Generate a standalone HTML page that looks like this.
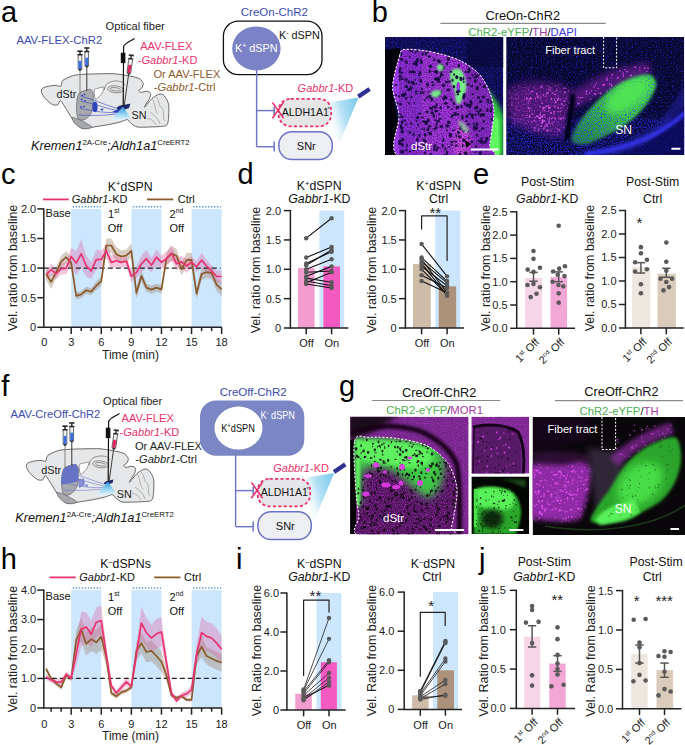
<!DOCTYPE html>
<html><head><meta charset="utf-8"><style>
html,body{margin:0;padding:0;background:#fff;width:685px;height:745px;overflow:hidden}
svg{display:block}
text{font-family:"Liberation Sans", sans-serif}
</style></head><body>
<svg width="685" height="745" viewBox="0 0 685 745" font-family='"Liberation Sans", sans-serif'>
<defs><linearGradient id="coneA" x1="0" y1="0" x2="0" y2="1"><stop offset="0" stop-color="#2f8fe0"/><stop offset="0.5" stop-color="#8ccff2"/><stop offset="1" stop-color="#eef8fd"/></linearGradient><linearGradient id="coneB" x1="1" y1="0" x2="0" y2="0.6"><stop offset="0" stop-color="#74c8ec"/><stop offset="0.55" stop-color="#b4e1f5"/><stop offset="1" stop-color="#ffffff" stop-opacity="0.3"/></linearGradient><filter id="bl1" x="-50%" y="-50%" width="200%" height="200%"><feGaussianBlur stdDeviation="0.5"/></filter><filter id="bl2" x="-50%" y="-50%" width="200%" height="200%"><feGaussianBlur stdDeviation="1.0"/></filter><filter id="bl3" x="-50%" y="-50%" width="200%" height="200%"><feGaussianBlur stdDeviation="1.5"/></filter><filter id="bl4" x="-50%" y="-50%" width="200%" height="200%"><feGaussianBlur stdDeviation="2.0"/></filter><filter id="bl5" x="-50%" y="-50%" width="200%" height="200%"><feGaussianBlur stdDeviation="2.5"/></filter><filter id="bl6" x="-50%" y="-50%" width="200%" height="200%"><feGaussianBlur stdDeviation="3.0"/></filter><filter id="bl8" x="-50%" y="-50%" width="200%" height="200%"><feGaussianBlur stdDeviation="4.0"/></filter><filter id="spBlue" x="0" y="0" width="100%" height="100%" color-interpolation-filters="sRGB"><feTurbulence type="fractalNoise" baseFrequency="0.8" numOctaves="1" seed="3"/><feColorMatrix type="matrix" values="0 0 0 0 0.15  0 0 0 0 0.15  0 0 0 0 0.9  3.0 0 0 0 -1.55"/></filter><filter id="spBlue2" x="0" y="0" width="100%" height="100%" color-interpolation-filters="sRGB"><feTurbulence type="fractalNoise" baseFrequency="0.7" numOctaves="1" seed="7"/><feColorMatrix type="matrix" values="0 0 0 0 0.2  0 0 0 0 0.2  0 0 0 0 1.0  3.0 0 0 0 -1.4"/></filter><filter id="spMag" x="0" y="0" width="100%" height="100%" color-interpolation-filters="sRGB"><feTurbulence type="fractalNoise" baseFrequency="0.7" numOctaves="1" seed="5"/><feColorMatrix type="matrix" values="0 0 0 0 0.8  0 0 0 0 0.2  0 0 0 0 0.85  3.0 0 0 0 -1.6"/></filter><filter id="spMagF" x="0" y="0" width="100%" height="100%" color-interpolation-filters="sRGB"><feTurbulence type="fractalNoise" baseFrequency="0.9" numOctaves="1" seed="21"/><feColorMatrix type="matrix" values="0 0 0 0 0.7  0 0 0 0 0.2  0 0 0 0 0.8  2.5 0 0 0 -1.1"/></filter><filter id="spMagD" x="0" y="0" width="100%" height="100%" color-interpolation-filters="sRGB"><feTurbulence type="fractalNoise" baseFrequency="0.8" numOctaves="1" seed="11"/><feColorMatrix type="matrix" values="0 0 0 0 0.35  0 0 0 0 0.05  0 0 0 0 0.45  2.2 0 0 0 -0.8"/></filter><filter id="spGreen" x="0" y="0" width="100%" height="100%" color-interpolation-filters="sRGB"><feTurbulence type="fractalNoise" baseFrequency="0.7" numOctaves="1" seed="9"/><feColorMatrix type="matrix" values="0 0 0 0 0.3  0 0 0 0 0.95  0 0 0 0 0.3  3.0 0 0 0 -1.5"/></filter><clipPath id="cb1"><rect x="385" y="37" width="118.30000000000001" height="118"/></clipPath><clipPath id="cb1s"><path d="M399.50,56.00 C401.21,50.39 400.37,50.31 404.00,49.50 C407.63,48.69 417.91,49.85 423.70,50.60 C429.49,51.35 436.92,52.90 442.60,54.50 C448.29,56.10 456.19,58.43 461.60,61.30 C467.02,64.16 474.57,69.19 478.70,73.60 C482.82,78.01 486.82,85.28 489.10,90.70 C491.38,96.12 493.46,104.00 493.90,109.70 C494.33,115.40 492.64,123.28 492.00,128.70 C491.36,134.11 490.05,141.56 489.60,145.80 C489.15,150.05 502.51,155.32 489.00,157.00 C475.49,158.68 413.00,163.24 399.50,157.00 C386.00,150.76 400.03,125.92 399.00,115.40 C397.97,104.89 392.53,95.81 392.60,86.90 C392.68,77.99 397.79,61.61 399.50,56.00 Z"/></clipPath><clipPath id="cb2"><rect x="506.2" y="37" width="178.00000000000006" height="118"/></clipPath><mask id="cb2m" maskUnits="userSpaceOnUse" x="0" y="0" width="685" height="745"><path d="M508,90 C520,82 540,80 560,86 L573,91 C571,105 567,122 561,137 C545,135 528,129 512,123 C507,112 506,100 508,90 Z" fill="#fff" filter="url(#bl8)"/></mask><linearGradient id="snb2" x1="1" y1="0" x2="0" y2="1"><stop offset="0" stop-color="#46e046"/><stop offset="0.45" stop-color="#3ccc3c"/><stop offset="1" stop-color="#1f7a44"/></linearGradient><mask id="cb2g" maskUnits="userSpaceOnUse" x="0" y="0" width="685" height="745"><path d="M572.00,141.00 C570.50,138.00 574.33,131.00 577.00,126.00 C579.67,121.00 583.83,115.83 588.00,111.00 C592.17,106.17 597.00,101.33 602.00,97.00 C607.00,92.67 612.33,88.33 618.00,85.00 C623.67,81.67 630.67,78.67 636.00,77.00 C641.33,75.33 646.67,73.83 650.00,75.00 C653.33,76.17 656.00,80.00 656.00,84.00 C656.00,88.00 653.00,94.00 650.00,99.00 C647.00,104.00 642.67,109.33 638.00,114.00 C633.33,118.67 627.83,123.17 622.00,127.00 C616.17,130.83 609.00,134.17 603.00,137.00 C597.00,139.83 591.17,143.33 586.00,144.00 C580.83,144.67 573.50,144.00 572.00,141.00 Z" fill="#fff" filter="url(#bl4)"/></mask><clipPath id="cg1"><rect x="350.2" y="416.7" width="118.40000000000003" height="117.50000000000006"/></clipPath><clipPath id="cg1s"><path d="M354.60,441.00 C356.58,432.70 362.63,437.66 369.20,437.30 C375.77,436.94 389.64,437.31 398.40,438.60 C407.16,439.89 420.16,442.18 427.60,445.90 C435.04,449.62 443.62,457.26 448.00,463.40 C452.38,469.53 455.70,480.23 456.80,486.80 C457.90,493.37 456.11,501.08 455.30,507.20 C454.49,513.32 452.12,523.28 451.40,527.60 C450.68,531.92 464.12,534.74 450.50,536.00 C436.88,537.26 374.33,539.00 360.60,536.00 C346.88,533.00 359.69,522.51 359.00,516.00 C358.31,509.49 356.66,503.85 356.00,492.60 C355.34,481.35 352.62,449.30 354.60,441.00 Z"/></clipPath><clipPath id="cg2"><rect x="471.4" y="416.7" width="57.8" height="56.9"/></clipPath><clipPath id="cg3"><rect x="471.4" y="476.5" width="57.8" height="57.6"/></clipPath><clipPath id="cg4"><rect x="532.6" y="417" width="152.4" height="118"/></clipPath><mask id="cg4t" maskUnits="userSpaceOnUse" x="0" y="0" width="685" height="745"><path d="M526,466 C545,462 560,468 575,463 C583,461 589,465 592,470 C590,488 586,503 580,519 C562,524 545,520 526,518 Z" fill="#fff" filter="url(#bl6)"/></mask></defs>
<rect width="685" height="745" fill="#fff"/>
<text x="0.90" y="22.00" font-size="29" fill="#000" text-anchor="start" >a</text>
<text x="371.70" y="21.80" font-size="29" fill="#000" text-anchor="start" >b</text>
<text x="0.90" y="184.00" font-size="29" fill="#000" text-anchor="start" >c</text>
<text x="237.40" y="184.20" font-size="29" fill="#000" text-anchor="start" >d</text>
<text x="473.00" y="184.00" font-size="29" fill="#000" text-anchor="start" >e</text>
<text x="1.20" y="395.70" font-size="29" fill="#000" text-anchor="start" >f</text>
<text x="339.00" y="396.30" font-size="29" fill="#000" text-anchor="start" >g</text>
<text x="0.70" y="568.90" font-size="29" fill="#000" text-anchor="start" >h</text>
<text x="236.00" y="568.70" font-size="29" fill="#000" text-anchor="start" >i</text>
<text x="479.00" y="569.00" font-size="29" fill="#000" text-anchor="start" >j</text>
<g transform="translate(0,0)">
<path d="M61.00,86.00 C61.41,85.30 61.54,81.42 63.00,80.20 C64.46,78.98 71.05,76.19 73.50,75.50 C75.95,74.81 80.91,74.50 84.00,74.30 C87.09,74.10 96.38,73.86 100.00,73.80 C103.62,73.74 111.38,73.52 115.00,73.80 C118.62,74.08 128.13,75.62 131.00,76.20 C133.87,76.78 138.16,77.94 139.60,78.80 C141.03,79.66 143.04,82.53 143.30,83.60 C143.56,84.67 142.35,87.21 141.80,88.00 C141.25,88.79 138.69,89.89 138.60,90.40 C138.51,90.91 140.01,92.31 141.00,92.40 C141.99,92.49 145.98,91.08 147.10,91.20 C148.22,91.32 150.32,92.55 150.60,93.40 C150.88,94.25 150.04,97.26 149.50,98.50 C148.96,99.74 146.57,102.98 146.00,104.00 C145.43,105.02 143.90,107.84 144.60,107.20 C145.30,106.56 150.33,100.02 152.00,98.50 C153.67,96.98 157.59,94.63 158.90,94.20 C160.21,93.77 162.27,94.16 163.20,94.80 C164.13,95.44 166.25,98.41 166.90,99.70 C167.55,101.00 168.62,103.58 168.80,105.90 C168.98,108.22 168.76,117.28 168.40,119.60 C168.04,121.92 167.89,124.94 165.70,125.80 C163.51,126.66 152.94,126.86 149.60,127.00 C146.26,127.14 139.27,127.43 137.10,127.00 C134.93,126.57 132.16,124.16 131.00,123.30 C129.84,122.44 128.51,119.74 127.20,119.60 C125.89,119.46 121.97,121.52 119.80,122.10 C117.63,122.68 111.21,124.10 108.60,124.60 C105.99,125.10 99.57,126.04 97.40,126.40 C95.23,126.76 91.83,127.48 90.00,127.70 C88.17,127.92 83.62,129.14 81.70,128.30 C79.78,127.46 75.27,122.70 73.50,120.50 C71.73,118.30 68.03,111.73 66.50,109.40 C64.97,107.07 61.41,101.04 60.40,100.50 C59.38,99.96 58.72,104.32 57.80,104.80 C56.88,105.28 53.94,105.30 52.50,104.60 C51.06,103.90 46.80,100.23 45.50,98.80 C44.20,97.36 41.74,93.54 41.40,92.30 C41.06,91.06 41.77,88.91 42.60,88.20 C43.43,87.49 47.05,86.53 48.50,86.20 C49.95,85.87 53.72,85.40 55.00,85.40 C56.28,85.40 58.80,86.13 59.50,86.20 C60.20,86.27 60.59,86.70 61.00,86.00 Z" fill="#e6e7e8" stroke="#3a3a3a" stroke-width="0.75" />
<ellipse cx="115.5" cy="89.3" rx="7.8" ry="3.4" fill="none" stroke="#555" stroke-width="0.6" transform="rotate(6 115.5 89.3)"/>
<ellipse cx="115.5" cy="89.3" rx="5.2" ry="1.6" fill="none" stroke="#555" stroke-width="0.6" transform="rotate(6 115.5 89.3)"/>
<path d="M104.5,90 C104,84 110,80.5 118,81 C122,81.5 124,83 124.5,85" fill="none" stroke="#555" stroke-width="0.6" />
<path d="M94.60,89.50 C95.21,88.57 97.76,88.31 99.00,88.00 C100.24,87.69 103.37,86.80 103.90,87.20 C104.43,87.60 103.33,90.04 103.00,91.00 C102.67,91.96 102.07,93.53 101.40,94.40 C100.73,95.27 98.76,96.82 98.00,97.50 C97.24,98.18 96.18,99.83 95.70,99.50 C95.22,99.17 94.55,96.33 94.40,95.00 C94.25,93.67 93.99,90.43 94.60,89.50 Z" fill="#ffffff" stroke="#555" stroke-width="0.6" />
<path d="M152,99 C156,104 154,110 158,114 M156,97 C160,100 158,106 162,108 C165,112 162,118 165,121 M150,112 C154,115 158,118 160,124 M147,118 C151,119 154,121 156,125" fill="none" stroke="#777" stroke-width="0.5" />
<path d="M72.20,117.50 C72.83,116.99 77.48,118.81 79.40,119.60 C81.32,120.39 84.97,122.47 86.60,123.40 C88.23,124.33 91.32,125.91 91.60,126.60 C91.88,127.29 90.02,128.37 88.70,128.60 C87.38,128.83 83.57,128.99 81.70,128.30 C79.83,127.61 75.97,124.84 74.70,123.40 C73.43,121.96 71.57,118.01 72.20,117.50 Z" fill="#a7a9ac" stroke="#555" stroke-width="0.6" />
<path d="M79.40,93.00 C80.65,91.68 84.85,90.57 86.40,90.10 C87.95,89.63 90.07,88.95 91.00,89.50 C91.93,90.05 93.11,92.67 93.40,94.20 C93.69,95.73 93.28,99.13 93.20,101.00 C93.12,102.87 93.24,106.31 92.80,108.20 C92.36,110.09 91.07,113.64 89.90,115.20 C88.73,116.76 85.56,119.43 84.00,119.90 C82.44,120.37 79.20,120.10 78.20,118.70 C77.20,117.30 76.66,111.89 76.50,109.40 C76.34,106.91 76.61,102.19 77.00,100.00 C77.39,97.81 78.15,94.32 79.40,93.00 Z" fill="#a7a9ac" stroke="#555" stroke-width="0.6" />
<path d="M80.5,96 C95,100 108,106 119,109 M81,101 C95,104 108,109 119,111 M80,108 C95,112 108,113 118,112.5 M79,115 C95,116 108,115 116,114" fill="none" stroke="#2f43c0" stroke-width="0.6" />
<ellipse cx="82" cy="95.5" rx="1.1" ry="0.8" fill="#2f43c0"/>
<ellipse cx="84.5" cy="94.5" rx="1.1" ry="0.8" fill="#2f43c0"/>
<ellipse cx="81.6" cy="99.5" rx="1.1" ry="0.8" fill="#2f43c0"/>
<ellipse cx="85" cy="101" rx="1.1" ry="0.8" fill="#2f43c0"/>
<ellipse cx="81" cy="107" rx="1.1" ry="0.8" fill="#2f43c0"/>
<ellipse cx="84" cy="106.5" rx="1.1" ry="0.8" fill="#2f43c0"/>
<ellipse cx="95" cy="107" rx="2.6" ry="5.2" fill="#2f43c0"/>
<ellipse cx="102" cy="109.5" rx="1.5" ry="1.0" fill="#2f43c0"/>
<path d="M112,112 L120,108 L126,110 L120,113 Z" fill="#2f43c0"/>
<path d="M117,107.5 C120,104.5 126,105 130.5,103.5 L129,108 C125,110 120,110 117,109 Z" fill="#1f2a6e"/>
<path d="M122.9,106.5 L111.5,120 C116,121 125,120.5 130.5,117.5 Z" fill="url(#coneA)"/>
</g>
<g transform="translate(0,0)">
<g transform="rotate(0,80.0,60.4)">
<rect x="77.40" y="50.40" width="5.20" height="1.60" fill="#222" />
<line x1="80.00" y1="52.00" x2="80.00" y2="54.60" stroke="#222" stroke-width="1.4" />
<rect x="77.40" y="54.00" width="5.20" height="1.20" fill="#222" />
<rect x="78.10" y="55.20" width="3.80" height="13.80" fill="#f0f0f0" stroke="#333" stroke-width="0.7"/>
<rect x="78.50" y="60.90" width="3.00" height="8.00" fill="#3a6fe0" />
<path d="M78.1,69.0 L81.9,69.0 L80.6,71.0 L79.4,71.0 Z" fill="#333"/>
<line x1="80.00" y1="71.00" x2="80.00" y2="93.50" stroke="#777" stroke-width="0.9" />
</g>
<g transform="rotate(0,86.8,57.2)">
<rect x="84.20" y="47.20" width="5.20" height="1.60" fill="#222" />
<line x1="86.80" y1="48.80" x2="86.80" y2="51.40" stroke="#222" stroke-width="1.4" />
<rect x="84.20" y="50.80" width="5.20" height="1.20" fill="#222" />
<rect x="84.90" y="52.00" width="3.80" height="13.80" fill="#f0f0f0" stroke="#333" stroke-width="0.7"/>
<rect x="85.30" y="57.70" width="3.00" height="8.00" fill="#3a6fe0" />
<path d="M84.89999999999999,65.80000000000001 L88.7,65.80000000000001 L87.39999999999999,67.80000000000001 L86.2,67.80000000000001 Z" fill="#333"/>
<line x1="86.80" y1="67.80" x2="86.80" y2="90.50" stroke="#222" stroke-width="0.9" />
</g>
<path d="M134.5,38.5 C131,41 125,42.5 123.6,46.5 L123.2,107" fill="none" stroke="#111" stroke-width="1.2" />
<rect x="120.80" y="52.70" width="4.60" height="10.40" fill="#111" />
<g transform="rotate(8,130.0,64.4)">
<rect x="127.40" y="54.40" width="5.20" height="1.60" fill="#222" />
<line x1="130.00" y1="56.00" x2="130.00" y2="58.60" stroke="#222" stroke-width="1.4" />
<rect x="127.40" y="58.00" width="5.20" height="1.20" fill="#222" />
<rect x="128.10" y="59.20" width="3.80" height="13.80" fill="#f0f0f0" stroke="#333" stroke-width="0.7"/>
<rect x="128.50" y="64.90" width="3.00" height="8.00" fill="#e0245e" />
<path d="M128.1,73.0 L131.9,73.0 L130.6,75.0 L129.4,75.0 Z" fill="#333"/>
<line x1="130.00" y1="75.00" x2="130.00" y2="106.00" stroke="#333" stroke-width="0.9" />
</g>
</g>
<g transform="translate(-15,375)">
<path d="M61.00,86.00 C61.41,85.30 61.54,81.42 63.00,80.20 C64.46,78.98 71.05,76.19 73.50,75.50 C75.95,74.81 80.91,74.50 84.00,74.30 C87.09,74.10 96.38,73.86 100.00,73.80 C103.62,73.74 111.38,73.52 115.00,73.80 C118.62,74.08 128.13,75.62 131.00,76.20 C133.87,76.78 138.16,77.94 139.60,78.80 C141.03,79.66 143.04,82.53 143.30,83.60 C143.56,84.67 142.35,87.21 141.80,88.00 C141.25,88.79 138.69,89.89 138.60,90.40 C138.51,90.91 140.01,92.31 141.00,92.40 C141.99,92.49 145.98,91.08 147.10,91.20 C148.22,91.32 150.32,92.55 150.60,93.40 C150.88,94.25 150.04,97.26 149.50,98.50 C148.96,99.74 146.57,102.98 146.00,104.00 C145.43,105.02 143.90,107.84 144.60,107.20 C145.30,106.56 150.33,100.02 152.00,98.50 C153.67,96.98 157.59,94.63 158.90,94.20 C160.21,93.77 162.27,94.16 163.20,94.80 C164.13,95.44 166.25,98.41 166.90,99.70 C167.55,101.00 168.62,103.58 168.80,105.90 C168.98,108.22 168.76,117.28 168.40,119.60 C168.04,121.92 167.89,124.94 165.70,125.80 C163.51,126.66 152.94,126.86 149.60,127.00 C146.26,127.14 139.27,127.43 137.10,127.00 C134.93,126.57 132.16,124.16 131.00,123.30 C129.84,122.44 128.51,119.74 127.20,119.60 C125.89,119.46 121.97,121.52 119.80,122.10 C117.63,122.68 111.21,124.10 108.60,124.60 C105.99,125.10 99.57,126.04 97.40,126.40 C95.23,126.76 91.83,127.48 90.00,127.70 C88.17,127.92 83.62,129.14 81.70,128.30 C79.78,127.46 75.27,122.70 73.50,120.50 C71.73,118.30 68.03,111.73 66.50,109.40 C64.97,107.07 61.41,101.04 60.40,100.50 C59.38,99.96 58.72,104.32 57.80,104.80 C56.88,105.28 53.94,105.30 52.50,104.60 C51.06,103.90 46.80,100.23 45.50,98.80 C44.20,97.36 41.74,93.54 41.40,92.30 C41.06,91.06 41.77,88.91 42.60,88.20 C43.43,87.49 47.05,86.53 48.50,86.20 C49.95,85.87 53.72,85.40 55.00,85.40 C56.28,85.40 58.80,86.13 59.50,86.20 C60.20,86.27 60.59,86.70 61.00,86.00 Z" fill="#e6e7e8" stroke="#3a3a3a" stroke-width="0.75" />
<ellipse cx="115.5" cy="89.3" rx="7.8" ry="3.4" fill="none" stroke="#555" stroke-width="0.6" transform="rotate(6 115.5 89.3)"/>
<ellipse cx="115.5" cy="89.3" rx="5.2" ry="1.6" fill="none" stroke="#555" stroke-width="0.6" transform="rotate(6 115.5 89.3)"/>
<path d="M104.5,90 C104,84 110,80.5 118,81 C122,81.5 124,83 124.5,85" fill="none" stroke="#555" stroke-width="0.6" />
<path d="M94.60,89.50 C95.21,88.57 97.76,88.31 99.00,88.00 C100.24,87.69 103.37,86.80 103.90,87.20 C104.43,87.60 103.33,90.04 103.00,91.00 C102.67,91.96 102.07,93.53 101.40,94.40 C100.73,95.27 98.76,96.82 98.00,97.50 C97.24,98.18 96.18,99.83 95.70,99.50 C95.22,99.17 94.55,96.33 94.40,95.00 C94.25,93.67 93.99,90.43 94.60,89.50 Z" fill="#ffffff" stroke="#555" stroke-width="0.6" />
<path d="M152,99 C156,104 154,110 158,114 M156,97 C160,100 158,106 162,108 C165,112 162,118 165,121 M150,112 C154,115 158,118 160,124 M147,118 C151,119 154,121 156,125" fill="none" stroke="#777" stroke-width="0.5" />
<path d="M72.20,117.50 C72.83,116.99 77.48,118.81 79.40,119.60 C81.32,120.39 84.97,122.47 86.60,123.40 C88.23,124.33 91.32,125.91 91.60,126.60 C91.88,127.29 90.02,128.37 88.70,128.60 C87.38,128.83 83.57,128.99 81.70,128.30 C79.83,127.61 75.97,124.84 74.70,123.40 C73.43,121.96 71.57,118.01 72.20,117.50 Z" fill="#a7a9ac" stroke="#555" stroke-width="0.6" />
<path d="M79.40,93.00 C80.65,91.68 84.85,90.57 86.40,90.10 C87.95,89.63 90.07,88.95 91.00,89.50 C91.93,90.05 93.11,92.67 93.40,94.20 C93.69,95.73 93.28,99.13 93.20,101.00 C93.12,102.87 93.24,106.31 92.80,108.20 C92.36,110.09 91.07,113.64 89.90,115.20 C88.73,116.76 85.56,119.43 84.00,119.90 C82.44,120.37 79.20,120.10 78.20,118.70 C77.20,117.30 76.66,111.89 76.50,109.40 C76.34,106.91 76.61,102.19 77.00,100.00 C77.39,97.81 78.15,94.32 79.40,93.00 Z" fill="#a7a9ac" stroke="#555" stroke-width="0.6" />
<path d="M79.40,93.00 C80.65,91.68 84.85,90.57 86.40,90.10 C87.95,89.63 90.07,88.95 91.00,89.50 C91.93,90.05 93.11,92.67 93.40,94.20 C93.69,95.73 93.31,99.43 93.20,101.00 C93.09,102.57 93.83,105.00 92.60,106.00 C91.37,107.00 86.13,108.10 84.00,108.50 C81.87,108.90 77.53,110.13 76.60,109.00 C75.67,107.87 76.63,102.13 77.00,100.00 C77.37,97.87 78.15,94.32 79.40,93.00 Z" fill="#5a68c8" stroke="none" stroke-width="0" fill-opacity="0.85"/>
<path d="M93,104 L99,103.5 L100,110 L94,113 Z" fill="#5a68c8" stroke="none" stroke-width="0" fill-opacity="0.7"/>
<path d="M80.5,96 C95,100 108,106 119,109 M81,101 C95,104 108,109 119,111 M80,108 C95,112 108,113 118,112.5 M79,115 C95,116 108,115 116,114" fill="none" stroke="#6b78d0" stroke-width="0.6" />
<ellipse cx="101.6" cy="110.6" rx="1.4" ry="1.0" fill="#6b78d0"/>
<path d="M119,108 C121,105.5 125,105.5 128.5,104.5 L127.5,108 C124,109.5 121,109.5 119,109 Z" fill="#1f2a6e"/>
<path d="M122.9,106.5 L111.5,120 C116,121 125,120.5 130.5,117.5 Z" fill="url(#coneA)"/>
</g>
<g transform="translate(-15,375)">
<g transform="rotate(0,80.0,60.4)">
<rect x="77.40" y="50.40" width="5.20" height="1.60" fill="#222" />
<line x1="80.00" y1="52.00" x2="80.00" y2="54.60" stroke="#222" stroke-width="1.4" />
<rect x="77.40" y="54.00" width="5.20" height="1.20" fill="#222" />
<rect x="78.10" y="55.20" width="3.80" height="13.80" fill="#f0f0f0" stroke="#333" stroke-width="0.7"/>
<rect x="78.50" y="60.90" width="3.00" height="8.00" fill="#3a6fe0" />
<path d="M78.1,69.0 L81.9,69.0 L80.6,71.0 L79.4,71.0 Z" fill="#333"/>
<line x1="80.00" y1="71.00" x2="80.00" y2="93.50" stroke="#777" stroke-width="0.9" />
</g>
<g transform="rotate(0,86.8,57.2)">
<rect x="84.20" y="47.20" width="5.20" height="1.60" fill="#222" />
<line x1="86.80" y1="48.80" x2="86.80" y2="51.40" stroke="#222" stroke-width="1.4" />
<rect x="84.20" y="50.80" width="5.20" height="1.20" fill="#222" />
<rect x="84.90" y="52.00" width="3.80" height="13.80" fill="#f0f0f0" stroke="#333" stroke-width="0.7"/>
<rect x="85.30" y="57.70" width="3.00" height="8.00" fill="#3a6fe0" />
<path d="M84.89999999999999,65.80000000000001 L88.7,65.80000000000001 L87.39999999999999,67.80000000000001 L86.2,67.80000000000001 Z" fill="#333"/>
<line x1="86.80" y1="67.80" x2="86.80" y2="90.50" stroke="#222" stroke-width="0.9" />
</g>
<path d="M134.5,38.5 C131,41 125,42.5 123.6,46.5 L123.2,107" fill="none" stroke="#111" stroke-width="1.2" />
<rect x="120.80" y="52.70" width="4.60" height="10.40" fill="#111" />
<g transform="rotate(8,130.0,64.4)">
<rect x="127.40" y="54.40" width="5.20" height="1.60" fill="#222" />
<line x1="130.00" y1="56.00" x2="130.00" y2="58.60" stroke="#222" stroke-width="1.4" />
<rect x="127.40" y="58.00" width="5.20" height="1.20" fill="#222" />
<rect x="128.10" y="59.20" width="3.80" height="13.80" fill="#f0f0f0" stroke="#333" stroke-width="0.7"/>
<rect x="128.50" y="64.90" width="3.00" height="8.00" fill="#e0245e" />
<path d="M128.1,73.0 L131.9,73.0 L130.6,75.0 L129.4,75.0 Z" fill="#333"/>
<line x1="130.00" y1="75.00" x2="130.00" y2="106.00" stroke="#333" stroke-width="0.9" />
</g>
</g>
<text x="16.40" y="43.80" font-size="11.3" fill="#3b4cb0" text-anchor="start" >AAV-FLEX-ChR2</text>
<text x="105.60" y="29.90" font-size="11.1" fill="#222" text-anchor="start" >Optical fiber</text>
<text x="140.20" y="50.20" font-size="11.1" fill="#e8336e" text-anchor="start" >AAV-FLEX</text>
<text x="137.70" y="64.10" font-size="11.1" fill="#e8336e" text-anchor="start" >-<tspan font-style="italic">Gabbr1</tspan>-KD</text>
<text x="153.40" y="77.90" font-size="11.1" fill="#8b5a2b" text-anchor="start" >Or AAV-FLEX</text>
<text x="153.80" y="91.20" font-size="11.1" fill="#8b5a2b" text-anchor="start" >-<tspan font-style="italic">Gabbr1</tspan>-Ctrl</text>
<text x="56.50" y="97.70" font-size="10.8" fill="#222" text-anchor="start" >dStr</text>
<text x="131.60" y="119.10" font-size="10.8" fill="#222" text-anchor="start" >SN</text>
<text x="31.00" y="150.30" font-size="12.7" fill="#111" text-anchor="start" font-style="italic" >Kremen1<tspan font-size="7.8" font-style="normal" dy="-5">2A-Cre</tspan><tspan dy="5">;Aldh1a1</tspan><tspan font-size="7.8" font-style="normal" dy="-5">CreERT2</tspan></text>
<text x="10.50" y="418.40" font-size="11.2" fill="#3b4cb0" text-anchor="start" >AAV-CreOff-ChR2</text>
<text x="103.00" y="404.90" font-size="11.1" fill="#222" text-anchor="start" >Optical fiber</text>
<text x="121.60" y="421.90" font-size="11.1" fill="#e8336e" text-anchor="start" >AAV-FLEX</text>
<text x="119.50" y="435.90" font-size="11.1" fill="#e8336e" text-anchor="start" >-<tspan font-style="italic">Gabbr1</tspan>-KD</text>
<text x="134.90" y="449.60" font-size="11.1" fill="#222" text-anchor="start" >Or AAV-FLEX</text>
<text x="135.30" y="462.70" font-size="11.1" fill="#222" text-anchor="start" >-<tspan font-style="italic">Gabbr1</tspan>-Ctrl</text>
<text x="41.30" y="473.90" font-size="10.8" fill="#222" text-anchor="start" >dStr</text>
<text x="116.80" y="498.20" font-size="10.8" fill="#222" text-anchor="start" >SN</text>
<text x="15.20" y="522.00" font-size="12.7" fill="#111" text-anchor="start" font-style="italic" >Kremen1<tspan font-size="7.8" font-style="normal" dy="-5">2A-Cre</tspan><tspan dy="5">;Aldh1a1</tspan><tspan font-size="7.8" font-style="normal" dy="-5">CreERT2</tspan></text>
<text x="240.80" y="16.10" font-size="11.5" fill="#3b4cb0" text-anchor="start" >CreOn-ChR2</text>
<rect x="223.4" y="21.1" width="98.6" height="53.6" rx="15" fill="#fff" stroke="#111" stroke-width="1.3"/>
<line x1="256.60" y1="68.00" x2="256.60" y2="146.70" stroke="#6b74c4" stroke-width="1.4" />
<ellipse cx="256.4" cy="48.4" rx="24.2" ry="22" fill="#7b82c6"/>
<text x="235.00" y="52.20" font-size="10.8" fill="#fff" text-anchor="start" >K<tspan font-size="7" dy="-4">+</tspan><tspan dy="4"> dSPN</tspan></text>
<text x="279.00" y="38.90" font-size="10.8" fill="#111" text-anchor="start" >K<tspan font-size="7" dy="-4">-</tspan><tspan dy="4"> dSPN</tspan></text>
<g transform="translate(0,0)">
<path d="M358.5,97.5 L330.6,102.3 L335.5,152.5 Z" fill="url(#coneB)"/>
<line x1="358.30" y1="96.60" x2="369.60" y2="89.00" stroke="#2e3192" stroke-width="4.3" />
</g>
<g transform="translate(0,0)">
<text x="297.60" y="92.40" font-size="11" fill="#e8336e" text-anchor="start" ><tspan font-style="italic">Gabbr1</tspan>-KD</text>
</g>
<g transform="translate(0,0)">
<line x1="256.60" y1="110.60" x2="274.20" y2="110.60" stroke="#6b74c4" stroke-width="1.4" />
<line x1="274.20" y1="106.60" x2="274.20" y2="115.20" stroke="#6b74c4" stroke-width="1.5" />
<line x1="256.60" y1="146.70" x2="274.20" y2="146.70" stroke="#6b74c4" stroke-width="1.4" />
<line x1="274.20" y1="141.50" x2="274.20" y2="151.50" stroke="#6b74c4" stroke-width="1.5" />
<rect x="278.6" y="98.8" width="52.6" height="27.6" rx="12" fill="#e6e6e8" stroke="#e8336e" stroke-width="1.8" stroke-dasharray="3.2 2.2"/>
<text x="281.80" y="116.30" font-size="10.6" fill="#111" text-anchor="start" >ALDH1A1</text>
<text x="327.60" y="110.50" font-size="6" fill="#333" text-anchor="start" >*</text>
<line x1="272.40" y1="102.40" x2="283.60" y2="118.20" stroke="#e8336e" stroke-width="1.6" />
<line x1="283.60" y1="102.40" x2="272.40" y2="118.20" stroke="#e8336e" stroke-width="1.6" />
<rect x="278.9" y="131.7" width="53.4" height="27.8" rx="13" fill="#eeeff2" stroke="#6b74c4" stroke-width="1.5"/>
<text x="296.80" y="149.70" font-size="11" fill="#111" text-anchor="start" >SNr</text>
</g>
<text x="219.80" y="395.90" font-size="11.5" fill="#3b4cb0" text-anchor="start" >CreOff-ChR2</text>
<rect x="200" y="400.6" width="104.3" height="55.1" rx="16" fill="#7b86c4"/>
<line x1="235.60" y1="455.00" x2="235.60" y2="526.60" stroke="#6b74c4" stroke-width="1.4" />
<ellipse cx="238.5" cy="428.1" rx="24" ry="21.5" fill="#fff"/>
<text x="221.20" y="431.90" font-size="10.8" fill="#111" text-anchor="start" textLength="33.6" lengthAdjust="spacingAndGlyphs">K<tspan font-size="7" dy="-4">+</tspan><tspan dy="4">dSPN</tspan></text>
<text x="260.40" y="419.00" font-size="10.8" fill="#fff" text-anchor="start" textLength="34.6" lengthAdjust="spacingAndGlyphs">K<tspan font-size="7" dy="-4">-</tspan><tspan dy="4"> dSPN</tspan></text>
<g transform="translate(-24.3,375.4)">
<path d="M358.5,97.5 L330.6,102.3 L335.5,152.5 Z" fill="url(#coneB)"/>
<line x1="358.30" y1="96.60" x2="369.60" y2="89.00" stroke="#2e3192" stroke-width="4.3" />
</g>
<g transform="translate(-24.3,379.6)">
<text x="297.60" y="92.40" font-size="11" fill="#e8336e" text-anchor="start" ><tspan font-style="italic">Gabbr1</tspan>-KD</text>
</g>
<g transform="translate(-21,380)">
<line x1="256.60" y1="110.60" x2="274.20" y2="110.60" stroke="#6b74c4" stroke-width="1.4" />
<line x1="274.20" y1="106.60" x2="274.20" y2="115.20" stroke="#6b74c4" stroke-width="1.5" />
<line x1="256.60" y1="146.70" x2="274.20" y2="146.70" stroke="#6b74c4" stroke-width="1.4" />
<line x1="274.20" y1="141.50" x2="274.20" y2="151.50" stroke="#6b74c4" stroke-width="1.5" />
<rect x="278.6" y="98.8" width="52.6" height="27.6" rx="12" fill="#e6e6e8" stroke="#e8336e" stroke-width="1.8" stroke-dasharray="3.2 2.2"/>
<text x="281.80" y="116.30" font-size="10.6" fill="#111" text-anchor="start" >ALDH1A1</text>
<text x="327.60" y="110.50" font-size="6" fill="#333" text-anchor="start" >*</text>
<line x1="272.40" y1="102.40" x2="283.60" y2="118.20" stroke="#e8336e" stroke-width="1.6" />
<line x1="283.60" y1="102.40" x2="272.40" y2="118.20" stroke="#e8336e" stroke-width="1.6" />
<rect x="278.9" y="131.7" width="53.4" height="27.8" rx="13" fill="#eeeff2" stroke="#6b74c4" stroke-width="1.5"/>
<text x="296.80" y="149.70" font-size="11" fill="#111" text-anchor="start" >SNr</text>
</g>
<rect x="71.19" y="208.90" width="30.09" height="118.40" fill="#cce7fd" />
<line x1="72.69" y1="206.70" x2="100.78" y2="206.70" stroke="#5b9bd5" stroke-width="1.5" stroke-dasharray="1.4 1.6"/>
<rect x="131.37" y="208.90" width="30.09" height="118.40" fill="#cce7fd" />
<line x1="132.87" y1="206.70" x2="160.96" y2="206.70" stroke="#5b9bd5" stroke-width="1.5" stroke-dasharray="1.4 1.6"/>
<rect x="191.55" y="208.90" width="30.09" height="118.40" fill="#cce7fd" />
<line x1="193.05" y1="206.70" x2="221.14" y2="206.70" stroke="#5b9bd5" stroke-width="1.5" stroke-dasharray="1.4 1.6"/>
<polygon points="46.12,268.10 51.13,274.85 56.14,266.62 61.16,255.79 66.17,251.29 71.19,256.91 76.20,292.31 81.22,290.89 86.23,286.69 91.25,288.11 96.27,281.60 101.28,276.39 106.29,238.38 111.31,238.38 116.32,247.08 121.34,250.58 126.35,249.57 131.37,243.77 136.38,287.10 141.40,269.99 146.41,283.49 151.43,285.50 156.44,283.49 161.46,285.27 166.47,252.77 171.49,246.49 176.50,248.68 181.52,263.30 186.53,253.06 191.55,252.77 196.56,287.81 201.58,268.10 206.59,266.21 211.61,267.09 216.62,278.82 221.64,282.31 221.64,296.52 216.62,290.66 211.61,278.93 206.59,278.05 201.58,279.94 196.56,299.65 191.55,266.98 186.53,267.27 181.52,275.14 176.50,262.89 171.49,260.70 166.47,264.61 161.46,293.56 156.44,291.78 151.43,293.79 146.41,291.78 141.40,281.83 136.38,298.94 131.37,257.98 126.35,261.41 121.34,262.42 116.32,261.29 111.31,252.59 106.29,252.59 101.28,285.86 96.27,289.89 91.25,295.21 86.23,293.79 81.22,298.00 76.20,299.42 71.19,268.75 66.17,263.13 61.16,267.63 56.14,278.46 51.13,289.06 46.12,279.94" fill="#9a7d62" fill-opacity="0.38"/>
<polygon points="46.12,270.47 51.13,263.78 56.14,268.28 61.16,262.89 66.17,262.36 71.19,247.62 76.20,251.23 81.22,239.57 86.23,255.14 91.25,262.54 96.27,249.63 101.28,250.40 106.29,243.89 111.31,255.31 116.32,254.78 121.34,257.09 126.35,255.79 131.37,270.35 136.38,266.68 141.40,255.49 146.41,249.81 151.43,258.21 156.44,248.92 161.46,255.79 166.47,251.58 171.49,244.78 176.50,257.86 181.52,255.96 186.53,258.86 191.55,256.38 196.56,261.35 201.58,252.47 206.59,260.05 211.61,265.20 216.62,270.59 221.64,270.59 221.64,282.43 216.62,282.43 211.61,277.04 206.59,271.89 201.58,267.86 196.56,272.01 191.55,268.22 186.53,273.07 181.52,267.80 176.50,269.70 171.49,261.35 166.47,265.79 161.46,268.81 156.44,265.50 151.43,272.42 146.41,267.57 141.40,272.07 136.38,278.52 131.37,282.19 126.35,266.44 121.34,267.74 116.32,266.62 111.31,269.52 106.29,258.10 101.28,268.16 96.27,269.76 91.25,279.11 86.23,276.45 81.22,267.98 76.20,274.91 71.19,265.38 66.17,274.20 61.16,274.73 56.14,278.93 51.13,275.62 46.12,278.76" fill="#e06aa8" fill-opacity="0.38"/>
<line x1="43.80" y1="268.10" x2="220.50" y2="268.10" stroke="#222" stroke-width="1.3" stroke-dasharray="5 3"/>
<polyline points="46.12,274.02 51.13,281.95 56.14,272.54 61.16,261.71 66.17,257.21 71.19,262.83 76.20,295.86 81.22,294.44 86.23,290.24 91.25,291.66 96.27,285.74 101.28,281.12 106.29,245.49 111.31,245.49 116.32,254.19 121.34,256.50 126.35,255.49 131.37,250.87 136.38,293.02 141.40,275.91 146.41,287.64 151.43,289.65 156.44,287.64 161.46,289.41 166.47,258.69 171.49,253.60 176.50,255.79 181.52,269.22 186.53,260.17 191.55,259.87 196.56,293.73 201.58,274.02 206.59,272.13 211.61,273.01 216.62,284.74 221.64,289.41" stroke="#8b5a2b" fill="none" stroke-width="1.7" stroke-linejoin="round" />
<polyline points="46.12,274.61 51.13,269.70 56.14,273.61 61.16,268.81 66.17,268.28 71.19,256.50 76.20,263.07 81.22,253.77 86.23,265.79 91.25,270.82 96.27,259.69 101.28,259.28 106.29,250.99 111.31,262.42 116.32,260.70 121.34,262.42 126.35,261.11 131.37,276.27 136.38,272.60 141.40,263.78 146.41,258.69 151.43,265.32 156.44,257.21 161.46,262.30 166.47,258.69 171.49,253.06 176.50,263.78 181.52,261.88 186.53,265.97 191.55,262.30 196.56,266.68 201.58,260.17 206.59,265.97 211.61,271.12 216.62,276.51 221.64,276.51" stroke="#e8336e" fill="none" stroke-width="1.7" stroke-linejoin="round" />
<line x1="43.80" y1="208.30" x2="43.80" y2="327.90" stroke="#222" stroke-width="1.5" />
<line x1="43.10" y1="327.30" x2="221.90" y2="327.30" stroke="#222" stroke-width="1.5" />
<line x1="37.30" y1="327.30" x2="43.80" y2="327.30" stroke="#222" stroke-width="1.5" />
<text x="36.20" y="331.20" font-size="11" fill="#222" text-anchor="end" >0</text>
<line x1="37.30" y1="297.70" x2="43.80" y2="297.70" stroke="#222" stroke-width="1.5" />
<text x="36.20" y="301.60" font-size="11" fill="#222" text-anchor="end" >0.5</text>
<line x1="37.30" y1="268.10" x2="43.80" y2="268.10" stroke="#222" stroke-width="1.5" />
<text x="36.20" y="272.00" font-size="11" fill="#222" text-anchor="end" >1.0</text>
<line x1="37.30" y1="238.50" x2="43.80" y2="238.50" stroke="#222" stroke-width="1.5" />
<text x="36.20" y="242.40" font-size="11" fill="#222" text-anchor="end" >1.5</text>
<line x1="37.30" y1="208.90" x2="43.80" y2="208.90" stroke="#222" stroke-width="1.5" />
<text x="36.20" y="212.80" font-size="11" fill="#222" text-anchor="end" >2.0</text>
<line x1="51.13" y1="327.30" x2="51.13" y2="331.10" stroke="#222" stroke-width="1.5" />
<line x1="61.16" y1="327.30" x2="61.16" y2="331.10" stroke="#222" stroke-width="1.5" />
<line x1="71.19" y1="327.30" x2="71.19" y2="334.10" stroke="#222" stroke-width="1.5" />
<line x1="81.22" y1="327.30" x2="81.22" y2="331.10" stroke="#222" stroke-width="1.5" />
<line x1="91.25" y1="327.30" x2="91.25" y2="331.10" stroke="#222" stroke-width="1.5" />
<line x1="101.28" y1="327.30" x2="101.28" y2="334.10" stroke="#222" stroke-width="1.5" />
<line x1="111.31" y1="327.30" x2="111.31" y2="331.10" stroke="#222" stroke-width="1.5" />
<line x1="121.34" y1="327.30" x2="121.34" y2="331.10" stroke="#222" stroke-width="1.5" />
<line x1="131.37" y1="327.30" x2="131.37" y2="334.10" stroke="#222" stroke-width="1.5" />
<line x1="141.40" y1="327.30" x2="141.40" y2="331.10" stroke="#222" stroke-width="1.5" />
<line x1="151.43" y1="327.30" x2="151.43" y2="331.10" stroke="#222" stroke-width="1.5" />
<line x1="161.46" y1="327.30" x2="161.46" y2="334.10" stroke="#222" stroke-width="1.5" />
<line x1="171.49" y1="327.30" x2="171.49" y2="331.10" stroke="#222" stroke-width="1.5" />
<line x1="181.52" y1="327.30" x2="181.52" y2="331.10" stroke="#222" stroke-width="1.5" />
<line x1="191.55" y1="327.30" x2="191.55" y2="334.10" stroke="#222" stroke-width="1.5" />
<line x1="201.58" y1="327.30" x2="201.58" y2="331.10" stroke="#222" stroke-width="1.5" />
<line x1="211.61" y1="327.30" x2="211.61" y2="331.10" stroke="#222" stroke-width="1.5" />
<line x1="221.64" y1="327.30" x2="221.64" y2="334.10" stroke="#222" stroke-width="1.5" />
<text x="44.20" y="345.80" font-size="11" fill="#222" text-anchor="middle" >0</text>
<text x="71.19" y="345.80" font-size="11" fill="#222" text-anchor="middle" >3</text>
<text x="101.28" y="345.80" font-size="11" fill="#222" text-anchor="middle" >6</text>
<text x="131.37" y="345.80" font-size="11" fill="#222" text-anchor="middle" >9</text>
<text x="161.46" y="345.80" font-size="11" fill="#222" text-anchor="middle" >12</text>
<text x="191.55" y="345.80" font-size="11" fill="#222" text-anchor="middle" >15</text>
<text x="221.64" y="345.80" font-size="11" fill="#222" text-anchor="middle" >18</text>
<text x="130.50" y="358.60" font-size="12" fill="#222" text-anchor="middle" >Time (min)</text>
<text transform="translate(16.6,268.0) rotate(-90)" font-size="12.45" fill="#222" text-anchor="middle">Vel. ratio from baseline</text>
<text x="107.80" y="190.70" font-size="12.3" fill="#111" text-anchor="start" >K<tspan font-size="7.5" dy="-4.5">+</tspan><tspan dy="4.5">dSPN</tspan></text>
<line x1="42.90" y1="199.40" x2="68.70" y2="199.40" stroke="#e8336e" stroke-width="1.8" />
<text x="71.80" y="202.90" font-size="11" fill="#111" text-anchor="start" ><tspan font-style="italic">Gabbr1</tspan>-KD</text>
<line x1="147.00" y1="199.40" x2="173.20" y2="199.40" stroke="#8b5a2b" stroke-width="1.8" />
<text x="177.70" y="202.90" font-size="11" fill="#111" text-anchor="start" >Ctrl</text>
<text x="45.60" y="216.80" font-size="11" fill="#111" text-anchor="start" >Base</text>
<text x="108.00" y="217.60" font-size="11" fill="#111" text-anchor="start" >1<tspan font-size="6.8" dy="-4.6">st</tspan></text>
<text x="107.80" y="231.50" font-size="11" fill="#111" text-anchor="start" >Off</text>
<text x="169.50" y="217.60" font-size="11" fill="#111" text-anchor="start" >2<tspan font-size="6.8" dy="-4.6">nd</tspan></text>
<text x="169.50" y="231.50" font-size="11" fill="#111" text-anchor="start" >Off</text>
<rect x="71.19" y="590.10" width="30.09" height="117.80" fill="#cce7fd" />
<line x1="72.69" y1="587.90" x2="100.78" y2="587.90" stroke="#5b9bd5" stroke-width="1.5" stroke-dasharray="1.4 1.6"/>
<rect x="131.37" y="590.10" width="30.09" height="117.80" fill="#cce7fd" />
<line x1="132.87" y1="587.90" x2="160.96" y2="587.90" stroke="#5b9bd5" stroke-width="1.5" stroke-dasharray="1.4 1.6"/>
<rect x="191.55" y="590.10" width="30.09" height="117.80" fill="#cce7fd" />
<line x1="193.05" y1="587.90" x2="221.14" y2="587.90" stroke="#5b9bd5" stroke-width="1.5" stroke-dasharray="1.4 1.6"/>
<polygon points="46.12,665.96 51.13,676.24 56.14,681.04 61.16,685.05 66.17,672.35 71.19,676.24 76.20,631.04 81.22,617.67 86.23,632.13 91.25,627.32 96.27,630.53 101.28,623.44 106.29,650.24 111.31,690.73 116.32,693.94 121.34,689.94 126.35,688.26 131.37,685.05 136.38,642.37 141.40,632.80 146.41,641.70 151.43,640.61 156.44,645.70 161.46,651.39 166.47,669.41 171.49,693.15 176.50,695.83 181.52,694.53 186.53,698.03 191.55,698.03 196.56,647.17 201.58,636.40 206.59,647.17 211.61,649.59 216.62,652.06 221.64,653.98 221.64,671.65 216.62,669.73 211.61,667.26 206.59,664.84 201.58,657.01 196.56,664.84 191.55,701.57 186.53,701.57 181.52,698.06 176.50,699.36 171.49,697.86 166.47,681.19 161.46,672.00 156.44,666.32 151.43,661.22 146.41,662.31 141.40,653.42 136.38,660.04 131.37,689.76 126.35,692.97 121.34,694.65 116.32,698.65 111.31,695.44 106.29,664.96 101.28,649.94 96.27,654.09 91.25,650.88 86.23,655.69 81.22,641.23 76.20,648.71 71.19,680.95 66.17,678.24 61.16,689.76 56.14,685.75 51.13,680.95 46.12,671.85" fill="#9a7d62" fill-opacity="0.38"/>
<polygon points="46.12,674.03 51.13,676.98 56.14,678.86 61.16,679.16 66.17,671.56 71.19,675.21 76.20,641.93 81.22,611.45 86.23,612.28 91.25,621.02 96.27,607.48 101.28,605.86 106.29,645.55 111.31,682.87 116.32,690.14 121.34,683.87 126.35,677.39 131.37,682.78 136.38,645.55 141.40,606.80 146.41,617.99 151.43,624.76 156.44,619.08 161.46,617.16 166.47,653.65 171.49,690.14 176.50,698.45 181.52,692.56 186.53,690.38 191.55,685.37 196.56,644.08 201.58,616.52 206.59,621.67 211.61,623.29 216.62,628.38 221.64,636.04 221.64,662.55 216.62,657.83 211.61,652.74 206.59,651.12 201.58,648.91 196.56,664.70 191.55,694.21 186.53,697.45 181.52,698.45 176.50,703.16 171.49,696.03 166.47,671.32 161.46,646.61 156.44,648.53 151.43,651.27 146.41,647.44 141.40,639.19 136.38,663.22 131.37,689.85 126.35,686.22 121.34,690.94 116.32,696.03 111.31,688.76 106.29,663.22 101.28,635.31 96.27,636.93 91.25,647.53 86.23,641.73 81.22,646.79 76.20,665.49 71.19,681.10 66.17,677.45 61.16,685.05 56.14,684.75 51.13,682.87 46.12,679.92" fill="#e06aa8" fill-opacity="0.38"/>
<line x1="43.80" y1="678.45" x2="220.50" y2="678.45" stroke="#222" stroke-width="1.3" stroke-dasharray="5 3"/>
<polyline points="46.12,668.91 51.13,678.60 56.14,683.40 61.16,687.40 66.17,675.30 71.19,678.60 76.20,639.87 81.22,629.45 86.23,643.91 91.25,639.10 96.27,642.31 101.28,636.69 106.29,657.60 111.31,693.09 116.32,696.30 121.34,692.29 126.35,690.61 131.37,687.40 136.38,651.21 141.40,643.11 146.41,652.00 151.43,650.91 156.44,656.01 161.46,661.69 166.47,675.30 171.49,695.50 176.50,697.59 181.52,696.30 186.53,699.80 191.55,699.80 196.56,656.01 201.58,646.70 206.59,656.01 211.61,658.42 216.62,660.90 221.64,662.81" stroke="#8b5a2b" fill="none" stroke-width="1.7" stroke-linejoin="round" />
<polyline points="46.12,676.98 51.13,679.92 56.14,681.81 61.16,682.10 66.17,674.50 71.19,678.16 76.20,653.71 81.22,629.12 86.23,627.00 91.25,634.27 96.27,622.20 101.28,620.58 106.29,654.39 111.31,685.81 116.32,693.09 121.34,687.40 126.35,681.81 131.37,686.31 136.38,654.39 141.40,623.00 146.41,632.71 151.43,638.02 156.44,633.80 161.46,631.89 166.47,662.49 171.49,693.09 176.50,700.80 181.52,695.50 186.53,693.91 191.55,689.79 196.56,654.39 201.58,632.71 206.59,636.40 211.61,638.02 216.62,643.11 221.64,649.29" stroke="#e8336e" fill="none" stroke-width="1.7" stroke-linejoin="round" />
<line x1="43.80" y1="589.50" x2="43.80" y2="708.50" stroke="#222" stroke-width="1.5" />
<line x1="43.10" y1="707.90" x2="221.90" y2="707.90" stroke="#222" stroke-width="1.5" />
<line x1="37.30" y1="707.90" x2="43.80" y2="707.90" stroke="#222" stroke-width="1.5" />
<text x="36.20" y="711.80" font-size="11" fill="#222" text-anchor="end" >0</text>
<line x1="37.30" y1="678.45" x2="43.80" y2="678.45" stroke="#222" stroke-width="1.5" />
<text x="36.20" y="682.35" font-size="11" fill="#222" text-anchor="end" >1.0</text>
<line x1="37.30" y1="649.00" x2="43.80" y2="649.00" stroke="#222" stroke-width="1.5" />
<text x="36.20" y="652.90" font-size="11" fill="#222" text-anchor="end" >2.0</text>
<line x1="37.30" y1="619.55" x2="43.80" y2="619.55" stroke="#222" stroke-width="1.5" />
<text x="36.20" y="623.45" font-size="11" fill="#222" text-anchor="end" >3.0</text>
<line x1="37.30" y1="590.10" x2="43.80" y2="590.10" stroke="#222" stroke-width="1.5" />
<text x="36.20" y="594.00" font-size="11" fill="#222" text-anchor="end" >4.0</text>
<line x1="51.13" y1="707.90" x2="51.13" y2="711.70" stroke="#222" stroke-width="1.5" />
<line x1="61.16" y1="707.90" x2="61.16" y2="711.70" stroke="#222" stroke-width="1.5" />
<line x1="71.19" y1="707.90" x2="71.19" y2="714.70" stroke="#222" stroke-width="1.5" />
<line x1="81.22" y1="707.90" x2="81.22" y2="711.70" stroke="#222" stroke-width="1.5" />
<line x1="91.25" y1="707.90" x2="91.25" y2="711.70" stroke="#222" stroke-width="1.5" />
<line x1="101.28" y1="707.90" x2="101.28" y2="714.70" stroke="#222" stroke-width="1.5" />
<line x1="111.31" y1="707.90" x2="111.31" y2="711.70" stroke="#222" stroke-width="1.5" />
<line x1="121.34" y1="707.90" x2="121.34" y2="711.70" stroke="#222" stroke-width="1.5" />
<line x1="131.37" y1="707.90" x2="131.37" y2="714.70" stroke="#222" stroke-width="1.5" />
<line x1="141.40" y1="707.90" x2="141.40" y2="711.70" stroke="#222" stroke-width="1.5" />
<line x1="151.43" y1="707.90" x2="151.43" y2="711.70" stroke="#222" stroke-width="1.5" />
<line x1="161.46" y1="707.90" x2="161.46" y2="714.70" stroke="#222" stroke-width="1.5" />
<line x1="171.49" y1="707.90" x2="171.49" y2="711.70" stroke="#222" stroke-width="1.5" />
<line x1="181.52" y1="707.90" x2="181.52" y2="711.70" stroke="#222" stroke-width="1.5" />
<line x1="191.55" y1="707.90" x2="191.55" y2="714.70" stroke="#222" stroke-width="1.5" />
<line x1="201.58" y1="707.90" x2="201.58" y2="711.70" stroke="#222" stroke-width="1.5" />
<line x1="211.61" y1="707.90" x2="211.61" y2="711.70" stroke="#222" stroke-width="1.5" />
<line x1="221.64" y1="707.90" x2="221.64" y2="714.70" stroke="#222" stroke-width="1.5" />
<text x="44.20" y="727.50" font-size="11" fill="#222" text-anchor="middle" >0</text>
<text x="71.19" y="727.50" font-size="11" fill="#222" text-anchor="middle" >3</text>
<text x="101.28" y="727.50" font-size="11" fill="#222" text-anchor="middle" >6</text>
<text x="131.37" y="727.50" font-size="11" fill="#222" text-anchor="middle" >9</text>
<text x="161.46" y="727.50" font-size="11" fill="#222" text-anchor="middle" >12</text>
<text x="191.55" y="727.50" font-size="11" fill="#222" text-anchor="middle" >15</text>
<text x="221.64" y="727.50" font-size="11" fill="#222" text-anchor="middle" >18</text>
<text x="130.50" y="739.60" font-size="12" fill="#222" text-anchor="middle" >Time (min)</text>
<text transform="translate(16.6,649.1) rotate(-90)" font-size="12.45" fill="#222" text-anchor="middle">Vel. ratio from baseline</text>
<text x="100.20" y="568.00" font-size="12.3" fill="#111" text-anchor="start" >K<tspan font-size="7.5" dy="-4.5">–</tspan><tspan dy="4.5">dSPNs</tspan></text>
<line x1="49.60" y1="577.40" x2="75.70" y2="577.40" stroke="#e8336e" stroke-width="1.8" />
<text x="79.30" y="581.20" font-size="11" fill="#111" text-anchor="start" ><tspan font-style="italic">Gabbr1</tspan>-KD</text>
<line x1="154.20" y1="577.40" x2="180.40" y2="577.40" stroke="#8b5a2b" stroke-width="1.8" />
<text x="184.00" y="581.20" font-size="11" fill="#111" text-anchor="start" >Ctrl</text>
<text x="45.60" y="599.60" font-size="11" fill="#111" text-anchor="start" >Base</text>
<text x="108.00" y="601.00" font-size="11" fill="#111" text-anchor="start" >1<tspan font-size="6.8" dy="-4.6">st</tspan></text>
<text x="107.80" y="614.50" font-size="11" fill="#111" text-anchor="start" >Off</text>
<text x="169.50" y="601.00" font-size="11" fill="#111" text-anchor="start" >2<tspan font-size="6.8" dy="-4.6">nd</tspan></text>
<text x="169.50" y="614.50" font-size="11" fill="#111" text-anchor="start" >Off</text>
<rect x="319.40" y="210.60" width="24.80" height="117.40" fill="#cce7fd" />
<rect x="298.00" y="268.13" width="16.60" height="59.87" fill="#f29ccf" />
<rect x="323.40" y="266.37" width="16.60" height="61.63" fill="#f45ac1" />
<line x1="306.20" y1="238.19" x2="331.60" y2="218.23" stroke="#111" stroke-width="1.1" />
<line x1="306.20" y1="257.56" x2="331.60" y2="246.99" stroke="#111" stroke-width="1.1" />
<line x1="306.20" y1="263.43" x2="331.60" y2="251.69" stroke="#111" stroke-width="1.1" />
<line x1="306.20" y1="265.19" x2="331.60" y2="249.93" stroke="#111" stroke-width="1.1" />
<line x1="306.20" y1="269.30" x2="331.60" y2="259.32" stroke="#111" stroke-width="1.1" />
<line x1="306.20" y1="272.24" x2="331.60" y2="271.06" stroke="#111" stroke-width="1.1" />
<line x1="306.20" y1="276.34" x2="331.60" y2="266.37" stroke="#111" stroke-width="1.1" />
<line x1="306.20" y1="278.11" x2="331.60" y2="282.21" stroke="#111" stroke-width="1.1" />
<line x1="306.20" y1="281.04" x2="331.60" y2="285.74" stroke="#111" stroke-width="1.1" />
<line x1="306.20" y1="282.80" x2="331.60" y2="272.24" stroke="#111" stroke-width="1.1" />
<line x1="306.20" y1="283.98" x2="331.60" y2="288.08" stroke="#111" stroke-width="1.1" />
<circle cx="306.20" cy="238.19" r="2.2" fill="#5a5a5a"/>
<circle cx="331.60" cy="218.23" r="2.2" fill="#5a5a5a"/>
<circle cx="306.20" cy="257.56" r="2.2" fill="#5a5a5a"/>
<circle cx="331.60" cy="246.99" r="2.2" fill="#5a5a5a"/>
<circle cx="306.20" cy="263.43" r="2.2" fill="#5a5a5a"/>
<circle cx="331.60" cy="251.69" r="2.2" fill="#5a5a5a"/>
<circle cx="306.20" cy="265.19" r="2.2" fill="#5a5a5a"/>
<circle cx="331.60" cy="249.93" r="2.2" fill="#5a5a5a"/>
<circle cx="306.20" cy="269.30" r="2.2" fill="#5a5a5a"/>
<circle cx="331.60" cy="259.32" r="2.2" fill="#5a5a5a"/>
<circle cx="306.20" cy="272.24" r="2.2" fill="#5a5a5a"/>
<circle cx="331.60" cy="271.06" r="2.2" fill="#5a5a5a"/>
<circle cx="306.20" cy="276.34" r="2.2" fill="#5a5a5a"/>
<circle cx="331.60" cy="266.37" r="2.2" fill="#5a5a5a"/>
<circle cx="306.20" cy="278.11" r="2.2" fill="#5a5a5a"/>
<circle cx="331.60" cy="282.21" r="2.2" fill="#5a5a5a"/>
<circle cx="306.20" cy="281.04" r="2.2" fill="#5a5a5a"/>
<circle cx="331.60" cy="285.74" r="2.2" fill="#5a5a5a"/>
<circle cx="306.20" cy="282.80" r="2.2" fill="#5a5a5a"/>
<circle cx="331.60" cy="272.24" r="2.2" fill="#5a5a5a"/>
<circle cx="306.20" cy="283.98" r="2.2" fill="#5a5a5a"/>
<circle cx="331.60" cy="288.08" r="2.2" fill="#5a5a5a"/>
<line x1="290.40" y1="210.00" x2="290.40" y2="328.60" stroke="#222" stroke-width="1.5" />
<line x1="289.70" y1="328.00" x2="348.30" y2="328.00" stroke="#222" stroke-width="1.5" />
<line x1="283.90" y1="328.00" x2="290.40" y2="328.00" stroke="#222" stroke-width="1.5" />
<text x="281.00" y="331.90" font-size="11" fill="#222" text-anchor="end" >0</text>
<line x1="283.90" y1="298.65" x2="290.40" y2="298.65" stroke="#222" stroke-width="1.5" />
<text x="281.00" y="302.55" font-size="11" fill="#222" text-anchor="end" >0.5</text>
<line x1="283.90" y1="269.30" x2="290.40" y2="269.30" stroke="#222" stroke-width="1.5" />
<text x="281.00" y="273.20" font-size="11" fill="#222" text-anchor="end" >1.0</text>
<line x1="283.90" y1="239.95" x2="290.40" y2="239.95" stroke="#222" stroke-width="1.5" />
<text x="281.00" y="243.85" font-size="11" fill="#222" text-anchor="end" >1.5</text>
<line x1="283.90" y1="210.60" x2="290.40" y2="210.60" stroke="#222" stroke-width="1.5" />
<text x="281.00" y="214.50" font-size="11" fill="#222" text-anchor="end" >2.0</text>
<line x1="306.20" y1="328.00" x2="306.20" y2="334.30" stroke="#222" stroke-width="1.5" />
<line x1="331.60" y1="328.00" x2="331.60" y2="334.30" stroke="#222" stroke-width="1.5" />
<text x="306.50" y="347.20" font-size="11" fill="#222" text-anchor="middle" >Off</text>
<text x="331.90" y="347.20" font-size="11" fill="#222" text-anchor="middle" >On</text>
<text x="319.20" y="190.10" font-size="12.3" fill="#111" text-anchor="middle" >K<tspan font-size="7.5" dy="-4.5">+</tspan><tspan dy="4.5">dSPN</tspan></text>
<text x="319.40" y="202.90" font-size="12.3" fill="#111" text-anchor="middle" ><tspan font-style="italic">Gabbr1</tspan>-KD</text>
<text transform="translate(260.0,270.0) rotate(-90)" font-size="12.45" fill="#222" text-anchor="middle">Vel. ratio from baseline</text>
<rect x="435.20" y="210.60" width="25.10" height="117.40" fill="#cce7fd" />
<rect x="413.00" y="264.02" width="17.80" height="63.98" fill="#cfbca8" />
<rect x="438.70" y="286.32" width="17.50" height="41.68" fill="#ac927b" />
<line x1="421.60" y1="244.06" x2="447.10" y2="276.34" stroke="#111" stroke-width="1.1" />
<line x1="421.60" y1="257.56" x2="447.10" y2="281.04" stroke="#111" stroke-width="1.1" />
<line x1="421.60" y1="259.32" x2="447.10" y2="292.78" stroke="#111" stroke-width="1.1" />
<line x1="421.60" y1="261.67" x2="447.10" y2="282.80" stroke="#111" stroke-width="1.1" />
<line x1="421.60" y1="263.43" x2="447.10" y2="295.71" stroke="#111" stroke-width="1.1" />
<line x1="421.60" y1="266.37" x2="447.10" y2="285.74" stroke="#111" stroke-width="1.1" />
<line x1="421.60" y1="269.30" x2="447.10" y2="294.54" stroke="#111" stroke-width="1.1" />
<line x1="421.60" y1="275.17" x2="447.10" y2="288.08" stroke="#111" stroke-width="1.1" />
<line x1="421.60" y1="281.04" x2="447.10" y2="292.78" stroke="#111" stroke-width="1.1" />
<circle cx="421.60" cy="244.06" r="2.2" fill="#5a5a5a"/>
<circle cx="447.10" cy="276.34" r="2.2" fill="#5a5a5a"/>
<circle cx="421.60" cy="257.56" r="2.2" fill="#5a5a5a"/>
<circle cx="447.10" cy="281.04" r="2.2" fill="#5a5a5a"/>
<circle cx="421.60" cy="259.32" r="2.2" fill="#5a5a5a"/>
<circle cx="447.10" cy="292.78" r="2.2" fill="#5a5a5a"/>
<circle cx="421.60" cy="261.67" r="2.2" fill="#5a5a5a"/>
<circle cx="447.10" cy="282.80" r="2.2" fill="#5a5a5a"/>
<circle cx="421.60" cy="263.43" r="2.2" fill="#5a5a5a"/>
<circle cx="447.10" cy="295.71" r="2.2" fill="#5a5a5a"/>
<circle cx="421.60" cy="266.37" r="2.2" fill="#5a5a5a"/>
<circle cx="447.10" cy="285.74" r="2.2" fill="#5a5a5a"/>
<circle cx="421.60" cy="269.30" r="2.2" fill="#5a5a5a"/>
<circle cx="447.10" cy="294.54" r="2.2" fill="#5a5a5a"/>
<circle cx="421.60" cy="275.17" r="2.2" fill="#5a5a5a"/>
<circle cx="447.10" cy="288.08" r="2.2" fill="#5a5a5a"/>
<circle cx="421.60" cy="281.04" r="2.2" fill="#5a5a5a"/>
<circle cx="447.10" cy="292.78" r="2.2" fill="#5a5a5a"/>
<line x1="405.40" y1="210.00" x2="405.40" y2="328.60" stroke="#222" stroke-width="1.5" />
<line x1="404.70" y1="328.00" x2="464.10" y2="328.00" stroke="#222" stroke-width="1.5" />
<line x1="398.90" y1="328.00" x2="405.40" y2="328.00" stroke="#222" stroke-width="1.5" />
<text x="396.70" y="331.90" font-size="11" fill="#222" text-anchor="end" >0</text>
<line x1="398.90" y1="298.65" x2="405.40" y2="298.65" stroke="#222" stroke-width="1.5" />
<text x="396.70" y="302.55" font-size="11" fill="#222" text-anchor="end" >0.5</text>
<line x1="398.90" y1="269.30" x2="405.40" y2="269.30" stroke="#222" stroke-width="1.5" />
<text x="396.70" y="273.20" font-size="11" fill="#222" text-anchor="end" >1.0</text>
<line x1="398.90" y1="239.95" x2="405.40" y2="239.95" stroke="#222" stroke-width="1.5" />
<text x="396.70" y="243.85" font-size="11" fill="#222" text-anchor="end" >1.5</text>
<line x1="398.90" y1="210.60" x2="405.40" y2="210.60" stroke="#222" stroke-width="1.5" />
<text x="396.70" y="214.50" font-size="11" fill="#222" text-anchor="end" >2.0</text>
<line x1="421.60" y1="328.00" x2="421.60" y2="334.30" stroke="#222" stroke-width="1.5" />
<line x1="447.10" y1="328.00" x2="447.10" y2="334.30" stroke="#222" stroke-width="1.5" />
<text x="421.90" y="347.20" font-size="11" fill="#222" text-anchor="middle" >Off</text>
<text x="447.40" y="347.20" font-size="11" fill="#222" text-anchor="middle" >On</text>
<polyline points="421.60,229.60 421.60,215.90 447.10,215.90 447.10,261.10" stroke="#222" fill="none" stroke-width="1.2" stroke-linejoin="round" />
<text x="435.30" y="217.80" font-size="15" fill="#222" text-anchor="middle" >**</text>
<text x="438.70" y="190.40" font-size="12.3" fill="#111" text-anchor="middle" >K<tspan font-size="7.5" dy="-4.5">+</tspan><tspan dy="4.5">dSPN</tspan></text>
<text x="438.60" y="203.10" font-size="12.3" fill="#111" text-anchor="middle" >Ctrl</text>
<text transform="translate(375.5,270.0) rotate(-90)" font-size="12.45" fill="#222" text-anchor="middle">Vel. ratio from baseline</text>
<rect x="316.40" y="593.00" width="25.10" height="117.00" fill="#cce7fd" />
<rect x="295.30" y="693.82" width="16.50" height="16.18" fill="#f29ccf" />
<rect x="320.80" y="662.23" width="16.10" height="47.77" fill="#f45ac1" />
<line x1="303.60" y1="689.52" x2="329.00" y2="617.96" stroke="#111" stroke-width="0.75" />
<line x1="303.60" y1="690.50" x2="329.00" y2="638.83" stroke="#111" stroke-width="0.75" />
<line x1="303.60" y1="691.48" x2="329.00" y2="660.27" stroke="#111" stroke-width="0.75" />
<line x1="303.60" y1="693.42" x2="329.00" y2="662.23" stroke="#111" stroke-width="0.75" />
<line x1="303.60" y1="695.38" x2="329.00" y2="672.95" stroke="#111" stroke-width="0.75" />
<line x1="303.60" y1="698.30" x2="329.00" y2="677.83" stroke="#111" stroke-width="0.75" />
<line x1="303.60" y1="700.25" x2="329.00" y2="681.73" stroke="#111" stroke-width="0.75" />
<line x1="303.60" y1="699.27" x2="329.00" y2="684.65" stroke="#111" stroke-width="0.75" />
<line x1="303.60" y1="697.33" x2="329.00" y2="685.62" stroke="#111" stroke-width="0.75" />
<circle cx="303.60" cy="689.52" r="2.2" fill="#5a5a5a"/>
<circle cx="329.00" cy="617.96" r="2.2" fill="#5a5a5a"/>
<circle cx="303.60" cy="690.50" r="2.2" fill="#5a5a5a"/>
<circle cx="329.00" cy="638.83" r="2.2" fill="#5a5a5a"/>
<circle cx="303.60" cy="691.48" r="2.2" fill="#5a5a5a"/>
<circle cx="329.00" cy="660.27" r="2.2" fill="#5a5a5a"/>
<circle cx="303.60" cy="693.42" r="2.2" fill="#5a5a5a"/>
<circle cx="329.00" cy="662.23" r="2.2" fill="#5a5a5a"/>
<circle cx="303.60" cy="695.38" r="2.2" fill="#5a5a5a"/>
<circle cx="329.00" cy="672.95" r="2.2" fill="#5a5a5a"/>
<circle cx="303.60" cy="698.30" r="2.2" fill="#5a5a5a"/>
<circle cx="329.00" cy="677.83" r="2.2" fill="#5a5a5a"/>
<circle cx="303.60" cy="700.25" r="2.2" fill="#5a5a5a"/>
<circle cx="329.00" cy="681.73" r="2.2" fill="#5a5a5a"/>
<circle cx="303.60" cy="699.27" r="2.2" fill="#5a5a5a"/>
<circle cx="329.00" cy="684.65" r="2.2" fill="#5a5a5a"/>
<circle cx="303.60" cy="697.33" r="2.2" fill="#5a5a5a"/>
<circle cx="329.00" cy="685.62" r="2.2" fill="#5a5a5a"/>
<line x1="286.90" y1="592.40" x2="286.90" y2="710.60" stroke="#222" stroke-width="1.5" />
<line x1="286.20" y1="710.00" x2="345.60" y2="710.00" stroke="#222" stroke-width="1.5" />
<line x1="280.40" y1="710.00" x2="286.90" y2="710.00" stroke="#222" stroke-width="1.5" />
<text x="279.10" y="713.90" font-size="11" fill="#222" text-anchor="end" >0</text>
<line x1="280.40" y1="671.00" x2="286.90" y2="671.00" stroke="#222" stroke-width="1.5" />
<text x="279.10" y="674.90" font-size="11" fill="#222" text-anchor="end" >2.0</text>
<line x1="280.40" y1="632.00" x2="286.90" y2="632.00" stroke="#222" stroke-width="1.5" />
<text x="279.10" y="635.90" font-size="11" fill="#222" text-anchor="end" >4.0</text>
<line x1="280.40" y1="593.00" x2="286.90" y2="593.00" stroke="#222" stroke-width="1.5" />
<text x="279.10" y="596.90" font-size="11" fill="#222" text-anchor="end" >6.0</text>
<line x1="303.60" y1="710.00" x2="303.60" y2="716.30" stroke="#222" stroke-width="1.5" />
<line x1="329.00" y1="710.00" x2="329.00" y2="716.30" stroke="#222" stroke-width="1.5" />
<text x="303.90" y="729.00" font-size="11" fill="#222" text-anchor="middle" >Off</text>
<text x="329.30" y="729.00" font-size="11" fill="#222" text-anchor="middle" >On</text>
<polyline points="303.60,675.90 303.60,600.20 329.00,600.20 329.00,612.40" stroke="#222" fill="none" stroke-width="1.2" stroke-linejoin="round" />
<text x="315.40" y="601.00" font-size="15" fill="#222" text-anchor="middle" >**</text>
<text x="319.30" y="568.10" font-size="12.3" fill="#111" text-anchor="middle" >K<tspan font-size="7.5" dy="-4.5">–</tspan><tspan dy="4.5">dSPN</tspan></text>
<text x="319.30" y="580.90" font-size="12.3" fill="#111" text-anchor="middle" ><tspan font-style="italic">Gabbr1</tspan>-KD</text>
<text transform="translate(260.5,650.6) rotate(-90)" font-size="12.45" fill="#222" text-anchor="middle">Vel. Ratio from baseline</text>
<rect x="433.00" y="592.10" width="25.00" height="117.30" fill="#cce7fd" />
<rect x="412.10" y="695.32" width="16.50" height="14.08" fill="#cfbca8" />
<rect x="437.30" y="670.30" width="16.70" height="39.10" fill="#ac927b" />
<line x1="420.30" y1="690.83" x2="445.40" y2="640.98" stroke="#111" stroke-width="0.75" />
<line x1="420.30" y1="691.80" x2="445.40" y2="641.95" stroke="#111" stroke-width="0.75" />
<line x1="420.30" y1="692.78" x2="445.40" y2="642.93" stroke="#111" stroke-width="0.75" />
<line x1="420.30" y1="693.76" x2="445.40" y2="658.57" stroke="#111" stroke-width="0.75" />
<line x1="420.30" y1="695.72" x2="445.40" y2="661.50" stroke="#111" stroke-width="0.75" />
<line x1="420.30" y1="696.69" x2="445.40" y2="680.07" stroke="#111" stroke-width="0.75" />
<line x1="420.30" y1="698.65" x2="445.40" y2="683.99" stroke="#111" stroke-width="0.75" />
<line x1="420.30" y1="699.62" x2="445.40" y2="694.74" stroke="#111" stroke-width="0.75" />
<line x1="420.30" y1="697.67" x2="445.40" y2="695.72" stroke="#111" stroke-width="0.75" />
<circle cx="420.30" cy="690.83" r="2.2" fill="#5a5a5a"/>
<circle cx="445.40" cy="640.98" r="2.2" fill="#5a5a5a"/>
<circle cx="420.30" cy="691.80" r="2.2" fill="#5a5a5a"/>
<circle cx="445.40" cy="641.95" r="2.2" fill="#5a5a5a"/>
<circle cx="420.30" cy="692.78" r="2.2" fill="#5a5a5a"/>
<circle cx="445.40" cy="642.93" r="2.2" fill="#5a5a5a"/>
<circle cx="420.30" cy="693.76" r="2.2" fill="#5a5a5a"/>
<circle cx="445.40" cy="658.57" r="2.2" fill="#5a5a5a"/>
<circle cx="420.30" cy="695.72" r="2.2" fill="#5a5a5a"/>
<circle cx="445.40" cy="661.50" r="2.2" fill="#5a5a5a"/>
<circle cx="420.30" cy="696.69" r="2.2" fill="#5a5a5a"/>
<circle cx="445.40" cy="680.07" r="2.2" fill="#5a5a5a"/>
<circle cx="420.30" cy="698.65" r="2.2" fill="#5a5a5a"/>
<circle cx="445.40" cy="683.99" r="2.2" fill="#5a5a5a"/>
<circle cx="420.30" cy="699.62" r="2.2" fill="#5a5a5a"/>
<circle cx="445.40" cy="694.74" r="2.2" fill="#5a5a5a"/>
<circle cx="420.30" cy="697.67" r="2.2" fill="#5a5a5a"/>
<circle cx="445.40" cy="695.72" r="2.2" fill="#5a5a5a"/>
<line x1="404.20" y1="591.50" x2="404.20" y2="710.00" stroke="#222" stroke-width="1.5" />
<line x1="403.50" y1="709.40" x2="462.00" y2="709.40" stroke="#222" stroke-width="1.5" />
<line x1="397.70" y1="709.40" x2="404.20" y2="709.40" stroke="#222" stroke-width="1.5" />
<text x="394.40" y="713.30" font-size="11" fill="#222" text-anchor="end" >0</text>
<line x1="397.70" y1="670.30" x2="404.20" y2="670.30" stroke="#222" stroke-width="1.5" />
<text x="394.40" y="674.20" font-size="11" fill="#222" text-anchor="end" >2.0</text>
<line x1="397.70" y1="631.20" x2="404.20" y2="631.20" stroke="#222" stroke-width="1.5" />
<text x="394.40" y="635.10" font-size="11" fill="#222" text-anchor="end" >4.0</text>
<line x1="397.70" y1="592.10" x2="404.20" y2="592.10" stroke="#222" stroke-width="1.5" />
<text x="394.40" y="596.00" font-size="11" fill="#222" text-anchor="end" >6.0</text>
<line x1="420.30" y1="709.40" x2="420.30" y2="715.70" stroke="#222" stroke-width="1.5" />
<line x1="445.40" y1="709.40" x2="445.40" y2="715.70" stroke="#222" stroke-width="1.5" />
<text x="420.60" y="728.60" font-size="11" fill="#222" text-anchor="middle" >Off</text>
<text x="445.70" y="728.60" font-size="11" fill="#222" text-anchor="middle" >On</text>
<polyline points="420.30,676.80 420.30,612.40 445.20,612.40 445.20,625.90" stroke="#222" fill="none" stroke-width="1.2" stroke-linejoin="round" />
<text x="431.10" y="611.00" font-size="15" fill="#222" text-anchor="middle" >*</text>
<text x="433.00" y="568.10" font-size="12.3" fill="#111" text-anchor="middle" >K<tspan font-size="7.5" dy="-4.5">–</tspan><tspan dy="4.5">dSPN</tspan></text>
<text x="431.80" y="580.90" font-size="12.3" fill="#111" text-anchor="middle" >Ctrl</text>
<text transform="translate(376.3,650.6) rotate(-90)" font-size="12.45" fill="#222" text-anchor="middle">Vel. Ratio from baseline</text>
<rect x="525.10" y="277.97" width="17.00" height="50.33" fill="#f7d5e9" />
<rect x="550.50" y="277.04" width="16.60" height="51.26" fill="#f3a7d6" />
<line x1="533.50" y1="281.23" x2="533.50" y2="272.38" stroke="#555" stroke-width="1.5" />
<line x1="529.30" y1="272.38" x2="537.70" y2="272.38" stroke="#555" stroke-width="1.5" />
<line x1="529.30" y1="281.23" x2="537.70" y2="281.23" stroke="#555" stroke-width="1.5" />
<line x1="558.70" y1="281.70" x2="558.70" y2="271.91" stroke="#555" stroke-width="1.5" />
<line x1="554.50" y1="271.91" x2="562.90" y2="271.91" stroke="#555" stroke-width="1.5" />
<line x1="554.50" y1="281.70" x2="562.90" y2="281.70" stroke="#555" stroke-width="1.5" />
<circle cx="533.50" cy="250.94" r="2.3" fill="#5a5a5a"/>
<circle cx="533.50" cy="258.87" r="2.3" fill="#5a5a5a"/>
<circle cx="527.70" cy="269.58" r="2.3" fill="#5a5a5a"/>
<circle cx="540.00" cy="267.72" r="2.3" fill="#5a5a5a"/>
<circle cx="533.50" cy="271.91" r="2.3" fill="#5a5a5a"/>
<circle cx="527.40" cy="284.96" r="2.3" fill="#5a5a5a"/>
<circle cx="533.50" cy="284.03" r="2.3" fill="#5a5a5a"/>
<circle cx="540.00" cy="287.29" r="2.3" fill="#5a5a5a"/>
<circle cx="536.50" cy="293.82" r="2.3" fill="#5a5a5a"/>
<circle cx="530.70" cy="297.08" r="2.3" fill="#5a5a5a"/>
<circle cx="558.70" cy="225.78" r="2.3" fill="#5a5a5a"/>
<circle cx="565.00" cy="266.32" r="2.3" fill="#5a5a5a"/>
<circle cx="553.10" cy="271.45" r="2.3" fill="#5a5a5a"/>
<circle cx="559.20" cy="268.65" r="2.3" fill="#5a5a5a"/>
<circle cx="564.50" cy="276.11" r="2.3" fill="#5a5a5a"/>
<circle cx="552.60" cy="281.70" r="2.3" fill="#5a5a5a"/>
<circle cx="558.40" cy="284.96" r="2.3" fill="#5a5a5a"/>
<circle cx="563.30" cy="286.36" r="2.3" fill="#5a5a5a"/>
<circle cx="558.70" cy="293.35" r="2.3" fill="#5a5a5a"/>
<circle cx="558.70" cy="302.67" r="2.3" fill="#5a5a5a"/>
<circle cx="557.70" cy="274.71" r="2.3" fill="#5a5a5a"/>
<line x1="516.70" y1="211.20" x2="516.70" y2="328.90" stroke="#222" stroke-width="1.5" />
<line x1="516.00" y1="328.30" x2="575.00" y2="328.30" stroke="#222" stroke-width="1.5" />
<line x1="510.20" y1="328.30" x2="516.70" y2="328.30" stroke="#222" stroke-width="1.5" />
<text x="507.60" y="332.20" font-size="11" fill="#222" text-anchor="end" >0.0</text>
<line x1="510.20" y1="305.00" x2="516.70" y2="305.00" stroke="#222" stroke-width="1.5" />
<text x="507.60" y="308.90" font-size="11" fill="#222" text-anchor="end" >0.5</text>
<line x1="510.20" y1="281.70" x2="516.70" y2="281.70" stroke="#222" stroke-width="1.5" />
<text x="507.60" y="285.60" font-size="11" fill="#222" text-anchor="end" >1.0</text>
<line x1="510.20" y1="258.40" x2="516.70" y2="258.40" stroke="#222" stroke-width="1.5" />
<text x="507.60" y="262.30" font-size="11" fill="#222" text-anchor="end" >1.5</text>
<line x1="510.20" y1="235.10" x2="516.70" y2="235.10" stroke="#222" stroke-width="1.5" />
<text x="507.60" y="239.00" font-size="11" fill="#222" text-anchor="end" >2.0</text>
<line x1="510.20" y1="211.80" x2="516.70" y2="211.80" stroke="#222" stroke-width="1.5" />
<text x="507.60" y="215.70" font-size="11" fill="#222" text-anchor="end" >2.5</text>
<line x1="533.50" y1="328.30" x2="533.50" y2="334.60" stroke="#222" stroke-width="1.5" />
<line x1="558.70" y1="328.30" x2="558.70" y2="334.60" stroke="#222" stroke-width="1.5" />
<text x="547.60" y="185.70" font-size="12.3" fill="#111" text-anchor="middle" >Post-Stim</text>
<text x="547.20" y="202.70" font-size="12.3" fill="#111" text-anchor="middle" ><tspan font-style="italic">Gabbr1</tspan>-KD</text>
<text transform="translate(489.8,268.0) rotate(-90)" font-size="12.45" fill="#222" text-anchor="middle">Vel. ratio from baseline</text>
<text transform="translate(540.00,342.80) rotate(-45)" font-size="11" fill="#222" text-anchor="end">1<tspan font-size="6.5" dy="-4">st</tspan><tspan dy="4"> Off</tspan></text>
<text transform="translate(565.20,342.80) rotate(-45)" font-size="11" fill="#222" text-anchor="end">2<tspan font-size="6.5" dy="-4">nd</tspan><tspan dy="4"> Off</tspan></text>
<rect x="632.10" y="266.90" width="18.20" height="61.10" fill="#ede7df" />
<rect x="657.50" y="273.71" width="18.40" height="54.29" fill="#dbcbbb" />
<line x1="640.90" y1="273.01" x2="640.90" y2="262.67" stroke="#555" stroke-width="1.5" />
<line x1="636.70" y1="262.67" x2="645.10" y2="262.67" stroke="#555" stroke-width="1.5" />
<line x1="636.70" y1="273.01" x2="645.10" y2="273.01" stroke="#555" stroke-width="1.5" />
<line x1="666.30" y1="277.24" x2="666.30" y2="268.31" stroke="#555" stroke-width="1.5" />
<line x1="662.10" y1="268.31" x2="670.50" y2="268.31" stroke="#555" stroke-width="1.5" />
<line x1="662.10" y1="277.24" x2="670.50" y2="277.24" stroke="#555" stroke-width="1.5" />
<circle cx="640.90" cy="247.16" r="2.3" fill="#5a5a5a"/>
<circle cx="640.90" cy="253.27" r="2.3" fill="#5a5a5a"/>
<circle cx="635.10" cy="262.20" r="2.3" fill="#5a5a5a"/>
<circle cx="646.90" cy="259.85" r="2.3" fill="#5a5a5a"/>
<circle cx="635.10" cy="271.60" r="2.3" fill="#5a5a5a"/>
<circle cx="646.90" cy="269.25" r="2.3" fill="#5a5a5a"/>
<circle cx="640.90" cy="284.29" r="2.3" fill="#5a5a5a"/>
<circle cx="640.90" cy="293.22" r="2.3" fill="#5a5a5a"/>
<circle cx="666.30" cy="242.46" r="2.3" fill="#5a5a5a"/>
<circle cx="666.30" cy="261.73" r="2.3" fill="#5a5a5a"/>
<circle cx="666.30" cy="270.66" r="2.3" fill="#5a5a5a"/>
<circle cx="660.50" cy="278.65" r="2.3" fill="#5a5a5a"/>
<circle cx="672.10" cy="278.65" r="2.3" fill="#5a5a5a"/>
<circle cx="666.30" cy="281.94" r="2.3" fill="#5a5a5a"/>
<circle cx="663.50" cy="290.40" r="2.3" fill="#5a5a5a"/>
<circle cx="669.10" cy="287.11" r="2.3" fill="#5a5a5a"/>
<line x1="625.40" y1="209.90" x2="625.40" y2="328.60" stroke="#222" stroke-width="1.5" />
<line x1="624.70" y1="328.00" x2="683.80" y2="328.00" stroke="#222" stroke-width="1.5" />
<line x1="618.90" y1="328.00" x2="625.40" y2="328.00" stroke="#222" stroke-width="1.5" />
<text x="616.50" y="331.90" font-size="11" fill="#222" text-anchor="end" >0.0</text>
<line x1="618.90" y1="304.50" x2="625.40" y2="304.50" stroke="#222" stroke-width="1.5" />
<text x="616.50" y="308.40" font-size="11" fill="#222" text-anchor="end" >0.5</text>
<line x1="618.90" y1="281.00" x2="625.40" y2="281.00" stroke="#222" stroke-width="1.5" />
<text x="616.50" y="284.90" font-size="11" fill="#222" text-anchor="end" >1.0</text>
<line x1="618.90" y1="257.50" x2="625.40" y2="257.50" stroke="#222" stroke-width="1.5" />
<text x="616.50" y="261.40" font-size="11" fill="#222" text-anchor="end" >1.5</text>
<line x1="618.90" y1="234.00" x2="625.40" y2="234.00" stroke="#222" stroke-width="1.5" />
<text x="616.50" y="237.90" font-size="11" fill="#222" text-anchor="end" >2.0</text>
<line x1="618.90" y1="210.50" x2="625.40" y2="210.50" stroke="#222" stroke-width="1.5" />
<text x="616.50" y="214.40" font-size="11" fill="#222" text-anchor="end" >2.5</text>
<line x1="640.90" y1="328.00" x2="640.90" y2="334.30" stroke="#222" stroke-width="1.5" />
<line x1="666.30" y1="328.00" x2="666.30" y2="334.30" stroke="#222" stroke-width="1.5" />
<text x="639.50" y="227.50" font-size="15" fill="#222" text-anchor="middle" >*</text>
<text x="652.70" y="185.70" font-size="12.3" fill="#111" text-anchor="middle" >Post-Stim</text>
<text x="652.60" y="203.20" font-size="12.3" fill="#111" text-anchor="middle" >Ctrl</text>
<text transform="translate(594.2,268.0) rotate(-90)" font-size="12.45" fill="#222" text-anchor="middle">Vel. ratio from baseline</text>
<text transform="translate(647.40,342.50) rotate(-45)" font-size="11" fill="#222" text-anchor="end">1<tspan font-size="6.5" dy="-4">st</tspan><tspan dy="4"> Off</tspan></text>
<text transform="translate(672.80,342.50) rotate(-45)" font-size="11" fill="#222" text-anchor="end">2<tspan font-size="6.5" dy="-4">nd</tspan><tspan dy="4"> Off</tspan></text>
<rect x="524.20" y="636.78" width="16.10" height="71.62" fill="#f7d5e9" />
<rect x="549.30" y="663.54" width="16.40" height="44.86" fill="#f3a7d6" />
<line x1="532.10" y1="647.01" x2="532.10" y2="625.76" stroke="#555" stroke-width="1.5" />
<line x1="527.90" y1="625.76" x2="536.30" y2="625.76" stroke="#555" stroke-width="1.5" />
<line x1="527.90" y1="647.01" x2="536.30" y2="647.01" stroke="#555" stroke-width="1.5" />
<line x1="557.50" y1="671.41" x2="557.50" y2="655.67" stroke="#555" stroke-width="1.5" />
<line x1="553.30" y1="655.67" x2="561.70" y2="655.67" stroke="#555" stroke-width="1.5" />
<line x1="553.30" y1="671.41" x2="561.70" y2="671.41" stroke="#555" stroke-width="1.5" />
<circle cx="532.10" cy="606.09" r="2.3" fill="#5a5a5a"/>
<circle cx="532.10" cy="610.02" r="2.3" fill="#5a5a5a"/>
<circle cx="525.90" cy="622.62" r="2.3" fill="#5a5a5a"/>
<circle cx="538.60" cy="621.83" r="2.3" fill="#5a5a5a"/>
<circle cx="532.10" cy="643.08" r="2.3" fill="#5a5a5a"/>
<circle cx="532.10" cy="675.35" r="2.3" fill="#5a5a5a"/>
<circle cx="532.10" cy="685.58" r="2.3" fill="#5a5a5a"/>
<circle cx="557.50" cy="627.34" r="2.3" fill="#5a5a5a"/>
<circle cx="557.50" cy="639.14" r="2.3" fill="#5a5a5a"/>
<circle cx="557.50" cy="654.88" r="2.3" fill="#5a5a5a"/>
<circle cx="557.50" cy="663.54" r="2.3" fill="#5a5a5a"/>
<circle cx="557.50" cy="674.56" r="2.3" fill="#5a5a5a"/>
<circle cx="551.40" cy="686.36" r="2.3" fill="#5a5a5a"/>
<circle cx="563.60" cy="684.79" r="2.3" fill="#5a5a5a"/>
<circle cx="557.50" cy="669.05" r="2.3" fill="#5a5a5a"/>
<line x1="516.30" y1="589.75" x2="516.30" y2="709.00" stroke="#222" stroke-width="1.5" />
<line x1="515.60" y1="708.40" x2="575.00" y2="708.40" stroke="#222" stroke-width="1.5" />
<line x1="509.80" y1="708.40" x2="516.30" y2="708.40" stroke="#222" stroke-width="1.5" />
<text x="505.80" y="712.30" font-size="11" fill="#222" text-anchor="end" >0.0</text>
<line x1="509.80" y1="669.05" x2="516.30" y2="669.05" stroke="#222" stroke-width="1.5" />
<text x="505.80" y="672.95" font-size="11" fill="#222" text-anchor="end" >0.5</text>
<line x1="509.80" y1="629.70" x2="516.30" y2="629.70" stroke="#222" stroke-width="1.5" />
<text x="505.80" y="633.60" font-size="11" fill="#222" text-anchor="end" >1.0</text>
<line x1="509.80" y1="590.35" x2="516.30" y2="590.35" stroke="#222" stroke-width="1.5" />
<text x="505.80" y="594.25" font-size="11" fill="#222" text-anchor="end" >1.5</text>
<line x1="532.10" y1="708.40" x2="532.10" y2="714.70" stroke="#222" stroke-width="1.5" />
<line x1="557.50" y1="708.40" x2="557.50" y2="714.70" stroke="#222" stroke-width="1.5" />
<text x="557.30" y="604.90" font-size="15" fill="#222" text-anchor="middle" >**</text>
<text x="544.30" y="566.00" font-size="12.3" fill="#111" text-anchor="middle" >Post-Stim</text>
<text x="544.30" y="580.90" font-size="12.3" fill="#111" text-anchor="middle" ><tspan font-style="italic">Gabbr1</tspan>-KD</text>
<text transform="translate(488.3,651.0) rotate(-90)" font-size="12.45" fill="#222" text-anchor="middle">Vel. Ratio from baseline</text>
<text transform="translate(538.60,722.90) rotate(-45)" font-size="11" fill="#222" text-anchor="end">1<tspan font-size="6.5" dy="-4">st</tspan><tspan dy="4"> Off</tspan></text>
<text transform="translate(564.00,722.90) rotate(-45)" font-size="11" fill="#222" text-anchor="end">2<tspan font-size="6.5" dy="-4">nd</tspan><tspan dy="4"> Off</tspan></text>
<rect x="631.20" y="654.03" width="16.50" height="54.77" fill="#ede7df" />
<rect x="656.50" y="670.19" width="16.60" height="38.61" fill="#dbcbbb" />
<line x1="639.50" y1="663.10" x2="639.50" y2="644.97" stroke="#555" stroke-width="1.5" />
<line x1="635.30" y1="644.97" x2="643.70" y2="644.97" stroke="#555" stroke-width="1.5" />
<line x1="635.30" y1="663.10" x2="643.70" y2="663.10" stroke="#555" stroke-width="1.5" />
<line x1="664.50" y1="677.28" x2="664.50" y2="663.10" stroke="#555" stroke-width="1.5" />
<line x1="660.30" y1="663.10" x2="668.70" y2="663.10" stroke="#555" stroke-width="1.5" />
<line x1="660.30" y1="677.28" x2="668.70" y2="677.28" stroke="#555" stroke-width="1.5" />
<circle cx="633.70" cy="619.76" r="2.3" fill="#5a5a5a"/>
<circle cx="645.60" cy="618.97" r="2.3" fill="#5a5a5a"/>
<circle cx="639.50" cy="642.61" r="2.3" fill="#5a5a5a"/>
<circle cx="639.50" cy="647.34" r="2.3" fill="#5a5a5a"/>
<circle cx="639.50" cy="663.10" r="2.3" fill="#5a5a5a"/>
<circle cx="639.50" cy="674.92" r="2.3" fill="#5a5a5a"/>
<circle cx="633.40" cy="681.22" r="2.3" fill="#5a5a5a"/>
<circle cx="645.60" cy="680.43" r="2.3" fill="#5a5a5a"/>
<circle cx="658.50" cy="656.00" r="2.3" fill="#5a5a5a"/>
<circle cx="664.50" cy="651.28" r="2.3" fill="#5a5a5a"/>
<circle cx="670.60" cy="652.06" r="2.3" fill="#5a5a5a"/>
<circle cx="664.50" cy="656.79" r="2.3" fill="#5a5a5a"/>
<circle cx="664.50" cy="671.76" r="2.3" fill="#5a5a5a"/>
<circle cx="664.50" cy="689.10" r="2.3" fill="#5a5a5a"/>
<circle cx="670.60" cy="691.46" r="2.3" fill="#5a5a5a"/>
<circle cx="658.50" cy="695.40" r="2.3" fill="#5a5a5a"/>
<line x1="622.50" y1="590.00" x2="622.50" y2="709.40" stroke="#222" stroke-width="1.5" />
<line x1="621.80" y1="708.80" x2="681.50" y2="708.80" stroke="#222" stroke-width="1.5" />
<line x1="616.00" y1="708.80" x2="622.50" y2="708.80" stroke="#222" stroke-width="1.5" />
<text x="613.20" y="712.70" font-size="11" fill="#222" text-anchor="end" >0.0</text>
<line x1="616.00" y1="669.40" x2="622.50" y2="669.40" stroke="#222" stroke-width="1.5" />
<text x="613.20" y="673.30" font-size="11" fill="#222" text-anchor="end" >0.5</text>
<line x1="616.00" y1="630.00" x2="622.50" y2="630.00" stroke="#222" stroke-width="1.5" />
<text x="613.20" y="633.90" font-size="11" fill="#222" text-anchor="end" >1.0</text>
<line x1="616.00" y1="590.60" x2="622.50" y2="590.60" stroke="#222" stroke-width="1.5" />
<text x="613.20" y="594.50" font-size="11" fill="#222" text-anchor="end" >1.5</text>
<line x1="639.50" y1="708.80" x2="639.50" y2="715.10" stroke="#222" stroke-width="1.5" />
<line x1="664.50" y1="708.80" x2="664.50" y2="715.10" stroke="#222" stroke-width="1.5" />
<text x="636.60" y="606.40" font-size="15" fill="#222" text-anchor="middle" >*</text>
<text x="664.20" y="606.40" font-size="15" fill="#222" text-anchor="middle" >***</text>
<text x="656.20" y="566.00" font-size="12.3" fill="#111" text-anchor="middle" >Post-Stim</text>
<text x="652.20" y="580.90" font-size="12.3" fill="#111" text-anchor="middle" >Ctrl</text>
<text transform="translate(595.2,651.0) rotate(-90)" font-size="12.45" fill="#222" text-anchor="middle">Vel. Ratio from baseline</text>
<text transform="translate(646.00,723.30) rotate(-45)" font-size="11" fill="#222" text-anchor="end">1<tspan font-size="6.5" dy="-4">st</tspan><tspan dy="4"> Off</tspan></text>
<text transform="translate(671.00,723.30) rotate(-45)" font-size="11" fill="#222" text-anchor="end">2<tspan font-size="6.5" dy="-4">nd</tspan><tspan dy="4"> Off</tspan></text>
<text x="485.40" y="20.20" font-size="12.8" fill="#111" text-anchor="start" >CreOn-ChR2</text>
<line x1="440.40" y1="23.40" x2="605.70" y2="23.40" stroke="#8a8a8a" stroke-width="1.1" />
<text x="468.30" y="35.70" font-size="11.3" fill="#000" text-anchor="start" ><tspan fill="#4cb050">ChR2-eYFP</tspan><tspan fill="#111">/</tspan><tspan fill="#a43aa6">TH</tspan><tspan fill="#111">/</tspan><tspan fill="#3a3ae0">DAPI</tspan></text>
<g clip-path="url(#cb1)">
<rect x="385.00" y="37.00" width="118.30" height="118.00" fill="#0d0c4a" />
<rect x="385.00" y="37.00" width="118.30" height="118.00" fill="#000" filter="url(#spBlue)"/>
<rect x="466.60" y="37.00" width="40.00" height="30.00" fill="#060630" fill-opacity="0.5"/>
<path d="M385.00,50.00 C386.50,49.90 398.90,47.00 400.00,49.00 C401.10,51.00 396.80,66.20 396.00,70.00 C395.20,73.80 392.00,83.00 392.00,87.00 C392.00,91.00 395.30,105.70 396.00,110.00 C396.70,114.30 398.70,125.40 399.00,130.00 C399.30,134.60 400.40,153.40 399.00,156.00 C397.60,158.60 386.40,156.00 385.00,156.00 Z" fill="#02020a" stroke="none" stroke-width="1" />
<path d="M484,86 C494,96 501,108 504,118 L504,156 L485,156 Z" fill="#30c83a" filter="url(#bl4)"/>
<path d="M491,112 L499,120 L500,156 L489,156 Z" fill="#62f862" filter="url(#bl2)"/>
<path d="M399.50,56.00 C401.21,50.39 400.37,50.31 404.00,49.50 C407.63,48.69 417.91,49.85 423.70,50.60 C429.49,51.35 436.92,52.90 442.60,54.50 C448.29,56.10 456.19,58.43 461.60,61.30 C467.02,64.16 474.57,69.19 478.70,73.60 C482.82,78.01 486.82,85.28 489.10,90.70 C491.38,96.12 493.46,104.00 493.90,109.70 C494.33,115.40 492.64,123.28 492.00,128.70 C491.36,134.11 490.05,141.56 489.60,145.80 C489.15,150.05 502.51,155.32 489.00,157.00 C475.49,158.68 413.00,163.24 399.50,157.00 C386.00,150.76 400.03,125.92 399.00,115.40 C397.97,104.89 392.53,95.81 392.60,86.90 C392.68,77.99 397.79,61.61 399.50,56.00 Z" fill="#9838e2" stroke="none" stroke-width="1" />
<g clip-path="url(#cb1s)">
<rect x="399.00" y="49.00" width="22.50" height="108.00" fill="#8e34e2" />
<rect x="421.50" y="49.00" width="45.10" height="108.00" fill="#a63ee8" />
<rect x="466.60" y="49.00" width="30.00" height="108.00" fill="#8a34d2" />
<ellipse cx="462" cy="142" rx="9" ry="18" fill="#d455ee" filter="url(#bl4)"/>
<rect x="399.00" y="49.00" width="100.00" height="108.00" fill="#000" filter="url(#spMagD)" fill-opacity="0.2"/>
<path d="M451.20,70.80 C452.78,69.38 457.48,67.95 459.70,68.90 C461.92,69.85 463.38,73.48 464.50,76.50 C465.62,79.52 466.57,83.68 466.40,87.00 C466.23,90.32 464.62,93.57 463.50,96.40 C462.38,99.23 460.97,103.20 459.70,104.00 C458.43,104.80 456.68,103.10 455.90,101.20 C455.12,99.30 455.63,95.30 455.00,92.60 C454.37,89.90 452.90,87.53 452.10,85.00 C451.30,82.47 450.35,79.77 450.20,77.40 C450.05,75.03 449.62,72.22 451.20,70.80 Z" fill="#74ec84" stroke="none" stroke-width="0" filter="url(#bl2)"/>
<ellipse cx="458.2" cy="87" rx="1.8" ry="5" fill="#9838e2" filter="url(#bl1)"/>
<ellipse cx="420.1" cy="72.9" rx="1.54" ry="1.72" fill="#140a3c" fill-opacity="0.9"/>
<ellipse cx="414.3" cy="103.1" rx="0.83" ry="1.07" fill="#140a3c" fill-opacity="0.9"/>
<ellipse cx="458.3" cy="107.3" rx="1.02" ry="1.60" fill="#140a3c" fill-opacity="0.9"/>
<ellipse cx="474.2" cy="123.7" rx="1.14" ry="1.01" fill="#140a3c" fill-opacity="0.9"/>
<ellipse cx="401.5" cy="59.3" rx="1.65" ry="1.62" fill="#140a3c" fill-opacity="0.9"/>
<ellipse cx="474.3" cy="127.1" rx="1.34" ry="2.12" fill="#140a3c" fill-opacity="0.9"/>
<ellipse cx="430.6" cy="108.1" rx="1.63" ry="1.64" fill="#140a3c" fill-opacity="0.9"/>
<ellipse cx="479.9" cy="110.8" rx="1.50" ry="0.86" fill="#140a3c" fill-opacity="0.9"/>
<ellipse cx="415.2" cy="80.0" rx="0.88" ry="1.12" fill="#140a3c" fill-opacity="0.9"/>
<ellipse cx="402.3" cy="78.7" rx="1.44" ry="1.30" fill="#140a3c" fill-opacity="0.9"/>
<ellipse cx="429.8" cy="71.4" rx="1.07" ry="2.07" fill="#140a3c" fill-opacity="0.9"/>
<ellipse cx="458.1" cy="114.2" rx="0.97" ry="1.79" fill="#140a3c" fill-opacity="0.9"/>
<ellipse cx="408.7" cy="89.6" rx="1.79" ry="1.67" fill="#140a3c" fill-opacity="0.9"/>
<ellipse cx="448.8" cy="122.3" rx="1.64" ry="1.86" fill="#140a3c" fill-opacity="0.9"/>
<ellipse cx="415.4" cy="52.4" rx="1.12" ry="1.16" fill="#140a3c" fill-opacity="0.9"/>
<ellipse cx="413.5" cy="149.9" rx="1.68" ry="1.23" fill="#140a3c" fill-opacity="0.9"/>
<ellipse cx="458.9" cy="91.3" rx="1.71" ry="1.42" fill="#140a3c" fill-opacity="0.9"/>
<ellipse cx="419.0" cy="75.4" rx="1.36" ry="1.16" fill="#140a3c" fill-opacity="0.9"/>
<ellipse cx="451.6" cy="145.1" rx="1.20" ry="1.10" fill="#140a3c" fill-opacity="0.9"/>
<ellipse cx="401.3" cy="54.0" rx="0.91" ry="1.65" fill="#140a3c" fill-opacity="0.9"/>
<ellipse cx="472.8" cy="94.2" rx="0.86" ry="1.32" fill="#140a3c" fill-opacity="0.9"/>
<ellipse cx="461.5" cy="106.5" rx="1.07" ry="1.67" fill="#140a3c" fill-opacity="0.9"/>
<ellipse cx="403.4" cy="95.5" rx="1.25" ry="2.10" fill="#140a3c" fill-opacity="0.9"/>
<ellipse cx="443.1" cy="68.1" rx="1.71" ry="1.98" fill="#140a3c" fill-opacity="0.9"/>
<ellipse cx="422.4" cy="117.4" rx="1.41" ry="1.01" fill="#140a3c" fill-opacity="0.9"/>
<ellipse cx="469.8" cy="106.7" rx="1.58" ry="1.52" fill="#140a3c" fill-opacity="0.9"/>
<ellipse cx="481.6" cy="138.0" rx="1.11" ry="0.88" fill="#140a3c" fill-opacity="0.9"/>
<ellipse cx="481.6" cy="150.3" rx="0.89" ry="1.46" fill="#140a3c" fill-opacity="0.9"/>
<ellipse cx="440.5" cy="107.8" rx="1.07" ry="1.99" fill="#140a3c" fill-opacity="0.9"/>
<ellipse cx="435.2" cy="71.7" rx="1.34" ry="1.79" fill="#140a3c" fill-opacity="0.9"/>
<ellipse cx="412.5" cy="82.4" rx="1.80" ry="1.68" fill="#140a3c" fill-opacity="0.9"/>
<ellipse cx="436.7" cy="104.4" rx="0.92" ry="1.11" fill="#140a3c" fill-opacity="0.9"/>
<ellipse cx="426.5" cy="111.9" rx="1.03" ry="1.10" fill="#140a3c" fill-opacity="0.9"/>
<ellipse cx="399.2" cy="116.5" rx="1.03" ry="2.03" fill="#140a3c" fill-opacity="0.9"/>
<ellipse cx="416.3" cy="120.6" rx="1.01" ry="0.98" fill="#140a3c" fill-opacity="0.9"/>
<ellipse cx="487.4" cy="110.1" rx="1.27" ry="1.87" fill="#140a3c" fill-opacity="0.9"/>
<ellipse cx="401.9" cy="95.1" rx="1.22" ry="1.44" fill="#140a3c" fill-opacity="0.9"/>
<ellipse cx="466.4" cy="121.1" rx="1.78" ry="0.93" fill="#140a3c" fill-opacity="0.9"/>
<ellipse cx="433.1" cy="85.3" rx="1.66" ry="1.14" fill="#140a3c" fill-opacity="0.9"/>
<ellipse cx="411.4" cy="97.0" rx="1.22" ry="1.18" fill="#140a3c" fill-opacity="0.9"/>
<ellipse cx="417.5" cy="147.8" rx="1.24" ry="1.97" fill="#140a3c" fill-opacity="0.9"/>
<ellipse cx="441.5" cy="71.9" rx="1.20" ry="0.88" fill="#140a3c" fill-opacity="0.9"/>
<ellipse cx="430.7" cy="154.4" rx="1.07" ry="1.87" fill="#140a3c" fill-opacity="0.9"/>
<ellipse cx="438.4" cy="94.3" rx="1.76" ry="2.15" fill="#140a3c" fill-opacity="0.9"/>
<ellipse cx="448.7" cy="125.9" rx="0.95" ry="1.20" fill="#140a3c" fill-opacity="0.9"/>
<ellipse cx="490.8" cy="111.0" rx="1.34" ry="1.82" fill="#140a3c" fill-opacity="0.9"/>
<ellipse cx="443.3" cy="140.2" rx="0.96" ry="2.11" fill="#140a3c" fill-opacity="0.9"/>
<ellipse cx="400.2" cy="68.9" rx="1.40" ry="1.72" fill="#140a3c" fill-opacity="0.9"/>
<ellipse cx="416.0" cy="61.8" rx="1.69" ry="1.13" fill="#140a3c" fill-opacity="0.9"/>
<ellipse cx="452.6" cy="115.3" rx="1.22" ry="1.59" fill="#140a3c" fill-opacity="0.9"/>
<ellipse cx="445.3" cy="149.0" rx="1.00" ry="1.77" fill="#140a3c" fill-opacity="0.9"/>
<ellipse cx="416.3" cy="91.3" rx="1.47" ry="1.21" fill="#140a3c" fill-opacity="0.9"/>
<ellipse cx="424.3" cy="129.4" rx="0.87" ry="1.42" fill="#140a3c" fill-opacity="0.9"/>
<ellipse cx="399.5" cy="71.8" rx="1.07" ry="2.07" fill="#140a3c" fill-opacity="0.9"/>
<ellipse cx="481.8" cy="143.1" rx="1.17" ry="1.01" fill="#140a3c" fill-opacity="0.9"/>
<ellipse cx="477.0" cy="124.3" rx="1.41" ry="2.14" fill="#140a3c" fill-opacity="0.9"/>
<ellipse cx="475.3" cy="81.0" rx="1.46" ry="2.08" fill="#140a3c" fill-opacity="0.9"/>
<ellipse cx="405.7" cy="61.4" rx="0.91" ry="1.55" fill="#140a3c" fill-opacity="0.9"/>
<ellipse cx="419.8" cy="113.7" rx="1.52" ry="1.08" fill="#140a3c" fill-opacity="0.9"/>
<ellipse cx="456.7" cy="77.2" rx="1.29" ry="2.03" fill="#140a3c" fill-opacity="0.9"/>
<ellipse cx="435.2" cy="78.6" rx="0.80" ry="1.85" fill="#140a3c" fill-opacity="0.9"/>
<ellipse cx="457.0" cy="77.0" rx="1.54" ry="1.55" fill="#140a3c" fill-opacity="0.9"/>
<ellipse cx="399.7" cy="143.5" rx="1.70" ry="1.54" fill="#140a3c" fill-opacity="0.9"/>
<ellipse cx="477.1" cy="111.3" rx="0.95" ry="0.97" fill="#140a3c" fill-opacity="0.9"/>
<ellipse cx="423.4" cy="145.2" rx="1.60" ry="1.97" fill="#140a3c" fill-opacity="0.9"/>
<ellipse cx="417.5" cy="60.0" rx="1.58" ry="2.00" fill="#140a3c" fill-opacity="0.9"/>
<ellipse cx="433.5" cy="115.4" rx="0.95" ry="2.06" fill="#140a3c" fill-opacity="0.9"/>
<ellipse cx="480.2" cy="153.5" rx="1.61" ry="2.00" fill="#140a3c" fill-opacity="0.9"/>
<ellipse cx="425.9" cy="148.6" rx="1.60" ry="1.98" fill="#140a3c" fill-opacity="0.9"/>
<ellipse cx="474.7" cy="77.5" rx="1.59" ry="0.95" fill="#140a3c" fill-opacity="0.9"/>
<ellipse cx="481.0" cy="140.9" rx="1.02" ry="1.91" fill="#140a3c" fill-opacity="0.9"/>
<ellipse cx="439.0" cy="81.7" rx="1.60" ry="1.11" fill="#140a3c" fill-opacity="0.9"/>
<ellipse cx="425.5" cy="141.5" rx="1.77" ry="1.18" fill="#140a3c" fill-opacity="0.9"/>
<ellipse cx="457.4" cy="91.8" rx="1.78" ry="1.53" fill="#140a3c" fill-opacity="0.9"/>
<ellipse cx="403.1" cy="95.5" rx="1.53" ry="1.23" fill="#140a3c" fill-opacity="0.9"/>
<ellipse cx="453.8" cy="103.7" rx="1.19" ry="1.58" fill="#140a3c" fill-opacity="0.9"/>
<ellipse cx="418.0" cy="124.8" rx="0.80" ry="2.06" fill="#140a3c" fill-opacity="0.9"/>
<ellipse cx="446.9" cy="126.0" rx="1.54" ry="1.71" fill="#140a3c" fill-opacity="0.9"/>
<ellipse cx="429.2" cy="56.5" rx="1.46" ry="1.25" fill="#140a3c" fill-opacity="0.9"/>
<ellipse cx="424.0" cy="139.7" rx="1.52" ry="1.21" fill="#140a3c" fill-opacity="0.9"/>
<ellipse cx="423.5" cy="92.7" rx="1.20" ry="1.20" fill="#140a3c" fill-opacity="0.9"/>
<ellipse cx="405.0" cy="94.0" rx="1.74" ry="1.72" fill="#140a3c" fill-opacity="0.9"/>
<ellipse cx="484.1" cy="114.9" rx="1.10" ry="1.55" fill="#140a3c" fill-opacity="0.9"/>
<ellipse cx="435.8" cy="111.1" rx="1.45" ry="1.43" fill="#140a3c" fill-opacity="0.9"/>
<ellipse cx="437.1" cy="71.9" rx="1.27" ry="2.03" fill="#140a3c" fill-opacity="0.9"/>
<ellipse cx="400.6" cy="104.2" rx="1.43" ry="1.26" fill="#140a3c" fill-opacity="0.9"/>
<ellipse cx="475.5" cy="129.4" rx="1.47" ry="1.11" fill="#140a3c" fill-opacity="0.9"/>
<ellipse cx="412.3" cy="51.6" rx="1.04" ry="1.45" fill="#140a3c" fill-opacity="0.9"/>
<ellipse cx="434.3" cy="116.4" rx="0.99" ry="1.75" fill="#140a3c" fill-opacity="0.9"/>
<ellipse cx="442.4" cy="75.1" rx="1.46" ry="0.81" fill="#140a3c" fill-opacity="0.9"/>
<ellipse cx="468.6" cy="131.4" rx="0.91" ry="1.38" fill="#140a3c" fill-opacity="0.9"/>
<ellipse cx="409.9" cy="151.5" rx="1.32" ry="0.87" fill="#140a3c" fill-opacity="0.9"/>
<ellipse cx="417.4" cy="139.8" rx="1.26" ry="1.89" fill="#140a3c" fill-opacity="0.9"/>
<ellipse cx="460.1" cy="154.7" rx="1.40" ry="2.09" fill="#140a3c" fill-opacity="0.9"/>
<ellipse cx="482.9" cy="114.6" rx="1.52" ry="1.49" fill="#140a3c" fill-opacity="0.9"/>
<ellipse cx="476.7" cy="107.6" rx="1.70" ry="1.81" fill="#140a3c" fill-opacity="0.9"/>
<ellipse cx="440.4" cy="76.7" rx="1.05" ry="1.67" fill="#140a3c" fill-opacity="0.9"/>
<ellipse cx="470.1" cy="104.8" rx="1.43" ry="1.17" fill="#140a3c" fill-opacity="0.9"/>
<ellipse cx="399.9" cy="79.6" rx="1.07" ry="1.23" fill="#140a3c" fill-opacity="0.9"/>
<ellipse cx="447.1" cy="63.8" rx="1.03" ry="1.74" fill="#140a3c" fill-opacity="0.9"/>
<ellipse cx="433.6" cy="107.1" rx="1.22" ry="1.08" fill="#140a3c" fill-opacity="0.9"/>
<ellipse cx="434.9" cy="145.8" rx="1.38" ry="1.75" fill="#140a3c" fill-opacity="0.9"/>
<ellipse cx="479.4" cy="130.9" rx="1.18" ry="0.81" fill="#140a3c" fill-opacity="0.9"/>
<ellipse cx="427.9" cy="129.6" rx="1.65" ry="2.10" fill="#140a3c" fill-opacity="0.9"/>
<ellipse cx="434.7" cy="129.0" rx="1.35" ry="1.62" fill="#140a3c" fill-opacity="0.9"/>
<ellipse cx="414.5" cy="72.5" rx="1.24" ry="0.84" fill="#140a3c" fill-opacity="0.9"/>
<ellipse cx="426.3" cy="121.7" rx="1.20" ry="1.02" fill="#140a3c" fill-opacity="0.9"/>
<ellipse cx="439.7" cy="62.7" rx="1.42" ry="0.84" fill="#140a3c" fill-opacity="0.9"/>
<ellipse cx="432.2" cy="109.4" rx="0.83" ry="1.67" fill="#140a3c" fill-opacity="0.9"/>
<ellipse cx="405.8" cy="98.4" rx="0.85" ry="1.32" fill="#140a3c" fill-opacity="0.9"/>
<ellipse cx="413.6" cy="84.0" rx="1.56" ry="1.32" fill="#140a3c" fill-opacity="0.9"/>
<ellipse cx="468.7" cy="138.0" rx="1.05" ry="0.91" fill="#140a3c" fill-opacity="0.9"/>
<ellipse cx="458.3" cy="132.6" rx="1.45" ry="1.83" fill="#140a3c" fill-opacity="0.9"/>
<ellipse cx="404.9" cy="120.6" rx="1.36" ry="1.10" fill="#140a3c" fill-opacity="0.9"/>
<ellipse cx="463.3" cy="131.1" rx="0.97" ry="1.63" fill="#140a3c" fill-opacity="0.9"/>
<ellipse cx="475.6" cy="152.2" rx="0.91" ry="0.83" fill="#140a3c" fill-opacity="0.9"/>
<ellipse cx="423.8" cy="121.5" rx="1.76" ry="1.34" fill="#140a3c" fill-opacity="0.9"/>
<ellipse cx="462.4" cy="116.1" rx="0.90" ry="1.85" fill="#140a3c" fill-opacity="0.9"/>
<ellipse cx="478.7" cy="113.2" rx="0.92" ry="2.14" fill="#140a3c" fill-opacity="0.9"/>
<ellipse cx="471.8" cy="86.2" rx="1.23" ry="1.30" fill="#140a3c" fill-opacity="0.9"/>
<ellipse cx="443.6" cy="85.5" rx="1.65" ry="1.92" fill="#140a3c" fill-opacity="0.9"/>
<ellipse cx="402.8" cy="151.8" rx="1.44" ry="1.93" fill="#140a3c" fill-opacity="0.9"/>
<ellipse cx="464.1" cy="95.6" rx="1.53" ry="2.11" fill="#140a3c" fill-opacity="0.9"/>
<ellipse cx="419.5" cy="135.5" rx="1.34" ry="1.46" fill="#140a3c" fill-opacity="0.9"/>
<ellipse cx="436.4" cy="127.2" rx="1.07" ry="1.96" fill="#140a3c" fill-opacity="0.9"/>
<ellipse cx="439.4" cy="114.3" rx="1.18" ry="0.84" fill="#140a3c" fill-opacity="0.9"/>
<ellipse cx="413.6" cy="134.4" rx="1.14" ry="2.00" fill="#140a3c" fill-opacity="0.9"/>
<ellipse cx="463.5" cy="78.6" rx="0.81" ry="2.09" fill="#140a3c" fill-opacity="0.9"/>
<ellipse cx="400.7" cy="126.0" rx="1.29" ry="1.83" fill="#140a3c" fill-opacity="0.9"/>
<ellipse cx="462.4" cy="118.1" rx="1.29" ry="1.88" fill="#140a3c" fill-opacity="0.9"/>
<ellipse cx="401.5" cy="72.7" rx="1.49" ry="1.22" fill="#140a3c" fill-opacity="0.9"/>
<ellipse cx="451.3" cy="99.6" rx="1.33" ry="1.38" fill="#140a3c" fill-opacity="0.9"/>
<ellipse cx="468.1" cy="84.4" rx="1.50" ry="1.17" fill="#140a3c" fill-opacity="0.9"/>
<ellipse cx="417.6" cy="61.9" rx="0.99" ry="0.96" fill="#140a3c" fill-opacity="0.9"/>
<ellipse cx="446.7" cy="130.6" rx="0.99" ry="1.09" fill="#140a3c" fill-opacity="0.9"/>
<ellipse cx="441.4" cy="126.5" rx="1.78" ry="1.51" fill="#140a3c" fill-opacity="0.9"/>
<ellipse cx="420.9" cy="59.8" rx="0.99" ry="1.11" fill="#140a3c" fill-opacity="0.9"/>
<ellipse cx="410.3" cy="50.5" rx="1.33" ry="1.17" fill="#140a3c" fill-opacity="0.9"/>
<ellipse cx="491.4" cy="108.2" rx="1.50" ry="0.97" fill="#140a3c" fill-opacity="0.9"/>
<ellipse cx="480.6" cy="101.5" rx="1.67" ry="1.58" fill="#140a3c" fill-opacity="0.9"/>
<ellipse cx="439.9" cy="96.1" rx="0.98" ry="0.87" fill="#140a3c" fill-opacity="0.9"/>
<ellipse cx="488.0" cy="100.1" rx="1.62" ry="1.34" fill="#140a3c" fill-opacity="0.9"/>
<ellipse cx="399.6" cy="116.4" rx="0.85" ry="1.00" fill="#140a3c" fill-opacity="0.9"/>
<ellipse cx="449.4" cy="81.5" rx="1.79" ry="0.96" fill="#140a3c" fill-opacity="0.9"/>
<ellipse cx="470.0" cy="113.9" rx="1.59" ry="1.11" fill="#140a3c" fill-opacity="0.9"/>
<ellipse cx="445.3" cy="97.2" rx="1.24" ry="1.97" fill="#140a3c" fill-opacity="0.9"/>
<ellipse cx="455.3" cy="114.2" rx="1.54" ry="2.09" fill="#140a3c" fill-opacity="0.9"/>
<ellipse cx="413.2" cy="71.6" rx="1.46" ry="1.01" fill="#140a3c" fill-opacity="0.9"/>
<ellipse cx="409.7" cy="57.0" rx="0.80" ry="1.41" fill="#140a3c" fill-opacity="0.9"/>
<ellipse cx="452.6" cy="80.2" rx="1.03" ry="1.76" fill="#140a3c" fill-opacity="0.9"/>
<ellipse cx="463.7" cy="97.6" rx="1.49" ry="2.06" fill="#140a3c" fill-opacity="0.9"/>
<ellipse cx="472.4" cy="115.9" rx="1.46" ry="2.07" fill="#140a3c" fill-opacity="0.9"/>
<ellipse cx="435.4" cy="107.3" rx="1.45" ry="2.04" fill="#140a3c" fill-opacity="0.9"/>
<ellipse cx="408.9" cy="81.9" rx="1.55" ry="1.57" fill="#140a3c" fill-opacity="0.9"/>
<ellipse cx="421.4" cy="62.3" rx="1.49" ry="1.75" fill="#140a3c" fill-opacity="0.9"/>
<ellipse cx="488.2" cy="102.6" rx="1.29" ry="0.91" fill="#140a3c" fill-opacity="0.9"/>
<ellipse cx="396.1" cy="95.2" rx="1.12" ry="1.14" fill="#140a3c" fill-opacity="0.9"/>
<ellipse cx="401.3" cy="151.9" rx="1.64" ry="1.58" fill="#140a3c" fill-opacity="0.9"/>
<ellipse cx="489.0" cy="156.0" rx="1.47" ry="1.17" fill="#140a3c" fill-opacity="0.9"/>
<ellipse cx="440.0" cy="118.7" rx="1.72" ry="1.05" fill="#140a3c" fill-opacity="0.9"/>
<ellipse cx="451.7" cy="116.9" rx="1.29" ry="0.92" fill="#140a3c" fill-opacity="0.9"/>
<ellipse cx="427.5" cy="84.7" rx="1.47" ry="1.97" fill="#140a3c" fill-opacity="0.9"/>
<ellipse cx="425.6" cy="123.2" rx="1.09" ry="2.09" fill="#140a3c" fill-opacity="0.9"/>
<ellipse cx="475.0" cy="107.9" rx="1.25" ry="1.23" fill="#140a3c" fill-opacity="0.9"/>
<ellipse cx="425.0" cy="152.8" rx="1.20" ry="1.50" fill="#140a3c" fill-opacity="0.9"/>
<ellipse cx="492.8" cy="119.4" rx="1.34" ry="1.36" fill="#140a3c" fill-opacity="0.9"/>
<ellipse cx="411.1" cy="87.7" rx="1.56" ry="1.65" fill="#140a3c" fill-opacity="0.9"/>
<ellipse cx="469.5" cy="70.8" rx="1.35" ry="2.06" fill="#140a3c" fill-opacity="0.9"/>
<ellipse cx="436.7" cy="123.7" rx="0.92" ry="2.12" fill="#140a3c" fill-opacity="0.9"/>
<ellipse cx="454.1" cy="74.6" rx="0.96" ry="1.55" fill="#140a3c" fill-opacity="0.9"/>
<ellipse cx="448.3" cy="59.0" rx="1.79" ry="2.04" fill="#140a3c" fill-opacity="0.9"/>
<ellipse cx="439.1" cy="61.6" rx="1.63" ry="1.48" fill="#140a3c" fill-opacity="0.9"/>
<ellipse cx="465.1" cy="103.4" rx="1.07" ry="1.94" fill="#140a3c" fill-opacity="0.9"/>
<ellipse cx="448.2" cy="90.0" rx="1.72" ry="1.49" fill="#140a3c" fill-opacity="0.9"/>
<ellipse cx="481.7" cy="141.5" rx="1.08" ry="1.87" fill="#140a3c" fill-opacity="0.9"/>
<ellipse cx="434.3" cy="149.0" rx="1.31" ry="1.92" fill="#140a3c" fill-opacity="0.9"/>
<ellipse cx="420.8" cy="80.9" rx="1.39" ry="2.16" fill="#140a3c" fill-opacity="0.9"/>
<ellipse cx="441.9" cy="64.9" rx="1.34" ry="1.27" fill="#140a3c" fill-opacity="0.9"/>
<ellipse cx="448.3" cy="107.1" rx="1.26" ry="1.24" fill="#140a3c" fill-opacity="0.9"/>
<ellipse cx="411.2" cy="123.6" rx="1.37" ry="1.12" fill="#140a3c" fill-opacity="0.9"/>
<ellipse cx="468.0" cy="124.5" rx="1.61" ry="1.33" fill="#140a3c" fill-opacity="0.9"/>
<ellipse cx="459.7" cy="136.8" rx="1.78" ry="1.47" fill="#140a3c" fill-opacity="0.9"/>
<ellipse cx="452.2" cy="142.1" rx="1.67" ry="1.40" fill="#140a3c" fill-opacity="0.9"/>
<ellipse cx="445.6" cy="97.9" rx="1.52" ry="1.36" fill="#140a3c" fill-opacity="0.9"/>
<ellipse cx="458.8" cy="65.5" rx="1.27" ry="2.12" fill="#140a3c" fill-opacity="0.9"/>
<ellipse cx="426.5" cy="123.1" rx="1.45" ry="1.96" fill="#140a3c" fill-opacity="0.9"/>
<ellipse cx="478.9" cy="140.9" rx="1.18" ry="1.23" fill="#140a3c" fill-opacity="0.9"/>
<ellipse cx="465.3" cy="130.3" rx="1.67" ry="0.85" fill="#140a3c" fill-opacity="0.9"/>
<ellipse cx="485.9" cy="155.7" rx="1.55" ry="1.39" fill="#140a3c" fill-opacity="0.9"/>
<ellipse cx="402.0" cy="116.8" rx="1.67" ry="1.40" fill="#140a3c" fill-opacity="0.9"/>
<ellipse cx="462.8" cy="145.7" rx="0.85" ry="1.88" fill="#140a3c" fill-opacity="0.9"/>
<ellipse cx="421.9" cy="89.1" rx="0.95" ry="1.52" fill="#140a3c" fill-opacity="0.9"/>
<ellipse cx="449.7" cy="133.8" rx="0.97" ry="0.91" fill="#140a3c" fill-opacity="0.9"/>
<ellipse cx="480.8" cy="115.3" rx="1.04" ry="2.04" fill="#140a3c" fill-opacity="0.9"/>
<ellipse cx="406.6" cy="98.3" rx="1.05" ry="1.15" fill="#140a3c" fill-opacity="0.9"/>
<ellipse cx="483.9" cy="121.5" rx="0.96" ry="1.40" fill="#140a3c" fill-opacity="0.9"/>
<ellipse cx="427.2" cy="111.9" rx="1.44" ry="1.38" fill="#140a3c" fill-opacity="0.9"/>
<ellipse cx="417.5" cy="139.4" rx="1.00" ry="1.32" fill="#140a3c" fill-opacity="0.9"/>
<ellipse cx="441.3" cy="74.4" rx="1.37" ry="1.58" fill="#140a3c" fill-opacity="0.9"/>
<ellipse cx="491.8" cy="119.4" rx="1.07" ry="1.57" fill="#140a3c" fill-opacity="0.9"/>
<ellipse cx="462.0" cy="128.7" rx="0.85" ry="1.62" fill="#140a3c" fill-opacity="0.9"/>
<ellipse cx="442.7" cy="145.7" rx="1.09" ry="1.89" fill="#140a3c" fill-opacity="0.9"/>
<ellipse cx="453.9" cy="86.7" rx="1.44" ry="1.64" fill="#140a3c" fill-opacity="0.9"/>
<ellipse cx="461.1" cy="126.1" rx="1.46" ry="1.94" fill="#140a3c" fill-opacity="0.9"/>
<ellipse cx="456.1" cy="145.7" rx="1.45" ry="1.22" fill="#140a3c" fill-opacity="0.9"/>
<ellipse cx="437.0" cy="111.0" rx="1.53" ry="0.92" fill="#140a3c" fill-opacity="0.9"/>
<ellipse cx="422.1" cy="129.0" rx="0.98" ry="0.98" fill="#140a3c" fill-opacity="0.9"/>
<ellipse cx="447.0" cy="152.9" rx="1.33" ry="2.04" fill="#140a3c" fill-opacity="0.9"/>
<ellipse cx="476.7" cy="76.5" rx="1.62" ry="1.46" fill="#140a3c" fill-opacity="0.9"/>
<ellipse cx="474.3" cy="128.9" rx="1.14" ry="0.96" fill="#140a3c" fill-opacity="0.9"/>
<ellipse cx="465.9" cy="153.9" rx="1.77" ry="1.89" fill="#140a3c" fill-opacity="0.9"/>
<ellipse cx="429.3" cy="133.6" rx="0.81" ry="1.53" fill="#140a3c" fill-opacity="0.9"/>
<ellipse cx="438.4" cy="121.0" rx="1.47" ry="1.60" fill="#140a3c" fill-opacity="0.9"/>
<ellipse cx="475.9" cy="149.6" rx="0.91" ry="1.12" fill="#140a3c" fill-opacity="0.9"/>
<ellipse cx="449.3" cy="146.9" rx="1.02" ry="0.89" fill="#140a3c" fill-opacity="0.9"/>
<ellipse cx="476.0" cy="146.3" rx="1.10" ry="1.36" fill="#140a3c" fill-opacity="0.9"/>
<ellipse cx="406.3" cy="150.2" rx="1.10" ry="1.47" fill="#140a3c" fill-opacity="0.9"/>
<ellipse cx="401.9" cy="143.9" rx="0.94" ry="1.42" fill="#140a3c" fill-opacity="0.9"/>
<ellipse cx="460.4" cy="128.5" rx="1.75" ry="1.37" fill="#140a3c" fill-opacity="0.9"/>
<ellipse cx="434.3" cy="59.6" rx="1.29" ry="1.36" fill="#140a3c" fill-opacity="0.9"/>
<ellipse cx="429.8" cy="96.4" rx="1.75" ry="1.96" fill="#140a3c" fill-opacity="0.9"/>
<ellipse cx="402.1" cy="122.4" rx="1.34" ry="2.13" fill="#140a3c" fill-opacity="0.9"/>
<ellipse cx="428.6" cy="91.6" rx="0.99" ry="0.97" fill="#140a3c" fill-opacity="0.9"/>
<ellipse cx="478.5" cy="97.7" rx="1.46" ry="1.67" fill="#140a3c" fill-opacity="0.9"/>
<ellipse cx="472.3" cy="75.1" rx="0.93" ry="1.57" fill="#140a3c" fill-opacity="0.9"/>
<ellipse cx="413.1" cy="72.1" rx="1.67" ry="1.25" fill="#140a3c" fill-opacity="0.9"/>
<ellipse cx="407.1" cy="145.4" rx="0.80" ry="1.97" fill="#140a3c" fill-opacity="0.9"/>
<ellipse cx="406.8" cy="62.9" rx="1.05" ry="1.04" fill="#140a3c" fill-opacity="0.9"/>
<ellipse cx="416.3" cy="83.6" rx="0.97" ry="0.87" fill="#140a3c" fill-opacity="0.9"/>
<ellipse cx="467.7" cy="105.3" rx="1.55" ry="1.45" fill="#140a3c" fill-opacity="0.9"/>
<ellipse cx="471.4" cy="103.9" rx="0.91" ry="1.49" fill="#140a3c" fill-opacity="0.9"/>
<ellipse cx="471.9" cy="141.8" rx="1.32" ry="1.42" fill="#140a3c" fill-opacity="0.9"/>
<ellipse cx="440.9" cy="92.0" rx="1.49" ry="1.47" fill="#140a3c" fill-opacity="0.9"/>
<ellipse cx="400.2" cy="114.1" rx="0.87" ry="1.17" fill="#140a3c" fill-opacity="0.9"/>
<ellipse cx="456.6" cy="107.7" rx="1.13" ry="2.15" fill="#140a3c" fill-opacity="0.9"/>
<ellipse cx="446.1" cy="97.5" rx="1.41" ry="0.93" fill="#140a3c" fill-opacity="0.9"/>
<ellipse cx="463.6" cy="140.2" rx="1.45" ry="1.85" fill="#140a3c" fill-opacity="0.9"/>
<ellipse cx="465.5" cy="72.0" rx="1.25" ry="1.11" fill="#140a3c" fill-opacity="0.9"/>
<ellipse cx="426.6" cy="97.5" rx="1.22" ry="0.93" fill="#140a3c" fill-opacity="0.9"/>
<ellipse cx="435.5" cy="120.2" rx="1.17" ry="1.01" fill="#140a3c" fill-opacity="0.9"/>
<ellipse cx="401.8" cy="128.1" rx="1.61" ry="1.56" fill="#140a3c" fill-opacity="0.9"/>
<ellipse cx="451.8" cy="109.1" rx="1.13" ry="0.97" fill="#140a3c" fill-opacity="0.9"/>
<ellipse cx="428.1" cy="120.2" rx="1.55" ry="1.98" fill="#140a3c" fill-opacity="0.9"/>
<ellipse cx="465.5" cy="152.6" rx="1.40" ry="1.28" fill="#140a3c" fill-opacity="0.9"/>
<ellipse cx="450.9" cy="71.8" rx="1.46" ry="1.10" fill="#140a3c" fill-opacity="0.9"/>
<ellipse cx="403.0" cy="139.5" rx="1.17" ry="1.84" fill="#140a3c" fill-opacity="0.9"/>
<ellipse cx="450.6" cy="135.4" rx="1.65" ry="2.13" fill="#140a3c" fill-opacity="0.9"/>
<ellipse cx="475.5" cy="114.7" rx="1.44" ry="0.84" fill="#140a3c" fill-opacity="0.9"/>
<ellipse cx="486.8" cy="137.8" rx="1.07" ry="1.05" fill="#140a3c" fill-opacity="0.9"/>
<ellipse cx="463.7" cy="82.1" rx="1.14" ry="0.81" fill="#140a3c" fill-opacity="0.9"/>
<ellipse cx="480.7" cy="109.6" rx="1.20" ry="0.99" fill="#140a3c" fill-opacity="0.9"/>
<ellipse cx="468.1" cy="72.0" rx="1.22" ry="1.26" fill="#140a3c" fill-opacity="0.9"/>
<ellipse cx="429.7" cy="126.2" rx="1.58" ry="1.57" fill="#140a3c" fill-opacity="0.9"/>
<ellipse cx="400.7" cy="54.6" rx="0.96" ry="1.64" fill="#140a3c" fill-opacity="0.9"/>
<ellipse cx="460.7" cy="78.1" rx="1.46" ry="1.46" fill="#140a3c" fill-opacity="0.9"/>
<ellipse cx="437.1" cy="78.2" rx="1.55" ry="0.95" fill="#140a3c" fill-opacity="0.9"/>
<ellipse cx="435.9" cy="79.3" rx="1.48" ry="1.46" fill="#140a3c" fill-opacity="0.9"/>
<ellipse cx="432.3" cy="113.1" rx="0.81" ry="1.21" fill="#140a3c" fill-opacity="0.9"/>
<ellipse cx="413.5" cy="63.7" rx="1.06" ry="1.25" fill="#140a3c" fill-opacity="0.9"/>
<ellipse cx="409.9" cy="89.7" rx="1.50" ry="1.48" fill="#140a3c" fill-opacity="0.9"/>
<ellipse cx="477.0" cy="135.3" rx="0.87" ry="1.97" fill="#140a3c" fill-opacity="0.9"/>
<ellipse cx="486.0" cy="141.2" rx="1.38" ry="1.58" fill="#140a3c" fill-opacity="0.9"/>
<ellipse cx="464.4" cy="93.7" rx="0.92" ry="0.83" fill="#140a3c" fill-opacity="0.9"/>
<ellipse cx="425.1" cy="134.7" rx="1.42" ry="1.93" fill="#140a3c" fill-opacity="0.9"/>
<ellipse cx="478.1" cy="75.0" rx="1.39" ry="1.51" fill="#140a3c" fill-opacity="0.9"/>
<ellipse cx="432.4" cy="82.2" rx="1.14" ry="1.25" fill="#140a3c" fill-opacity="0.9"/>
<ellipse cx="409.1" cy="103.6" rx="0.91" ry="1.49" fill="#140a3c" fill-opacity="0.9"/>
<ellipse cx="484.4" cy="86.4" rx="1.53" ry="1.91" fill="#140a3c" fill-opacity="0.9"/>
<ellipse cx="475.1" cy="74.3" rx="0.95" ry="1.07" fill="#140a3c" fill-opacity="0.9"/>
<ellipse cx="453.4" cy="130.3" rx="1.46" ry="1.04" fill="#140a3c" fill-opacity="0.9"/>
<ellipse cx="470.8" cy="101.9" rx="1.55" ry="1.83" fill="#140a3c" fill-opacity="0.9"/>
<ellipse cx="437.8" cy="147.9" rx="1.36" ry="1.66" fill="#140a3c" fill-opacity="0.9"/>
<ellipse cx="455.7" cy="141.5" rx="1.43" ry="1.01" fill="#140a3c" fill-opacity="0.9"/>
<ellipse cx="399.0" cy="96.3" rx="1.10" ry="1.17" fill="#140a3c" fill-opacity="0.9"/>
<ellipse cx="397.7" cy="103.3" rx="1.11" ry="1.41" fill="#140a3c" fill-opacity="0.9"/>
<ellipse cx="399.8" cy="141.5" rx="1.66" ry="1.64" fill="#140a3c" fill-opacity="0.9"/>
<ellipse cx="443.7" cy="98.5" rx="1.35" ry="1.88" fill="#140a3c" fill-opacity="0.9"/>
<ellipse cx="483.4" cy="97.1" rx="1.61" ry="1.69" fill="#140a3c" fill-opacity="0.9"/>
<ellipse cx="424.8" cy="99.9" rx="0.95" ry="0.88" fill="#140a3c" fill-opacity="0.9"/>
<ellipse cx="402.6" cy="145.2" rx="1.14" ry="1.77" fill="#140a3c" fill-opacity="0.9"/>
<ellipse cx="443.5" cy="67.5" rx="1.05" ry="1.40" fill="#140a3c" fill-opacity="0.9"/>
<ellipse cx="436.8" cy="104.9" rx="0.96" ry="1.31" fill="#140a3c" fill-opacity="0.9"/>
<ellipse cx="420.9" cy="92.7" rx="1.14" ry="1.61" fill="#140a3c" fill-opacity="0.9"/>
<ellipse cx="472.5" cy="118.3" rx="0.87" ry="0.93" fill="#140a3c" fill-opacity="0.9"/>
<ellipse cx="461.2" cy="79.4" rx="1.52" ry="1.69" fill="#140a3c" fill-opacity="0.9"/>
<ellipse cx="484.4" cy="142.4" rx="1.13" ry="1.59" fill="#140a3c" fill-opacity="0.9"/>
<ellipse cx="406.4" cy="86.4" rx="1.77" ry="1.75" fill="#140a3c" fill-opacity="0.9"/>
<ellipse cx="432.0" cy="112.7" rx="1.74" ry="1.22" fill="#140a3c" fill-opacity="0.9"/>
<ellipse cx="430.4" cy="133.7" rx="1.61" ry="1.71" fill="#140a3c" fill-opacity="0.9"/>
<ellipse cx="476.6" cy="128.0" rx="1.49" ry="1.52" fill="#140a3c" fill-opacity="0.9"/>
<ellipse cx="457.9" cy="94.3" rx="1.16" ry="1.29" fill="#140a3c" fill-opacity="0.9"/>
<ellipse cx="410.4" cy="71.9" rx="1.75" ry="1.46" fill="#140a3c" fill-opacity="0.9"/>
<ellipse cx="415.1" cy="63.7" rx="0.88" ry="1.95" fill="#140a3c" fill-opacity="0.9"/>
<ellipse cx="402.3" cy="131.5" rx="1.64" ry="2.00" fill="#140a3c" fill-opacity="0.9"/>
<ellipse cx="395.9" cy="85.0" rx="1.57" ry="0.98" fill="#140a3c" fill-opacity="0.9"/>
<ellipse cx="430.4" cy="66.4" rx="1.63" ry="1.85" fill="#140a3c" fill-opacity="0.9"/>
<ellipse cx="436.6" cy="93.0" rx="1.48" ry="1.12" fill="#140a3c" fill-opacity="0.9"/>
<ellipse cx="437.3" cy="79.5" rx="1.55" ry="1.41" fill="#140a3c" fill-opacity="0.9"/>
<ellipse cx="446.5" cy="82.1" rx="1.61" ry="1.44" fill="#140a3c" fill-opacity="0.9"/>
<ellipse cx="477.2" cy="88.4" rx="1.75" ry="2.14" fill="#140a3c" fill-opacity="0.9"/>
<ellipse cx="439.1" cy="79.1" rx="1.18" ry="1.52" fill="#140a3c" fill-opacity="0.9"/>
<ellipse cx="490.6" cy="136.4" rx="1.60" ry="0.99" fill="#140a3c" fill-opacity="0.9"/>
<ellipse cx="417.5" cy="117.6" rx="1.67" ry="1.55" fill="#140a3c" fill-opacity="0.9"/>
<ellipse cx="402.5" cy="139.5" rx="1.65" ry="1.19" fill="#140a3c" fill-opacity="0.9"/>
<ellipse cx="469.8" cy="78.2" rx="1.71" ry="1.00" fill="#140a3c" fill-opacity="0.9"/>
<ellipse cx="436.6" cy="150.3" rx="1.02" ry="1.41" fill="#140a3c" fill-opacity="0.9"/>
<ellipse cx="427.7" cy="51.9" rx="0.85" ry="1.48" fill="#140a3c" fill-opacity="0.9"/>
<ellipse cx="416.0" cy="155.4" rx="1.17" ry="0.84" fill="#140a3c" fill-opacity="0.9"/>
<ellipse cx="486.9" cy="138.8" rx="1.45" ry="1.88" fill="#140a3c" fill-opacity="0.9"/>
<ellipse cx="406.0" cy="79.7" rx="1.63" ry="1.75" fill="#140a3c" fill-opacity="0.9"/>
<ellipse cx="406.2" cy="124.5" rx="1.25" ry="0.81" fill="#140a3c" fill-opacity="0.9"/>
<ellipse cx="400.1" cy="76.4" rx="1.63" ry="1.55" fill="#140a3c" fill-opacity="0.9"/>
<ellipse cx="466.2" cy="105.5" rx="0.91" ry="1.19" fill="#140a3c" fill-opacity="0.9"/>
<ellipse cx="422.7" cy="54.1" rx="1.22" ry="1.88" fill="#140a3c" fill-opacity="0.9"/>
<ellipse cx="438.6" cy="60.9" rx="1.71" ry="1.61" fill="#140a3c" fill-opacity="0.9"/>
<ellipse cx="416.7" cy="64.4" rx="1.23" ry="1.64" fill="#140a3c" fill-opacity="0.9"/>
<ellipse cx="416.5" cy="93.6" rx="1.46" ry="0.92" fill="#140a3c" fill-opacity="0.9"/>
<ellipse cx="445.7" cy="103.3" rx="1.79" ry="1.55" fill="#140a3c" fill-opacity="0.9"/>
<ellipse cx="431.8" cy="99.3" rx="1.44" ry="2.13" fill="#140a3c" fill-opacity="0.9"/>
<ellipse cx="417.9" cy="50.7" rx="1.59" ry="1.27" fill="#140a3c" fill-opacity="0.9"/>
<ellipse cx="466.8" cy="116.2" rx="1.57" ry="1.80" fill="#140a3c" fill-opacity="0.9"/>
<ellipse cx="425.9" cy="53.7" rx="1.35" ry="1.91" fill="#140a3c" fill-opacity="0.9"/>
<ellipse cx="409.9" cy="132.4" rx="1.26" ry="1.75" fill="#140a3c" fill-opacity="0.9"/>
<ellipse cx="456.4" cy="135.8" rx="0.86" ry="1.86" fill="#140a3c" fill-opacity="0.9"/>
<ellipse cx="438.7" cy="80.4" rx="0.84" ry="1.07" fill="#140a3c" fill-opacity="0.9"/>
<ellipse cx="444.6" cy="154.8" rx="1.34" ry="1.14" fill="#140a3c" fill-opacity="0.9"/>
<ellipse cx="468.8" cy="69.4" rx="1.16" ry="1.86" fill="#140a3c" fill-opacity="0.9"/>
<ellipse cx="480.3" cy="84.5" rx="0.92" ry="1.30" fill="#140a3c" fill-opacity="0.9"/>
<ellipse cx="482.7" cy="128.5" rx="1.69" ry="1.33" fill="#140a3c" fill-opacity="0.9"/>
<ellipse cx="491.3" cy="102.1" rx="1.30" ry="2.06" fill="#140a3c" fill-opacity="0.9"/>
<ellipse cx="440.3" cy="67.5" rx="3.3" ry="3.2" fill="#74ec84" filter="url(#bl2)"/>
<path d="M430.50,94.00 C430.50,92.83 433.25,91.00 435.00,90.50 C436.75,90.00 440.17,90.25 441.00,91.00 C441.83,91.75 441.00,93.92 440.00,95.00 C439.00,96.08 436.58,97.67 435.00,97.50 C433.42,97.33 430.50,95.17 430.50,94.00 Z" fill="#74ec84" stroke="none" stroke-width="0" filter="url(#bl2)"/>
<path d="M458.00,121.00 C458.50,120.17 462.17,121.50 464.00,123.00 C465.83,124.50 468.67,128.33 469.00,130.00 C469.33,131.67 467.33,133.33 466.00,133.00 C464.67,132.67 462.33,130.00 461.00,128.00 C459.67,126.00 457.50,121.83 458.00,121.00 Z" fill="#90c8a0" stroke="none" stroke-width="0" filter="url(#bl2)" fill-opacity="0.8"/>
<path d="M465,140 L471,144 L466,148 Z" fill="#05020a"/>
</g>
<path d="M399.50,56.00 C401.21,50.39 400.37,50.31 404.00,49.50 C407.63,48.69 417.91,49.85 423.70,50.60 C429.49,51.35 436.92,52.90 442.60,54.50 C448.29,56.10 456.19,58.43 461.60,61.30 C467.02,64.16 474.57,69.19 478.70,73.60 C482.82,78.01 486.82,85.28 489.10,90.70 C491.38,96.12 493.46,104.00 493.90,109.70 C494.33,115.40 492.64,123.28 492.00,128.70 C491.36,134.11 490.05,141.56 489.60,145.80 C489.15,150.05 502.51,155.32 489.00,157.00 C475.49,158.68 413.00,163.24 399.50,157.00 C386.00,150.76 400.03,125.92 399.00,115.40 C397.97,104.89 392.53,95.81 392.60,86.90 C392.68,77.99 397.79,61.61 399.50,56.00 Z" fill="none" stroke="#ffffff" stroke-width="1.0" stroke-dasharray="2.2 1.6"/>
<text x="411.00" y="149.60" font-size="11.5" fill="#ffffff" text-anchor="start" >dStr</text>
<line x1="471.00" y1="149.40" x2="498.60" y2="149.40" stroke="#ffffff" stroke-width="2.0" />
</g>
<g clip-path="url(#cb2)">
<rect x="506.20" y="37.00" width="178.00" height="118.00" fill="#08082c" />
<rect x="506.20" y="37.00" width="178.00" height="118.00" fill="#000" filter="url(#spBlue)"/>
<rect x="506.20" y="118.00" width="178.00" height="37.00" fill="#000" filter="url(#spBlue2)" fill-opacity="0.7"/>
<path d="M565,156 C600,148 640,142 660,120 C672,106 680,92 686,82 L686,156 Z" fill="#1c1ca0" fill-opacity="0.55" filter="url(#bl4)"/>
<path d="M612,156 C640,150 660,138 674,118 L686,104 L686,156 Z" fill="#0a0a40" fill-opacity="0.55" filter="url(#bl3)"/>
<path d="M585,154 C625,150 660,136 686,112" fill="none" stroke="#3434f0" stroke-width="4" filter="url(#bl3)"/>
<path d="M508,90 C520,82 540,80 560,86 L573,91 C571,105 567,122 561,137 C545,135 528,129 512,123 C507,112 506,100 508,90 Z" fill="#5e1c86" fill-opacity="0.75" filter="url(#bl8)"/>
<path d="M572,92 C585,84 600,74 620,68 L648,62 L652,74 C630,82 608,92 590,100 L575,108 Z" fill="#6a2090" fill-opacity="0.7" filter="url(#bl6)"/>
<g mask="url(#cb2m)">
<rect x="506.00" y="60.00" width="120.00" height="90.00" fill="#000" filter="url(#spMag)"/>
<ellipse cx="548.8" cy="122.5" rx="0.86" ry="0.56" fill="#e858f4" fill-opacity="0.85"/>
<ellipse cx="552.5" cy="123.5" rx="0.77" ry="0.72" fill="#e858f4" fill-opacity="0.85"/>
<ellipse cx="529.5" cy="115.7" rx="0.65" ry="0.92" fill="#e858f4" fill-opacity="0.85"/>
<ellipse cx="544.7" cy="117.1" rx="0.68" ry="0.53" fill="#e858f4" fill-opacity="0.85"/>
<ellipse cx="564.3" cy="100.9" rx="1.00" ry="0.69" fill="#e858f4" fill-opacity="0.85"/>
<ellipse cx="569.1" cy="129.5" rx="0.54" ry="0.95" fill="#e858f4" fill-opacity="0.85"/>
<ellipse cx="542.0" cy="122.5" rx="0.84" ry="1.17" fill="#e858f4" fill-opacity="0.85"/>
<ellipse cx="532.3" cy="113.2" rx="0.89" ry="0.52" fill="#e858f4" fill-opacity="0.85"/>
<ellipse cx="529.0" cy="121.4" rx="0.68" ry="0.77" fill="#e858f4" fill-opacity="0.85"/>
<ellipse cx="551.0" cy="113.0" rx="0.84" ry="1.16" fill="#e858f4" fill-opacity="0.85"/>
<ellipse cx="542.4" cy="120.6" rx="0.79" ry="0.87" fill="#e858f4" fill-opacity="0.85"/>
<ellipse cx="543.5" cy="115.2" rx="0.62" ry="0.58" fill="#e858f4" fill-opacity="0.85"/>
<ellipse cx="558.4" cy="108.0" rx="0.69" ry="0.89" fill="#e858f4" fill-opacity="0.85"/>
<ellipse cx="537.5" cy="96.5" rx="0.72" ry="1.20" fill="#e858f4" fill-opacity="0.85"/>
<ellipse cx="538.6" cy="128.0" rx="0.75" ry="0.59" fill="#e858f4" fill-opacity="0.85"/>
<ellipse cx="563.5" cy="105.7" rx="0.95" ry="0.81" fill="#e858f4" fill-opacity="0.85"/>
<ellipse cx="529.9" cy="116.7" rx="0.92" ry="0.72" fill="#e858f4" fill-opacity="0.85"/>
<ellipse cx="541.3" cy="87.1" rx="0.77" ry="1.12" fill="#e858f4" fill-opacity="0.85"/>
<ellipse cx="563.5" cy="118.2" rx="0.96" ry="0.95" fill="#e858f4" fill-opacity="0.85"/>
<ellipse cx="560.9" cy="108.4" rx="0.56" ry="0.64" fill="#e858f4" fill-opacity="0.85"/>
<ellipse cx="532.1" cy="121.9" rx="0.51" ry="0.89" fill="#e858f4" fill-opacity="0.85"/>
<ellipse cx="542.2" cy="122.6" rx="0.78" ry="0.93" fill="#e858f4" fill-opacity="0.85"/>
<ellipse cx="529.8" cy="98.8" rx="1.00" ry="1.00" fill="#e858f4" fill-opacity="0.85"/>
<ellipse cx="549.1" cy="120.9" rx="0.91" ry="0.55" fill="#e858f4" fill-opacity="0.85"/>
<ellipse cx="568.8" cy="114.8" rx="0.72" ry="0.98" fill="#e858f4" fill-opacity="0.85"/>
<ellipse cx="541.2" cy="126.1" rx="0.89" ry="0.95" fill="#e858f4" fill-opacity="0.85"/>
<ellipse cx="534.0" cy="130.4" rx="0.72" ry="1.14" fill="#e858f4" fill-opacity="0.85"/>
<ellipse cx="528.4" cy="90.0" rx="0.58" ry="0.62" fill="#e858f4" fill-opacity="0.85"/>
<ellipse cx="540.2" cy="118.0" rx="0.67" ry="1.16" fill="#e858f4" fill-opacity="0.85"/>
<ellipse cx="565.4" cy="124.6" rx="0.63" ry="0.94" fill="#e858f4" fill-opacity="0.85"/>
<ellipse cx="550.2" cy="90.0" rx="0.65" ry="0.87" fill="#e858f4" fill-opacity="0.85"/>
<ellipse cx="548.1" cy="92.1" rx="0.97" ry="0.61" fill="#e858f4" fill-opacity="0.85"/>
<ellipse cx="555.0" cy="118.6" rx="0.80" ry="1.09" fill="#e858f4" fill-opacity="0.85"/>
<ellipse cx="550.8" cy="123.6" rx="0.51" ry="0.53" fill="#e858f4" fill-opacity="0.85"/>
<ellipse cx="554.2" cy="111.7" rx="0.83" ry="1.04" fill="#e858f4" fill-opacity="0.85"/>
<ellipse cx="544.3" cy="114.7" rx="0.75" ry="0.94" fill="#e858f4" fill-opacity="0.85"/>
<ellipse cx="538.7" cy="129.9" rx="0.74" ry="1.06" fill="#e858f4" fill-opacity="0.85"/>
<ellipse cx="556.1" cy="98.3" rx="0.54" ry="0.54" fill="#e858f4" fill-opacity="0.85"/>
<ellipse cx="545.3" cy="107.2" rx="0.60" ry="0.92" fill="#e858f4" fill-opacity="0.85"/>
<ellipse cx="539.8" cy="118.5" rx="0.87" ry="1.10" fill="#e858f4" fill-opacity="0.85"/>
<ellipse cx="568.9" cy="90.3" rx="0.69" ry="0.89" fill="#e858f4" fill-opacity="0.85"/>
<ellipse cx="540.0" cy="106.4" rx="0.63" ry="0.67" fill="#e858f4" fill-opacity="0.85"/>
<ellipse cx="530.3" cy="97.9" rx="0.69" ry="0.93" fill="#e858f4" fill-opacity="0.85"/>
<ellipse cx="536.9" cy="125.5" rx="0.58" ry="0.73" fill="#e858f4" fill-opacity="0.85"/>
<ellipse cx="551.4" cy="99.0" rx="0.88" ry="0.85" fill="#e858f4" fill-opacity="0.85"/>
<ellipse cx="548.6" cy="107.9" rx="0.65" ry="0.52" fill="#e858f4" fill-opacity="0.85"/>
<ellipse cx="567.6" cy="108.3" rx="0.98" ry="0.65" fill="#e858f4" fill-opacity="0.85"/>
<ellipse cx="541.5" cy="86.4" rx="0.75" ry="1.12" fill="#e858f4" fill-opacity="0.85"/>
<ellipse cx="554.8" cy="106.6" rx="0.77" ry="1.09" fill="#e858f4" fill-opacity="0.85"/>
<ellipse cx="545.0" cy="126.4" rx="0.86" ry="1.03" fill="#e858f4" fill-opacity="0.85"/>
<ellipse cx="542.1" cy="103.2" rx="0.79" ry="0.64" fill="#e858f4" fill-opacity="0.85"/>
<ellipse cx="550.3" cy="87.5" rx="0.75" ry="1.04" fill="#e858f4" fill-opacity="0.85"/>
<ellipse cx="538.3" cy="131.5" rx="0.84" ry="0.58" fill="#e858f4" fill-opacity="0.85"/>
<ellipse cx="568.9" cy="102.9" rx="0.90" ry="0.74" fill="#e858f4" fill-opacity="0.85"/>
<ellipse cx="567.3" cy="120.2" rx="0.60" ry="0.86" fill="#e858f4" fill-opacity="0.85"/>
<ellipse cx="548.0" cy="86.2" rx="0.57" ry="0.73" fill="#e858f4" fill-opacity="0.85"/>
<ellipse cx="546.8" cy="105.9" rx="0.80" ry="0.86" fill="#e858f4" fill-opacity="0.85"/>
<ellipse cx="540.4" cy="113.4" rx="0.58" ry="1.19" fill="#e858f4" fill-opacity="0.85"/>
<ellipse cx="558.5" cy="98.4" rx="0.67" ry="1.08" fill="#e858f4" fill-opacity="0.85"/>
<ellipse cx="549.4" cy="118.0" rx="0.65" ry="1.07" fill="#e858f4" fill-opacity="0.85"/>
<ellipse cx="542.2" cy="116.3" rx="0.99" ry="0.91" fill="#e858f4" fill-opacity="0.85"/>
<ellipse cx="561.1" cy="118.8" rx="0.84" ry="0.52" fill="#e858f4" fill-opacity="0.85"/>
<ellipse cx="546.9" cy="130.4" rx="0.89" ry="1.04" fill="#e858f4" fill-opacity="0.85"/>
<ellipse cx="551.4" cy="118.6" rx="0.79" ry="0.62" fill="#e858f4" fill-opacity="0.85"/>
<ellipse cx="553.7" cy="113.7" rx="0.92" ry="0.60" fill="#e858f4" fill-opacity="0.85"/>
<ellipse cx="556.0" cy="85.5" rx="0.97" ry="0.58" fill="#e858f4" fill-opacity="0.85"/>
<ellipse cx="526.8" cy="99.1" rx="0.58" ry="0.98" fill="#e858f4" fill-opacity="0.85"/>
<ellipse cx="544.1" cy="121.2" rx="0.96" ry="1.11" fill="#e858f4" fill-opacity="0.85"/>
<ellipse cx="558.4" cy="87.0" rx="0.57" ry="0.65" fill="#e858f4" fill-opacity="0.85"/>
<ellipse cx="540.3" cy="115.8" rx="0.76" ry="0.72" fill="#e858f4" fill-opacity="0.85"/>
<ellipse cx="533.6" cy="127.8" rx="0.67" ry="0.75" fill="#e858f4" fill-opacity="0.85"/>
<ellipse cx="560.0" cy="118.6" rx="0.82" ry="0.99" fill="#e858f4" fill-opacity="0.85"/>
<ellipse cx="552.8" cy="93.2" rx="0.62" ry="0.89" fill="#e858f4" fill-opacity="0.85"/>
<ellipse cx="535.9" cy="130.7" rx="0.65" ry="0.70" fill="#e858f4" fill-opacity="0.85"/>
<ellipse cx="535.1" cy="117.8" rx="0.66" ry="0.74" fill="#e858f4" fill-opacity="0.85"/>
<ellipse cx="567.1" cy="122.2" rx="0.64" ry="0.59" fill="#e858f4" fill-opacity="0.85"/>
<ellipse cx="555.8" cy="102.2" rx="0.99" ry="1.07" fill="#e858f4" fill-opacity="0.85"/>
<ellipse cx="568.0" cy="122.6" rx="0.65" ry="0.70" fill="#e858f4" fill-opacity="0.85"/>
<ellipse cx="557.4" cy="100.6" rx="0.72" ry="0.68" fill="#e858f4" fill-opacity="0.85"/>
<ellipse cx="547.1" cy="93.7" rx="0.77" ry="1.15" fill="#e858f4" fill-opacity="0.85"/>
<ellipse cx="556.6" cy="90.6" rx="0.81" ry="0.91" fill="#e858f4" fill-opacity="0.85"/>
<ellipse cx="536.7" cy="116.2" rx="0.77" ry="0.95" fill="#e858f4" fill-opacity="0.85"/>
<ellipse cx="528.3" cy="103.8" rx="0.86" ry="0.57" fill="#e858f4" fill-opacity="0.85"/>
<ellipse cx="559.9" cy="84.2" rx="0.78" ry="1.15" fill="#e858f4" fill-opacity="0.85"/>
<ellipse cx="543.9" cy="128.9" rx="0.94" ry="0.83" fill="#e858f4" fill-opacity="0.85"/>
<ellipse cx="534.8" cy="130.3" rx="0.66" ry="0.95" fill="#e858f4" fill-opacity="0.85"/>
<ellipse cx="565.9" cy="88.3" rx="0.79" ry="0.87" fill="#e858f4" fill-opacity="0.85"/>
<ellipse cx="557.8" cy="129.0" rx="0.96" ry="0.62" fill="#e858f4" fill-opacity="0.85"/>
<ellipse cx="564.8" cy="92.4" rx="0.96" ry="1.20" fill="#e858f4" fill-opacity="0.85"/>
<ellipse cx="543.5" cy="107.8" rx="0.97" ry="1.17" fill="#e858f4" fill-opacity="0.85"/>
<ellipse cx="566.7" cy="126.1" rx="0.50" ry="0.90" fill="#e858f4" fill-opacity="0.85"/>
<ellipse cx="530.7" cy="131.2" rx="0.64" ry="1.19" fill="#e858f4" fill-opacity="0.85"/>
<ellipse cx="549.9" cy="107.7" rx="0.97" ry="1.10" fill="#e858f4" fill-opacity="0.85"/>
<ellipse cx="546.6" cy="93.3" rx="0.56" ry="0.61" fill="#e858f4" fill-opacity="0.85"/>
<ellipse cx="546.2" cy="96.3" rx="0.59" ry="1.02" fill="#e858f4" fill-opacity="0.85"/>
<ellipse cx="560.8" cy="111.3" rx="0.88" ry="0.62" fill="#e858f4" fill-opacity="0.85"/>
<ellipse cx="563.7" cy="127.1" rx="0.91" ry="0.86" fill="#e858f4" fill-opacity="0.85"/>
<ellipse cx="529.8" cy="116.1" rx="0.59" ry="0.60" fill="#e858f4" fill-opacity="0.85"/>
<ellipse cx="540.2" cy="95.9" rx="0.63" ry="0.66" fill="#e858f4" fill-opacity="0.85"/>
<ellipse cx="559.2" cy="129.8" rx="0.65" ry="1.01" fill="#e858f4" fill-opacity="0.85"/>
<ellipse cx="526.5" cy="115.4" rx="0.85" ry="0.54" fill="#e858f4" fill-opacity="0.85"/>
<ellipse cx="531.2" cy="98.7" rx="0.70" ry="0.85" fill="#e858f4" fill-opacity="0.85"/>
<ellipse cx="565.4" cy="117.8" rx="0.66" ry="0.58" fill="#e858f4" fill-opacity="0.85"/>
<ellipse cx="566.3" cy="98.2" rx="0.81" ry="0.65" fill="#e858f4" fill-opacity="0.85"/>
<ellipse cx="531.9" cy="91.4" rx="0.87" ry="0.92" fill="#e858f4" fill-opacity="0.85"/>
<ellipse cx="544.3" cy="110.4" rx="0.74" ry="0.88" fill="#e858f4" fill-opacity="0.85"/>
<ellipse cx="555.2" cy="94.5" rx="0.62" ry="1.03" fill="#e858f4" fill-opacity="0.85"/>
<ellipse cx="564.4" cy="87.9" rx="0.72" ry="0.99" fill="#e858f4" fill-opacity="0.85"/>
<ellipse cx="529.4" cy="111.1" rx="0.53" ry="0.88" fill="#e858f4" fill-opacity="0.85"/>
<ellipse cx="548.2" cy="111.5" rx="0.57" ry="0.73" fill="#e858f4" fill-opacity="0.85"/>
<ellipse cx="548.9" cy="89.6" rx="0.60" ry="0.91" fill="#e858f4" fill-opacity="0.85"/>
<ellipse cx="530.0" cy="108.5" rx="0.90" ry="0.82" fill="#e858f4" fill-opacity="0.85"/>
<ellipse cx="548.6" cy="105.9" rx="0.53" ry="0.82" fill="#e858f4" fill-opacity="0.85"/>
<ellipse cx="561.5" cy="118.7" rx="0.70" ry="1.07" fill="#e858f4" fill-opacity="0.85"/>
<ellipse cx="558.8" cy="111.8" rx="0.52" ry="0.74" fill="#e858f4" fill-opacity="0.85"/>
<ellipse cx="528.8" cy="131.7" rx="0.97" ry="0.55" fill="#e858f4" fill-opacity="0.85"/>
<ellipse cx="567.1" cy="85.5" rx="0.70" ry="1.04" fill="#e858f4" fill-opacity="0.85"/>
<ellipse cx="559.7" cy="131.0" rx="0.82" ry="0.79" fill="#e858f4" fill-opacity="0.85"/>
<ellipse cx="569.7" cy="102.4" rx="0.93" ry="1.13" fill="#e858f4" fill-opacity="0.85"/>
<ellipse cx="542.5" cy="116.8" rx="0.83" ry="0.88" fill="#e858f4" fill-opacity="0.85"/>
<ellipse cx="554.8" cy="100.7" rx="0.59" ry="0.88" fill="#e858f4" fill-opacity="0.85"/>
<ellipse cx="549.3" cy="118.9" rx="0.61" ry="0.50" fill="#e858f4" fill-opacity="0.85"/>
<ellipse cx="527.0" cy="98.3" rx="0.84" ry="0.88" fill="#e858f4" fill-opacity="0.85"/>
<ellipse cx="549.4" cy="123.5" rx="0.62" ry="0.74" fill="#e858f4" fill-opacity="0.85"/>
<ellipse cx="538.1" cy="129.0" rx="0.86" ry="0.58" fill="#e858f4" fill-opacity="0.85"/>
<ellipse cx="561.6" cy="104.1" rx="0.88" ry="1.12" fill="#e858f4" fill-opacity="0.85"/>
<ellipse cx="526.7" cy="93.9" rx="0.55" ry="0.52" fill="#e858f4" fill-opacity="0.85"/>
<ellipse cx="552.3" cy="117.8" rx="0.52" ry="1.02" fill="#e858f4" fill-opacity="0.85"/>
<ellipse cx="543.7" cy="95.2" rx="0.61" ry="1.10" fill="#e858f4" fill-opacity="0.85"/>
<ellipse cx="528.5" cy="108.2" rx="0.64" ry="1.07" fill="#e858f4" fill-opacity="0.85"/>
<ellipse cx="558.2" cy="99.3" rx="0.80" ry="0.97" fill="#e858f4" fill-opacity="0.85"/>
<ellipse cx="540.1" cy="98.5" rx="0.57" ry="0.96" fill="#e858f4" fill-opacity="0.85"/>
<ellipse cx="535.7" cy="98.4" rx="0.53" ry="1.16" fill="#e858f4" fill-opacity="0.85"/>
<ellipse cx="564.7" cy="127.8" rx="0.81" ry="0.80" fill="#e858f4" fill-opacity="0.85"/>
<ellipse cx="547.8" cy="130.7" rx="0.97" ry="0.97" fill="#e858f4" fill-opacity="0.85"/>
<ellipse cx="560.6" cy="99.3" rx="0.71" ry="0.60" fill="#e858f4" fill-opacity="0.85"/>
<ellipse cx="542.6" cy="120.2" rx="0.74" ry="1.09" fill="#e858f4" fill-opacity="0.85"/>
<ellipse cx="539.2" cy="118.0" rx="0.90" ry="1.14" fill="#e858f4" fill-opacity="0.85"/>
<ellipse cx="550.7" cy="130.5" rx="0.78" ry="0.59" fill="#e858f4" fill-opacity="0.85"/>
<ellipse cx="536.7" cy="93.8" rx="0.82" ry="1.15" fill="#e858f4" fill-opacity="0.85"/>
<ellipse cx="563.3" cy="88.4" rx="0.86" ry="0.63" fill="#e858f4" fill-opacity="0.85"/>
<ellipse cx="537.8" cy="116.3" rx="0.80" ry="1.11" fill="#e858f4" fill-opacity="0.85"/>
<ellipse cx="534.3" cy="120.6" rx="0.86" ry="0.89" fill="#e858f4" fill-opacity="0.85"/>
<ellipse cx="547.1" cy="125.7" rx="0.67" ry="1.17" fill="#e858f4" fill-opacity="0.85"/>
<ellipse cx="526.7" cy="129.0" rx="0.98" ry="0.58" fill="#e858f4" fill-opacity="0.85"/>
<ellipse cx="570.0" cy="107.0" rx="0.62" ry="0.92" fill="#e858f4" fill-opacity="0.85"/>
<ellipse cx="535.0" cy="127.9" rx="0.78" ry="1.04" fill="#e858f4" fill-opacity="0.85"/>
<ellipse cx="542.7" cy="109.6" rx="0.68" ry="0.68" fill="#e858f4" fill-opacity="0.85"/>
<ellipse cx="548.6" cy="107.9" rx="0.55" ry="1.19" fill="#e858f4" fill-opacity="0.85"/>
<ellipse cx="546.7" cy="124.3" rx="0.96" ry="0.76" fill="#e858f4" fill-opacity="0.85"/>
<ellipse cx="517.1" cy="107.1" rx="0.59" ry="0.58" fill="#c848e0" fill-opacity="0.7"/>
<ellipse cx="513.7" cy="122.3" rx="0.73" ry="0.74" fill="#c848e0" fill-opacity="0.7"/>
<ellipse cx="511.4" cy="97.5" rx="0.65" ry="0.98" fill="#c848e0" fill-opacity="0.7"/>
<ellipse cx="519.0" cy="110.8" rx="0.77" ry="0.65" fill="#c848e0" fill-opacity="0.7"/>
<ellipse cx="526.1" cy="123.6" rx="0.76" ry="0.78" fill="#c848e0" fill-opacity="0.7"/>
<ellipse cx="511.7" cy="116.6" rx="0.57" ry="0.92" fill="#c848e0" fill-opacity="0.7"/>
<ellipse cx="518.7" cy="121.6" rx="0.72" ry="0.87" fill="#c848e0" fill-opacity="0.7"/>
<ellipse cx="509.3" cy="85.4" rx="0.84" ry="1.05" fill="#c848e0" fill-opacity="0.7"/>
<ellipse cx="522.7" cy="115.3" rx="0.66" ry="0.99" fill="#c848e0" fill-opacity="0.7"/>
<ellipse cx="513.1" cy="113.0" rx="0.50" ry="0.79" fill="#c848e0" fill-opacity="0.7"/>
<ellipse cx="516.2" cy="109.3" rx="0.77" ry="0.86" fill="#c848e0" fill-opacity="0.7"/>
<ellipse cx="518.6" cy="104.0" rx="0.50" ry="0.82" fill="#c848e0" fill-opacity="0.7"/>
<ellipse cx="508.3" cy="105.7" rx="0.61" ry="1.07" fill="#c848e0" fill-opacity="0.7"/>
<ellipse cx="508.4" cy="117.3" rx="0.77" ry="0.97" fill="#c848e0" fill-opacity="0.7"/>
<ellipse cx="528.0" cy="88.4" rx="0.54" ry="0.59" fill="#c848e0" fill-opacity="0.7"/>
<ellipse cx="512.2" cy="105.6" rx="0.83" ry="0.66" fill="#c848e0" fill-opacity="0.7"/>
<ellipse cx="516.7" cy="99.3" rx="0.66" ry="0.83" fill="#c848e0" fill-opacity="0.7"/>
<ellipse cx="529.8" cy="93.3" rx="0.77" ry="0.99" fill="#c848e0" fill-opacity="0.7"/>
<ellipse cx="522.4" cy="119.2" rx="0.80" ry="0.55" fill="#c848e0" fill-opacity="0.7"/>
<ellipse cx="516.3" cy="106.7" rx="0.52" ry="0.51" fill="#c848e0" fill-opacity="0.7"/>
<ellipse cx="511.8" cy="104.5" rx="0.67" ry="0.95" fill="#c848e0" fill-opacity="0.7"/>
<ellipse cx="520.4" cy="119.2" rx="0.54" ry="0.81" fill="#c848e0" fill-opacity="0.7"/>
<ellipse cx="508.9" cy="92.7" rx="0.85" ry="1.01" fill="#c848e0" fill-opacity="0.7"/>
<ellipse cx="518.5" cy="85.9" rx="0.53" ry="1.04" fill="#c848e0" fill-opacity="0.7"/>
<ellipse cx="527.8" cy="107.1" rx="0.51" ry="1.04" fill="#c848e0" fill-opacity="0.7"/>
<ellipse cx="514.9" cy="123.4" rx="0.73" ry="0.94" fill="#c848e0" fill-opacity="0.7"/>
<ellipse cx="523.7" cy="100.3" rx="0.53" ry="0.59" fill="#c848e0" fill-opacity="0.7"/>
<ellipse cx="513.3" cy="118.2" rx="0.66" ry="1.02" fill="#c848e0" fill-opacity="0.7"/>
<ellipse cx="515.3" cy="115.0" rx="0.56" ry="1.07" fill="#c848e0" fill-opacity="0.7"/>
<ellipse cx="523.9" cy="104.5" rx="0.89" ry="0.53" fill="#c848e0" fill-opacity="0.7"/>
<ellipse cx="517.6" cy="118.4" rx="0.64" ry="0.95" fill="#c848e0" fill-opacity="0.7"/>
<ellipse cx="529.0" cy="100.3" rx="0.81" ry="0.52" fill="#c848e0" fill-opacity="0.7"/>
<ellipse cx="514.0" cy="124.7" rx="0.70" ry="0.71" fill="#c848e0" fill-opacity="0.7"/>
<ellipse cx="528.7" cy="101.7" rx="0.77" ry="0.88" fill="#c848e0" fill-opacity="0.7"/>
<ellipse cx="509.9" cy="109.4" rx="0.82" ry="0.91" fill="#c848e0" fill-opacity="0.7"/>
<ellipse cx="509.8" cy="90.3" rx="0.78" ry="0.87" fill="#c848e0" fill-opacity="0.7"/>
<ellipse cx="524.3" cy="97.0" rx="0.54" ry="0.50" fill="#c848e0" fill-opacity="0.7"/>
<ellipse cx="514.8" cy="98.8" rx="0.61" ry="0.58" fill="#c848e0" fill-opacity="0.7"/>
<ellipse cx="512.1" cy="102.4" rx="0.72" ry="0.74" fill="#c848e0" fill-opacity="0.7"/>
<ellipse cx="508.6" cy="98.5" rx="0.54" ry="0.85" fill="#c848e0" fill-opacity="0.7"/>
</g>
<ellipse cx="578.6" cy="103.5" rx="0.95" ry="1.18" fill="#e050f0" fill-opacity="0.85"/>
<ellipse cx="595.5" cy="84.7" rx="0.53" ry="0.80" fill="#e050f0" fill-opacity="0.85"/>
<ellipse cx="604.8" cy="84.3" rx="0.54" ry="0.68" fill="#e050f0" fill-opacity="0.85"/>
<ellipse cx="591.2" cy="90.8" rx="0.80" ry="0.64" fill="#e050f0" fill-opacity="0.85"/>
<ellipse cx="648.0" cy="68.3" rx="0.66" ry="1.16" fill="#e050f0" fill-opacity="0.85"/>
<ellipse cx="594.7" cy="94.0" rx="0.75" ry="0.90" fill="#e050f0" fill-opacity="0.85"/>
<ellipse cx="627.3" cy="82.2" rx="0.65" ry="0.98" fill="#e050f0" fill-opacity="0.85"/>
<ellipse cx="603.9" cy="85.0" rx="0.82" ry="0.67" fill="#e050f0" fill-opacity="0.85"/>
<ellipse cx="603.3" cy="85.3" rx="0.96" ry="0.98" fill="#e050f0" fill-opacity="0.85"/>
<ellipse cx="578.6" cy="97.4" rx="0.83" ry="0.75" fill="#e050f0" fill-opacity="0.85"/>
<ellipse cx="611.8" cy="85.9" rx="0.79" ry="0.90" fill="#e050f0" fill-opacity="0.85"/>
<ellipse cx="606.8" cy="80.0" rx="0.89" ry="0.91" fill="#e050f0" fill-opacity="0.85"/>
<ellipse cx="611.0" cy="77.9" rx="0.51" ry="0.57" fill="#e050f0" fill-opacity="0.85"/>
<ellipse cx="609.7" cy="83.9" rx="0.72" ry="0.99" fill="#e050f0" fill-opacity="0.85"/>
<ellipse cx="635.2" cy="67.3" rx="0.92" ry="0.95" fill="#e050f0" fill-opacity="0.85"/>
<ellipse cx="624.8" cy="69.6" rx="0.99" ry="0.67" fill="#e050f0" fill-opacity="0.85"/>
<ellipse cx="586.4" cy="91.5" rx="0.72" ry="0.52" fill="#e050f0" fill-opacity="0.85"/>
<ellipse cx="619.9" cy="71.1" rx="0.80" ry="0.77" fill="#e050f0" fill-opacity="0.85"/>
<ellipse cx="627.0" cy="71.5" rx="0.88" ry="1.07" fill="#e050f0" fill-opacity="0.85"/>
<ellipse cx="640.0" cy="70.6" rx="0.66" ry="0.82" fill="#e050f0" fill-opacity="0.85"/>
<ellipse cx="617.8" cy="78.0" rx="0.92" ry="0.93" fill="#e050f0" fill-opacity="0.85"/>
<ellipse cx="595.2" cy="90.3" rx="0.54" ry="0.59" fill="#e050f0" fill-opacity="0.85"/>
<ellipse cx="586.3" cy="93.9" rx="0.76" ry="0.79" fill="#e050f0" fill-opacity="0.85"/>
<ellipse cx="586.5" cy="91.2" rx="0.85" ry="0.95" fill="#e050f0" fill-opacity="0.85"/>
<ellipse cx="596.5" cy="82.7" rx="0.53" ry="0.75" fill="#e050f0" fill-opacity="0.85"/>
<ellipse cx="611.4" cy="84.8" rx="0.84" ry="0.79" fill="#e050f0" fill-opacity="0.85"/>
<ellipse cx="631.4" cy="75.4" rx="0.64" ry="0.88" fill="#e050f0" fill-opacity="0.85"/>
<ellipse cx="580.9" cy="97.7" rx="0.91" ry="0.76" fill="#e050f0" fill-opacity="0.85"/>
<ellipse cx="607.1" cy="78.0" rx="0.91" ry="0.81" fill="#e050f0" fill-opacity="0.85"/>
<ellipse cx="590.5" cy="99.3" rx="0.79" ry="0.75" fill="#e050f0" fill-opacity="0.85"/>
<ellipse cx="593.9" cy="86.8" rx="0.66" ry="0.99" fill="#e050f0" fill-opacity="0.85"/>
<ellipse cx="639.6" cy="67.8" rx="0.93" ry="0.67" fill="#e050f0" fill-opacity="0.85"/>
<ellipse cx="610.2" cy="88.6" rx="0.63" ry="0.79" fill="#e050f0" fill-opacity="0.85"/>
<ellipse cx="607.3" cy="91.1" rx="0.94" ry="0.57" fill="#e050f0" fill-opacity="0.85"/>
<ellipse cx="612.2" cy="74.8" rx="0.97" ry="0.76" fill="#e050f0" fill-opacity="0.85"/>
<ellipse cx="598.3" cy="88.6" rx="0.78" ry="0.84" fill="#e050f0" fill-opacity="0.85"/>
<ellipse cx="598.8" cy="93.4" rx="0.52" ry="0.57" fill="#e050f0" fill-opacity="0.85"/>
<ellipse cx="581.7" cy="101.5" rx="0.72" ry="0.50" fill="#e050f0" fill-opacity="0.85"/>
<ellipse cx="646.7" cy="71.3" rx="0.84" ry="0.59" fill="#e050f0" fill-opacity="0.85"/>
<ellipse cx="623.1" cy="73.5" rx="0.69" ry="1.13" fill="#e050f0" fill-opacity="0.85"/>
<ellipse cx="595.8" cy="94.2" rx="0.62" ry="0.96" fill="#e050f0" fill-opacity="0.85"/>
<ellipse cx="589.6" cy="93.3" rx="0.50" ry="0.99" fill="#e050f0" fill-opacity="0.85"/>
<ellipse cx="582.7" cy="97.6" rx="0.88" ry="0.59" fill="#e050f0" fill-opacity="0.85"/>
<ellipse cx="622.7" cy="82.2" rx="0.86" ry="0.94" fill="#e050f0" fill-opacity="0.85"/>
<ellipse cx="623.4" cy="75.9" rx="0.76" ry="0.86" fill="#e050f0" fill-opacity="0.85"/>
<ellipse cx="630.3" cy="75.6" rx="0.53" ry="1.13" fill="#e050f0" fill-opacity="0.85"/>
<ellipse cx="618.3" cy="86.3" rx="0.99" ry="1.19" fill="#e050f0" fill-opacity="0.85"/>
<ellipse cx="644.8" cy="68.1" rx="0.93" ry="0.90" fill="#e050f0" fill-opacity="0.85"/>
<ellipse cx="600.5" cy="93.4" rx="0.88" ry="1.17" fill="#e050f0" fill-opacity="0.85"/>
<ellipse cx="621.0" cy="85.0" rx="0.71" ry="0.99" fill="#e050f0" fill-opacity="0.85"/>
<path d="M573,94 C571,110 569,122 567,140" fill="none" stroke="#05051a" stroke-width="5" filter="url(#bl2)"/>
<path d="M572.00,141.00 C570.50,138.00 574.33,131.00 577.00,126.00 C579.67,121.00 583.83,115.83 588.00,111.00 C592.17,106.17 597.00,101.33 602.00,97.00 C607.00,92.67 612.33,88.33 618.00,85.00 C623.67,81.67 630.67,78.67 636.00,77.00 C641.33,75.33 646.67,73.83 650.00,75.00 C653.33,76.17 656.00,80.00 656.00,84.00 C656.00,88.00 653.00,94.00 650.00,99.00 C647.00,104.00 642.67,109.33 638.00,114.00 C633.33,118.67 627.83,123.17 622.00,127.00 C616.17,130.83 609.00,134.17 603.00,137.00 C597.00,139.83 591.17,143.33 586.00,144.00 C580.83,144.67 573.50,144.00 572.00,141.00 Z" fill="url(#snb2)" filter="url(#bl3)"/>
<g mask="url(#cb2g)">
<rect x="560.00" y="70.00" width="100.00" height="80.00" fill="#000" filter="url(#spBlue2)" fill-opacity="0.4"/>
</g>
<ellipse cx="627" cy="96" rx="25" ry="12" transform="rotate(-36 627 96)" fill="#52ea52" fill-opacity="0.85" filter="url(#bl6)"/>
<text x="545.20" y="54.00" font-size="11.1" fill="#ffffff" text-anchor="start" >Fiber tract</text>
<path d="M603.6,37 L603.6,67.8 L616.6,67.8 L616.6,37" fill="none" stroke="#ffffff" stroke-width="1.0" stroke-dasharray="2 1.6"/>
<text x="615.20" y="133.60" font-size="12.1" fill="#ffffff" text-anchor="start" >SN</text>
<line x1="671.40" y1="148.80" x2="680.40" y2="148.80" stroke="#ffffff" stroke-width="2.0" />
</g>
<text x="402.00" y="396.50" font-size="12.8" fill="#111" text-anchor="start" >CreOff-ChR2</text>
<line x1="372.00" y1="400.50" x2="500.30" y2="400.50" stroke="#8a8a8a" stroke-width="1.1" />
<text x="386.30" y="414.20" font-size="11.3" fill="#000" text-anchor="start" ><tspan fill="#4cb050">ChR2-eYFP</tspan><tspan fill="#111">/</tspan><tspan fill="#a43aa6">MOR1</tspan></text>
<text x="584.30" y="396.00" font-size="12.8" fill="#111" text-anchor="start" >CreOff-ChR2</text>
<line x1="555.00" y1="400.60" x2="683.00" y2="400.60" stroke="#8a8a8a" stroke-width="1.1" />
<text x="579.50" y="414.60" font-size="11.3" fill="#000" text-anchor="start" ><tspan fill="#4cb050">ChR2-eYFP</tspan><tspan fill="#111">/</tspan><tspan fill="#a43aa6">TH</tspan></text>
<g clip-path="url(#cg1)">
<rect x="350.20" y="416.70" width="118.40" height="117.50" fill="#702684" />
<rect x="350.20" y="416.70" width="118.40" height="117.50" fill="#000" filter="url(#spMagF)" fill-opacity="0.55"/>
<path d="M348,414 L400,414 C392,420 380,428 368,434 L348,440 Z" fill="#1a0a1e" filter="url(#bl5)"/>
<path d="M352,434 C372,425 395,424 420,431 C440,440 452,452 457,465 C460,485 460,510 459,540" fill="none" stroke="#120612" stroke-width="5" filter="url(#bl3)"/>
<path d="M350,440 L357,438 L356,534 L350,534 Z" fill="#050205"/>
<path d="M354.60,441.00 C356.58,432.70 362.63,437.66 369.20,437.30 C375.77,436.94 389.64,437.31 398.40,438.60 C407.16,439.89 420.16,442.18 427.60,445.90 C435.04,449.62 443.62,457.26 448.00,463.40 C452.38,469.53 455.70,480.23 456.80,486.80 C457.90,493.37 456.11,501.08 455.30,507.20 C454.49,513.32 452.12,523.28 451.40,527.60 C450.68,531.92 464.12,534.74 450.50,536.00 C436.88,537.26 374.33,539.00 360.60,536.00 C346.88,533.00 359.69,522.51 359.00,516.00 C358.31,509.49 356.66,503.85 356.00,492.60 C355.34,481.35 352.62,449.30 354.60,441.00 Z" fill="#4a1454" stroke="none" stroke-width="1" />
<g clip-path="url(#cg1s)">
<rect x="352.00" y="436.00" width="110.00" height="100.00" fill="#000" filter="url(#spMagF)" fill-opacity="0.45"/>
<path d="M352,438 L436,442 C446,455 446,470 440,485 C436,495 430,500 424,496 C414,488 404,478 392,470 C380,466 368,466 362,470 L360,505 L354,505 Z" fill="#3cc845" filter="url(#bl8)"/>
<path d="M356,440 C385,438 412,441 430,450 C436,460 430,468 412,468 C392,466 372,462 360,460 Z" fill="#5ef05e" filter="url(#bl4)"/>
<rect x="356.00" y="440.00" width="4.00" height="66.00" fill="#5ef05e" filter="url(#bl2)"/>
<ellipse cx="362.5" cy="489.6" rx="1.05" ry="0.83" fill="#0a060a" fill-opacity="0.85"/>
<ellipse cx="385.9" cy="487.1" rx="0.68" ry="1.45" fill="#0a060a" fill-opacity="0.85"/>
<ellipse cx="409.2" cy="475.3" rx="1.07" ry="1.48" fill="#0a060a" fill-opacity="0.85"/>
<ellipse cx="426.0" cy="508.5" rx="1.26" ry="0.57" fill="#0a060a" fill-opacity="0.85"/>
<ellipse cx="362.9" cy="479.6" rx="0.91" ry="1.22" fill="#0a060a" fill-opacity="0.85"/>
<ellipse cx="385.9" cy="509.7" rx="1.17" ry="0.64" fill="#0a060a" fill-opacity="0.85"/>
<ellipse cx="426.9" cy="505.7" rx="0.65" ry="1.62" fill="#0a060a" fill-opacity="0.85"/>
<ellipse cx="407.9" cy="513.7" rx="1.15" ry="0.70" fill="#0a060a" fill-opacity="0.85"/>
<ellipse cx="367.1" cy="513.6" rx="0.74" ry="1.55" fill="#0a060a" fill-opacity="0.85"/>
<ellipse cx="437.1" cy="463.7" rx="0.56" ry="1.34" fill="#0a060a" fill-opacity="0.85"/>
<ellipse cx="413.4" cy="444.6" rx="0.91" ry="0.92" fill="#0a060a" fill-opacity="0.85"/>
<ellipse cx="405.5" cy="492.6" rx="0.83" ry="0.80" fill="#0a060a" fill-opacity="0.85"/>
<ellipse cx="364.6" cy="493.2" rx="1.15" ry="0.77" fill="#0a060a" fill-opacity="0.85"/>
<ellipse cx="406.4" cy="441.3" rx="1.28" ry="0.79" fill="#0a060a" fill-opacity="0.85"/>
<ellipse cx="402.6" cy="474.5" rx="0.64" ry="1.60" fill="#0a060a" fill-opacity="0.85"/>
<ellipse cx="442.3" cy="491.2" rx="1.32" ry="1.37" fill="#0a060a" fill-opacity="0.85"/>
<ellipse cx="397.2" cy="468.5" rx="0.87" ry="1.35" fill="#0a060a" fill-opacity="0.85"/>
<ellipse cx="381.9" cy="444.6" rx="0.84" ry="1.09" fill="#0a060a" fill-opacity="0.85"/>
<ellipse cx="436.8" cy="533.2" rx="1.36" ry="0.58" fill="#0a060a" fill-opacity="0.85"/>
<ellipse cx="401.9" cy="464.7" rx="1.26" ry="0.89" fill="#0a060a" fill-opacity="0.85"/>
<ellipse cx="374.7" cy="492.3" rx="0.77" ry="1.23" fill="#0a060a" fill-opacity="0.85"/>
<ellipse cx="401.8" cy="495.0" rx="0.94" ry="1.41" fill="#0a060a" fill-opacity="0.85"/>
<ellipse cx="374.1" cy="525.2" rx="1.18" ry="0.79" fill="#0a060a" fill-opacity="0.85"/>
<ellipse cx="378.0" cy="470.9" rx="1.26" ry="1.54" fill="#0a060a" fill-opacity="0.85"/>
<ellipse cx="421.7" cy="520.2" rx="1.15" ry="0.62" fill="#0a060a" fill-opacity="0.85"/>
<ellipse cx="408.6" cy="460.3" rx="0.94" ry="0.57" fill="#0a060a" fill-opacity="0.85"/>
<ellipse cx="363.6" cy="527.3" rx="1.31" ry="1.11" fill="#0a060a" fill-opacity="0.85"/>
<ellipse cx="426.2" cy="473.5" rx="1.38" ry="0.60" fill="#0a060a" fill-opacity="0.85"/>
<ellipse cx="363.8" cy="450.1" rx="1.24" ry="0.59" fill="#0a060a" fill-opacity="0.85"/>
<ellipse cx="412.5" cy="479.6" rx="1.37" ry="0.78" fill="#0a060a" fill-opacity="0.85"/>
<ellipse cx="380.9" cy="467.9" rx="1.22" ry="1.33" fill="#0a060a" fill-opacity="0.85"/>
<ellipse cx="429.7" cy="468.2" rx="0.74" ry="0.59" fill="#0a060a" fill-opacity="0.85"/>
<ellipse cx="374.9" cy="513.4" rx="1.03" ry="0.68" fill="#0a060a" fill-opacity="0.85"/>
<ellipse cx="370.9" cy="482.7" rx="0.87" ry="1.13" fill="#0a060a" fill-opacity="0.85"/>
<ellipse cx="385.8" cy="463.0" rx="0.61" ry="0.69" fill="#0a060a" fill-opacity="0.85"/>
<ellipse cx="424.7" cy="518.0" rx="1.13" ry="0.55" fill="#0a060a" fill-opacity="0.85"/>
<ellipse cx="440.1" cy="469.1" rx="0.58" ry="0.79" fill="#0a060a" fill-opacity="0.85"/>
<ellipse cx="390.6" cy="487.3" rx="1.11" ry="0.81" fill="#0a060a" fill-opacity="0.85"/>
<ellipse cx="395.7" cy="481.3" rx="1.17" ry="0.79" fill="#0a060a" fill-opacity="0.85"/>
<ellipse cx="401.6" cy="515.8" rx="0.63" ry="0.51" fill="#0a060a" fill-opacity="0.85"/>
<ellipse cx="439.5" cy="533.3" rx="0.62" ry="1.47" fill="#0a060a" fill-opacity="0.85"/>
<ellipse cx="392.3" cy="498.8" rx="1.08" ry="1.19" fill="#0a060a" fill-opacity="0.85"/>
<ellipse cx="380.7" cy="516.6" rx="0.52" ry="0.58" fill="#0a060a" fill-opacity="0.85"/>
<ellipse cx="447.0" cy="480.5" rx="0.62" ry="1.57" fill="#0a060a" fill-opacity="0.85"/>
<ellipse cx="439.4" cy="469.5" rx="0.54" ry="1.04" fill="#0a060a" fill-opacity="0.85"/>
<ellipse cx="371.3" cy="493.2" rx="1.24" ry="0.97" fill="#0a060a" fill-opacity="0.85"/>
<ellipse cx="371.8" cy="458.0" rx="0.67" ry="0.83" fill="#0a060a" fill-opacity="0.85"/>
<ellipse cx="417.8" cy="461.1" rx="0.77" ry="0.99" fill="#0a060a" fill-opacity="0.85"/>
<ellipse cx="410.7" cy="443.0" rx="0.75" ry="0.66" fill="#0a060a" fill-opacity="0.85"/>
<ellipse cx="374.5" cy="523.7" rx="0.97" ry="1.24" fill="#0a060a" fill-opacity="0.85"/>
<ellipse cx="436.6" cy="514.9" rx="1.39" ry="1.42" fill="#0a060a" fill-opacity="0.85"/>
<ellipse cx="391.0" cy="490.4" rx="0.94" ry="1.58" fill="#0a060a" fill-opacity="0.85"/>
<ellipse cx="405.7" cy="475.1" rx="0.66" ry="0.88" fill="#0a060a" fill-opacity="0.85"/>
<ellipse cx="376.6" cy="524.8" rx="1.20" ry="0.57" fill="#0a060a" fill-opacity="0.85"/>
<ellipse cx="456.1" cy="488.9" rx="1.19" ry="1.68" fill="#0a060a" fill-opacity="0.85"/>
<ellipse cx="421.7" cy="463.1" rx="1.23" ry="1.58" fill="#0a060a" fill-opacity="0.85"/>
<ellipse cx="376.6" cy="520.0" rx="1.22" ry="0.92" fill="#0a060a" fill-opacity="0.85"/>
<ellipse cx="440.4" cy="519.8" rx="0.66" ry="1.20" fill="#0a060a" fill-opacity="0.85"/>
<ellipse cx="437.0" cy="505.4" rx="1.32" ry="0.53" fill="#0a060a" fill-opacity="0.85"/>
<ellipse cx="426.2" cy="529.9" rx="1.01" ry="1.16" fill="#0a060a" fill-opacity="0.85"/>
<ellipse cx="373.4" cy="533.8" rx="1.29" ry="1.08" fill="#0a060a" fill-opacity="0.85"/>
<ellipse cx="385.8" cy="485.1" rx="0.58" ry="0.77" fill="#0a060a" fill-opacity="0.85"/>
<ellipse cx="376.5" cy="488.6" rx="0.50" ry="1.58" fill="#0a060a" fill-opacity="0.85"/>
<ellipse cx="374.8" cy="449.8" rx="1.15" ry="1.58" fill="#0a060a" fill-opacity="0.85"/>
<ellipse cx="441.0" cy="468.7" rx="0.52" ry="1.19" fill="#0a060a" fill-opacity="0.85"/>
<ellipse cx="448.5" cy="512.9" rx="1.26" ry="1.52" fill="#0a060a" fill-opacity="0.85"/>
<ellipse cx="451.0" cy="475.8" rx="0.59" ry="0.86" fill="#0a060a" fill-opacity="0.85"/>
<ellipse cx="368.1" cy="452.4" rx="1.35" ry="1.43" fill="#0a060a" fill-opacity="0.85"/>
<ellipse cx="452.9" cy="500.6" rx="0.66" ry="1.64" fill="#0a060a" fill-opacity="0.85"/>
<ellipse cx="425.4" cy="528.0" rx="1.21" ry="0.76" fill="#0a060a" fill-opacity="0.85"/>
<ellipse cx="414.7" cy="454.2" rx="0.78" ry="1.31" fill="#0a060a" fill-opacity="0.85"/>
<ellipse cx="367.1" cy="508.4" rx="1.35" ry="1.62" fill="#0a060a" fill-opacity="0.85"/>
<ellipse cx="394.3" cy="534.4" rx="1.37" ry="0.54" fill="#0a060a" fill-opacity="0.85"/>
<ellipse cx="416.0" cy="527.3" rx="1.37" ry="0.76" fill="#0a060a" fill-opacity="0.85"/>
<ellipse cx="412.3" cy="528.8" rx="0.63" ry="1.38" fill="#0a060a" fill-opacity="0.85"/>
<ellipse cx="378.5" cy="533.3" rx="0.65" ry="1.54" fill="#0a060a" fill-opacity="0.85"/>
<ellipse cx="363.1" cy="506.5" rx="1.08" ry="1.55" fill="#0a060a" fill-opacity="0.85"/>
<ellipse cx="400.0" cy="463.0" rx="0.72" ry="0.58" fill="#0a060a" fill-opacity="0.85"/>
<ellipse cx="380.4" cy="447.6" rx="0.50" ry="0.96" fill="#0a060a" fill-opacity="0.85"/>
<ellipse cx="429.5" cy="532.0" rx="1.30" ry="1.08" fill="#0a060a" fill-opacity="0.85"/>
<ellipse cx="393.0" cy="490.5" rx="0.59" ry="1.07" fill="#0a060a" fill-opacity="0.85"/>
<ellipse cx="443.0" cy="500.8" rx="1.12" ry="0.69" fill="#0a060a" fill-opacity="0.85"/>
<ellipse cx="361.6" cy="519.9" rx="0.77" ry="0.88" fill="#0a060a" fill-opacity="0.85"/>
<ellipse cx="371.5" cy="473.8" rx="1.16" ry="1.15" fill="#0a060a" fill-opacity="0.85"/>
<ellipse cx="415.2" cy="497.1" rx="0.93" ry="0.54" fill="#0a060a" fill-opacity="0.85"/>
<ellipse cx="364.4" cy="457.1" rx="0.67" ry="1.32" fill="#0a060a" fill-opacity="0.85"/>
<ellipse cx="428.4" cy="508.5" rx="0.74" ry="0.83" fill="#0a060a" fill-opacity="0.85"/>
<ellipse cx="378.5" cy="441.9" rx="1.01" ry="1.49" fill="#0a060a" fill-opacity="0.85"/>
<ellipse cx="369.8" cy="472.4" rx="0.88" ry="0.85" fill="#0a060a" fill-opacity="0.85"/>
<ellipse cx="422.2" cy="495.8" rx="0.68" ry="0.53" fill="#0a060a" fill-opacity="0.85"/>
<ellipse cx="371.6" cy="465.6" rx="0.57" ry="1.50" fill="#0a060a" fill-opacity="0.85"/>
<ellipse cx="385.8" cy="476.0" rx="0.94" ry="1.28" fill="#0a060a" fill-opacity="0.85"/>
<ellipse cx="363.4" cy="490.3" rx="0.67" ry="1.54" fill="#0a060a" fill-opacity="0.85"/>
<ellipse cx="392.0" cy="480.7" rx="0.74" ry="1.05" fill="#0a060a" fill-opacity="0.85"/>
<ellipse cx="377.3" cy="463.3" rx="0.56" ry="1.39" fill="#0a060a" fill-opacity="0.85"/>
<ellipse cx="422.7" cy="445.4" rx="0.81" ry="1.14" fill="#0a060a" fill-opacity="0.85"/>
<ellipse cx="454.0" cy="494.8" rx="1.00" ry="1.49" fill="#0a060a" fill-opacity="0.85"/>
<ellipse cx="438.3" cy="478.0" rx="0.98" ry="1.52" fill="#0a060a" fill-opacity="0.85"/>
<ellipse cx="402.9" cy="523.4" rx="0.93" ry="0.59" fill="#0a060a" fill-opacity="0.85"/>
<ellipse cx="447.0" cy="507.0" rx="0.95" ry="1.56" fill="#0a060a" fill-opacity="0.85"/>
<ellipse cx="436.4" cy="503.4" rx="1.06" ry="0.64" fill="#0a060a" fill-opacity="0.85"/>
<ellipse cx="432.0" cy="453.9" rx="1.39" ry="1.65" fill="#0a060a" fill-opacity="0.85"/>
<ellipse cx="397.6" cy="533.9" rx="0.89" ry="1.68" fill="#0a060a" fill-opacity="0.85"/>
<ellipse cx="418.6" cy="518.7" rx="0.73" ry="1.57" fill="#0a060a" fill-opacity="0.85"/>
<ellipse cx="394.0" cy="475.9" rx="0.79" ry="0.83" fill="#0a060a" fill-opacity="0.85"/>
<ellipse cx="401.2" cy="522.6" rx="1.21" ry="1.24" fill="#0a060a" fill-opacity="0.85"/>
<ellipse cx="407.8" cy="478.1" rx="0.87" ry="0.67" fill="#0a060a" fill-opacity="0.85"/>
<ellipse cx="414.6" cy="511.3" rx="1.35" ry="1.59" fill="#0a060a" fill-opacity="0.85"/>
<ellipse cx="412.0" cy="446.9" rx="0.76" ry="1.13" fill="#0a060a" fill-opacity="0.85"/>
<ellipse cx="389.4" cy="477.3" rx="0.84" ry="1.07" fill="#0a060a" fill-opacity="0.85"/>
<ellipse cx="382.4" cy="451.1" rx="1.05" ry="1.32" fill="#0a060a" fill-opacity="0.85"/>
<ellipse cx="388.1" cy="460.3" rx="1.17" ry="1.59" fill="#0a060a" fill-opacity="0.85"/>
<ellipse cx="438.2" cy="466.7" rx="0.75" ry="1.08" fill="#0a060a" fill-opacity="0.85"/>
<ellipse cx="425.7" cy="446.6" rx="1.28" ry="0.66" fill="#0a060a" fill-opacity="0.85"/>
<ellipse cx="454.3" cy="480.4" rx="1.24" ry="0.82" fill="#0a060a" fill-opacity="0.85"/>
<ellipse cx="396.9" cy="500.3" rx="0.67" ry="0.75" fill="#0a060a" fill-opacity="0.85"/>
<ellipse cx="438.9" cy="509.6" rx="1.18" ry="1.52" fill="#0a060a" fill-opacity="0.85"/>
<ellipse cx="438.6" cy="487.5" rx="0.64" ry="0.87" fill="#0a060a" fill-opacity="0.85"/>
<ellipse cx="406.2" cy="450.3" rx="1.27" ry="1.54" fill="#0a060a" fill-opacity="0.85"/>
<ellipse cx="357.0" cy="455.9" rx="1.25" ry="1.49" fill="#0a060a" fill-opacity="0.85"/>
<ellipse cx="379.7" cy="481.7" rx="1.33" ry="1.33" fill="#0a060a" fill-opacity="0.85"/>
<ellipse cx="382.2" cy="517.7" rx="0.95" ry="1.25" fill="#0a060a" fill-opacity="0.85"/>
<ellipse cx="366.8" cy="440.0" rx="0.84" ry="1.20" fill="#0a060a" fill-opacity="0.85"/>
<ellipse cx="372.3" cy="522.3" rx="1.03" ry="0.91" fill="#0a060a" fill-opacity="0.85"/>
<ellipse cx="370.8" cy="524.7" rx="1.17" ry="1.31" fill="#0a060a" fill-opacity="0.85"/>
<ellipse cx="383.4" cy="474.9" rx="0.65" ry="1.18" fill="#0a060a" fill-opacity="0.85"/>
<ellipse cx="420.7" cy="503.4" rx="0.74" ry="0.98" fill="#0a060a" fill-opacity="0.85"/>
<ellipse cx="447.9" cy="500.4" rx="1.04" ry="0.51" fill="#0a060a" fill-opacity="0.85"/>
<ellipse cx="380.0" cy="515.9" rx="0.77" ry="1.64" fill="#0a060a" fill-opacity="0.85"/>
<ellipse cx="420.2" cy="478.5" rx="0.84" ry="0.91" fill="#0a060a" fill-opacity="0.85"/>
<ellipse cx="380.0" cy="482.7" rx="1.11" ry="1.47" fill="#0a060a" fill-opacity="0.85"/>
<ellipse cx="394.9" cy="447.0" rx="0.96" ry="1.28" fill="#0a060a" fill-opacity="0.85"/>
<ellipse cx="440.9" cy="473.7" rx="1.08" ry="1.22" fill="#0a060a" fill-opacity="0.85"/>
<ellipse cx="384.7" cy="447.6" rx="0.56" ry="1.67" fill="#0a060a" fill-opacity="0.85"/>
<ellipse cx="420.0" cy="521.4" rx="0.74" ry="1.34" fill="#0a060a" fill-opacity="0.85"/>
<ellipse cx="445.9" cy="466.3" rx="0.63" ry="1.40" fill="#0a060a" fill-opacity="0.85"/>
<ellipse cx="446.7" cy="515.9" rx="1.22" ry="1.21" fill="#0a060a" fill-opacity="0.85"/>
<ellipse cx="422.0" cy="503.7" rx="1.15" ry="1.27" fill="#0a060a" fill-opacity="0.85"/>
<ellipse cx="397.1" cy="475.1" rx="0.53" ry="1.34" fill="#0a060a" fill-opacity="0.85"/>
<ellipse cx="412.9" cy="455.6" rx="1.15" ry="0.76" fill="#0a060a" fill-opacity="0.85"/>
<ellipse cx="409.1" cy="513.9" rx="1.32" ry="1.29" fill="#0a060a" fill-opacity="0.85"/>
<ellipse cx="406.3" cy="519.9" rx="1.26" ry="1.53" fill="#0a060a" fill-opacity="0.85"/>
<ellipse cx="372.7" cy="446.6" rx="0.62" ry="0.81" fill="#0a060a" fill-opacity="0.85"/>
<ellipse cx="437.3" cy="511.8" rx="0.66" ry="1.30" fill="#0a060a" fill-opacity="0.85"/>
<ellipse cx="388.6" cy="445.8" rx="0.82" ry="1.38" fill="#0a060a" fill-opacity="0.85"/>
<ellipse cx="385.6" cy="514.2" rx="0.80" ry="0.81" fill="#0a060a" fill-opacity="0.85"/>
<ellipse cx="384.3" cy="520.4" rx="0.92" ry="1.52" fill="#0a060a" fill-opacity="0.85"/>
<ellipse cx="414.1" cy="529.5" rx="0.56" ry="1.55" fill="#0a060a" fill-opacity="0.85"/>
<ellipse cx="405.5" cy="522.0" rx="0.84" ry="0.85" fill="#0a060a" fill-opacity="0.85"/>
<ellipse cx="359.6" cy="520.7" rx="0.62" ry="0.74" fill="#0a060a" fill-opacity="0.85"/>
<ellipse cx="396.1" cy="492.8" rx="1.32" ry="1.04" fill="#0a060a" fill-opacity="0.85"/>
<ellipse cx="386.6" cy="507.1" rx="1.20" ry="1.08" fill="#0a060a" fill-opacity="0.85"/>
<ellipse cx="419.0" cy="454.3" rx="1.07" ry="0.51" fill="#0a060a" fill-opacity="0.85"/>
<ellipse cx="382.2" cy="511.6" rx="0.65" ry="1.40" fill="#0a060a" fill-opacity="0.85"/>
<ellipse cx="404.4" cy="511.8" rx="0.58" ry="1.23" fill="#0a060a" fill-opacity="0.85"/>
<ellipse cx="419.2" cy="476.5" rx="1.37" ry="0.95" fill="#0a060a" fill-opacity="0.85"/>
<ellipse cx="357.9" cy="456.5" rx="0.84" ry="0.52" fill="#0a060a" fill-opacity="0.85"/>
<ellipse cx="387.2" cy="518.7" rx="0.67" ry="1.30" fill="#0a060a" fill-opacity="0.85"/>
<ellipse cx="418.5" cy="461.4" rx="1.12" ry="0.91" fill="#0a060a" fill-opacity="0.85"/>
<ellipse cx="367.3" cy="474.6" rx="1.03" ry="0.70" fill="#0a060a" fill-opacity="0.85"/>
<ellipse cx="438.9" cy="466.2" rx="0.76" ry="1.36" fill="#0a060a" fill-opacity="0.85"/>
<ellipse cx="415.4" cy="470.1" rx="1.30" ry="1.67" fill="#0a060a" fill-opacity="0.85"/>
<ellipse cx="389.3" cy="525.3" rx="0.82" ry="0.72" fill="#0a060a" fill-opacity="0.85"/>
<ellipse cx="395.5" cy="459.4" rx="1.15" ry="0.65" fill="#0a060a" fill-opacity="0.85"/>
<ellipse cx="429.6" cy="494.8" rx="0.65" ry="0.93" fill="#0a060a" fill-opacity="0.85"/>
<ellipse cx="444.3" cy="462.1" rx="0.98" ry="0.56" fill="#0a060a" fill-opacity="0.85"/>
<ellipse cx="425.0" cy="477.8" rx="0.84" ry="1.15" fill="#0a060a" fill-opacity="0.85"/>
<ellipse cx="402.9" cy="452.0" rx="1.13" ry="1.24" fill="#0a060a" fill-opacity="0.85"/>
<ellipse cx="385.0" cy="501.8" rx="1.10" ry="0.82" fill="#0a060a" fill-opacity="0.85"/>
<ellipse cx="416.4" cy="450.4" rx="1.25" ry="0.62" fill="#0a060a" fill-opacity="0.85"/>
<ellipse cx="428.0" cy="448.5" rx="0.60" ry="0.63" fill="#0a060a" fill-opacity="0.85"/>
<ellipse cx="374.5" cy="456.6" rx="0.74" ry="1.12" fill="#0a060a" fill-opacity="0.85"/>
<ellipse cx="374.8" cy="505.9" rx="0.77" ry="0.55" fill="#0a060a" fill-opacity="0.85"/>
<ellipse cx="405.1" cy="457.4" rx="1.34" ry="0.89" fill="#0a060a" fill-opacity="0.85"/>
<ellipse cx="447.4" cy="518.9" rx="1.10" ry="0.68" fill="#0a060a" fill-opacity="0.85"/>
<ellipse cx="363.3" cy="487.1" rx="1.15" ry="0.62" fill="#0a060a" fill-opacity="0.85"/>
<ellipse cx="380.4" cy="459.7" rx="1.39" ry="0.85" fill="#0a060a" fill-opacity="0.85"/>
<ellipse cx="401.8" cy="446.8" rx="0.66" ry="0.55" fill="#0a060a" fill-opacity="0.85"/>
<ellipse cx="383.9" cy="515.6" rx="0.78" ry="1.37" fill="#0a060a" fill-opacity="0.85"/>
<ellipse cx="363.8" cy="511.3" rx="0.54" ry="1.51" fill="#0a060a" fill-opacity="0.85"/>
<ellipse cx="422.3" cy="453.7" rx="0.82" ry="1.02" fill="#0a060a" fill-opacity="0.85"/>
<ellipse cx="418.0" cy="523.1" rx="0.58" ry="1.46" fill="#0a060a" fill-opacity="0.85"/>
<ellipse cx="372.8" cy="476.3" rx="1.37" ry="0.82" fill="#0a060a" fill-opacity="0.85"/>
<ellipse cx="393.7" cy="520.4" rx="1.22" ry="1.27" fill="#0a060a" fill-opacity="0.85"/>
<ellipse cx="396.9" cy="494.9" rx="1.22" ry="1.30" fill="#0a060a" fill-opacity="0.85"/>
<ellipse cx="372.7" cy="474.2" rx="0.82" ry="0.53" fill="#0a060a" fill-opacity="0.85"/>
<ellipse cx="424.5" cy="519.2" rx="1.38" ry="0.65" fill="#0a060a" fill-opacity="0.85"/>
<ellipse cx="396.4" cy="441.5" rx="0.74" ry="0.87" fill="#0a060a" fill-opacity="0.85"/>
<ellipse cx="426.6" cy="503.4" rx="1.19" ry="1.18" fill="#0a060a" fill-opacity="0.85"/>
<ellipse cx="412.2" cy="532.8" rx="1.10" ry="0.90" fill="#0a060a" fill-opacity="0.85"/>
<ellipse cx="407.9" cy="505.7" rx="0.59" ry="1.28" fill="#0a060a" fill-opacity="0.85"/>
<ellipse cx="379.6" cy="470.9" rx="1.11" ry="0.95" fill="#0a060a" fill-opacity="0.85"/>
<ellipse cx="440.4" cy="491.7" rx="1.39" ry="0.56" fill="#0a060a" fill-opacity="0.85"/>
<ellipse cx="420.3" cy="452.4" rx="1.26" ry="1.51" fill="#0a060a" fill-opacity="0.85"/>
<ellipse cx="404.6" cy="460.6" rx="1.37" ry="0.56" fill="#0a060a" fill-opacity="0.85"/>
<ellipse cx="376.9" cy="500.0" rx="0.86" ry="0.78" fill="#0a060a" fill-opacity="0.85"/>
<ellipse cx="401.3" cy="515.5" rx="0.90" ry="1.51" fill="#0a060a" fill-opacity="0.85"/>
<ellipse cx="400.0" cy="448.6" rx="0.95" ry="1.27" fill="#0a060a" fill-opacity="0.85"/>
<ellipse cx="364.6" cy="477.4" rx="1.00" ry="0.50" fill="#0a060a" fill-opacity="0.85"/>
<ellipse cx="363.4" cy="496.2" rx="1.06" ry="0.86" fill="#0a060a" fill-opacity="0.85"/>
<ellipse cx="406.4" cy="457.3" rx="1.10" ry="1.62" fill="#0a060a" fill-opacity="0.85"/>
<ellipse cx="391.4" cy="442.3" rx="0.70" ry="1.04" fill="#0a060a" fill-opacity="0.85"/>
<ellipse cx="411.7" cy="497.7" rx="0.93" ry="1.28" fill="#0a060a" fill-opacity="0.85"/>
<ellipse cx="427.7" cy="448.2" rx="1.18" ry="0.76" fill="#0a060a" fill-opacity="0.85"/>
<ellipse cx="389.2" cy="518.3" rx="1.37" ry="0.84" fill="#0a060a" fill-opacity="0.85"/>
<ellipse cx="407.8" cy="505.8" rx="0.54" ry="0.69" fill="#0a060a" fill-opacity="0.85"/>
<ellipse cx="368.5" cy="507.3" rx="1.15" ry="0.63" fill="#0a060a" fill-opacity="0.85"/>
<ellipse cx="416.9" cy="455.4" rx="1.34" ry="0.96" fill="#0a060a" fill-opacity="0.85"/>
<ellipse cx="401.1" cy="513.6" rx="1.15" ry="0.63" fill="#0a060a" fill-opacity="0.85"/>
<ellipse cx="396.7" cy="527.8" rx="1.25" ry="1.19" fill="#0a060a" fill-opacity="0.85"/>
<ellipse cx="433.5" cy="481.1" rx="1.09" ry="1.63" fill="#0a060a" fill-opacity="0.85"/>
<ellipse cx="367.9" cy="485.9" rx="0.98" ry="0.56" fill="#0a060a" fill-opacity="0.85"/>
<ellipse cx="450.3" cy="519.2" rx="0.93" ry="1.10" fill="#0a060a" fill-opacity="0.85"/>
<ellipse cx="413.6" cy="508.6" rx="0.62" ry="0.96" fill="#0a060a" fill-opacity="0.85"/>
<ellipse cx="415.9" cy="523.5" rx="0.95" ry="0.95" fill="#0a060a" fill-opacity="0.85"/>
<ellipse cx="432.5" cy="463.8" rx="1.37" ry="1.65" fill="#0a060a" fill-opacity="0.85"/>
<ellipse cx="400.6" cy="450.1" rx="0.87" ry="1.33" fill="#0a060a" fill-opacity="0.85"/>
<ellipse cx="431.1" cy="466.3" rx="1.13" ry="1.52" fill="#0a060a" fill-opacity="0.85"/>
<ellipse cx="427.3" cy="528.7" rx="1.07" ry="0.74" fill="#0a060a" fill-opacity="0.85"/>
<ellipse cx="418.3" cy="465.5" rx="0.81" ry="1.29" fill="#0a060a" fill-opacity="0.85"/>
<ellipse cx="455.1" cy="500.7" rx="1.36" ry="1.09" fill="#0a060a" fill-opacity="0.85"/>
<ellipse cx="425.5" cy="468.6" rx="0.60" ry="0.92" fill="#0a060a" fill-opacity="0.85"/>
<ellipse cx="403.5" cy="492.9" rx="1.10" ry="0.99" fill="#0a060a" fill-opacity="0.85"/>
<ellipse cx="431.0" cy="519.5" rx="0.76" ry="1.50" fill="#0a060a" fill-opacity="0.85"/>
<ellipse cx="437.3" cy="488.2" rx="0.52" ry="0.67" fill="#0a060a" fill-opacity="0.85"/>
<ellipse cx="423.0" cy="456.6" rx="1.18" ry="0.69" fill="#0a060a" fill-opacity="0.85"/>
<ellipse cx="383.5" cy="461.6" rx="1.26" ry="1.31" fill="#0a060a" fill-opacity="0.85"/>
<ellipse cx="384.4" cy="510.9" rx="0.53" ry="1.46" fill="#0a060a" fill-opacity="0.85"/>
<ellipse cx="364.6" cy="522.1" rx="1.17" ry="1.52" fill="#0a060a" fill-opacity="0.85"/>
<ellipse cx="430.5" cy="492.0" rx="0.71" ry="1.43" fill="#0a060a" fill-opacity="0.85"/>
<ellipse cx="436.3" cy="465.2" rx="1.10" ry="1.59" fill="#0a060a" fill-opacity="0.85"/>
<ellipse cx="393.9" cy="530.8" rx="1.38" ry="0.87" fill="#0a060a" fill-opacity="0.85"/>
<ellipse cx="379.9" cy="497.8" rx="1.20" ry="1.53" fill="#0a060a" fill-opacity="0.85"/>
<ellipse cx="439.5" cy="526.3" rx="1.13" ry="1.26" fill="#0a060a" fill-opacity="0.85"/>
<ellipse cx="431.8" cy="490.6" rx="1.04" ry="1.42" fill="#0a060a" fill-opacity="0.85"/>
<ellipse cx="372.3" cy="503.9" rx="0.67" ry="0.71" fill="#0a060a" fill-opacity="0.85"/>
<ellipse cx="406.9" cy="474.0" rx="0.89" ry="1.16" fill="#0a060a" fill-opacity="0.85"/>
<ellipse cx="367.4" cy="494.2" rx="0.73" ry="0.89" fill="#0a060a" fill-opacity="0.85"/>
<ellipse cx="427.1" cy="452.2" rx="0.64" ry="0.88" fill="#0a060a" fill-opacity="0.85"/>
<ellipse cx="417.4" cy="501.9" rx="0.94" ry="1.18" fill="#0a060a" fill-opacity="0.85"/>
<ellipse cx="390.9" cy="513.8" rx="0.79" ry="0.76" fill="#0a060a" fill-opacity="0.85"/>
<ellipse cx="372.9" cy="443.7" rx="0.95" ry="0.99" fill="#0a060a" fill-opacity="0.85"/>
<ellipse cx="409.3" cy="446.0" rx="0.70" ry="0.75" fill="#0a060a" fill-opacity="0.85"/>
<ellipse cx="388.2" cy="472.4" rx="0.70" ry="1.39" fill="#0a060a" fill-opacity="0.85"/>
<ellipse cx="408.6" cy="534.7" rx="1.24" ry="1.66" fill="#0a060a" fill-opacity="0.85"/>
<ellipse cx="399.9" cy="525.6" rx="1.05" ry="1.23" fill="#0a060a" fill-opacity="0.85"/>
<ellipse cx="452.8" cy="503.9" rx="0.79" ry="1.58" fill="#0a060a" fill-opacity="0.85"/>
<ellipse cx="451.3" cy="474.8" rx="0.99" ry="0.83" fill="#0a060a" fill-opacity="0.85"/>
<ellipse cx="447.9" cy="517.6" rx="0.84" ry="1.45" fill="#0a060a" fill-opacity="0.85"/>
<ellipse cx="399.9" cy="441.3" rx="1.31" ry="0.73" fill="#0a060a" fill-opacity="0.85"/>
<ellipse cx="406.9" cy="529.9" rx="0.65" ry="1.63" fill="#0a060a" fill-opacity="0.85"/>
<ellipse cx="360.7" cy="502.7" rx="1.20" ry="1.52" fill="#0a060a" fill-opacity="0.85"/>
<ellipse cx="397.7" cy="447.2" rx="0.98" ry="1.33" fill="#0a060a" fill-opacity="0.85"/>
<ellipse cx="420.6" cy="529.1" rx="1.17" ry="0.68" fill="#0a060a" fill-opacity="0.85"/>
<ellipse cx="401.3" cy="469.5" rx="0.58" ry="0.56" fill="#0a060a" fill-opacity="0.85"/>
<ellipse cx="435.8" cy="491.7" rx="1.02" ry="0.77" fill="#0a060a" fill-opacity="0.85"/>
<ellipse cx="380.6" cy="475.0" rx="1.07" ry="1.01" fill="#0a060a" fill-opacity="0.85"/>
<ellipse cx="409.1" cy="499.9" rx="1.06" ry="1.39" fill="#0a060a" fill-opacity="0.85"/>
<ellipse cx="414.3" cy="505.7" rx="0.57" ry="1.60" fill="#0a060a" fill-opacity="0.85"/>
<ellipse cx="364.9" cy="514.1" rx="0.77" ry="0.60" fill="#0a060a" fill-opacity="0.85"/>
<ellipse cx="432.8" cy="479.9" rx="0.86" ry="1.28" fill="#0a060a" fill-opacity="0.85"/>
<ellipse cx="402.8" cy="489.3" rx="0.62" ry="0.96" fill="#0a060a" fill-opacity="0.85"/>
<ellipse cx="436.1" cy="490.5" rx="1.36" ry="0.67" fill="#0a060a" fill-opacity="0.85"/>
<ellipse cx="423.8" cy="526.6" rx="1.22" ry="1.36" fill="#0a060a" fill-opacity="0.85"/>
<ellipse cx="392.4" cy="530.0" rx="1.00" ry="1.15" fill="#0a060a" fill-opacity="0.85"/>
<ellipse cx="415.5" cy="489.6" rx="1.35" ry="0.86" fill="#0a060a" fill-opacity="0.85"/>
<ellipse cx="431.1" cy="525.5" rx="0.81" ry="0.99" fill="#0a060a" fill-opacity="0.85"/>
<ellipse cx="420.5" cy="487.2" rx="0.64" ry="0.76" fill="#0a060a" fill-opacity="0.85"/>
<ellipse cx="372.7" cy="515.4" rx="1.27" ry="1.50" fill="#0a060a" fill-opacity="0.85"/>
<ellipse cx="450.0" cy="534.4" rx="0.92" ry="1.15" fill="#0a060a" fill-opacity="0.85"/>
<ellipse cx="383.9" cy="443.6" rx="0.59" ry="1.36" fill="#0a060a" fill-opacity="0.85"/>
<ellipse cx="404.2" cy="469.4" rx="0.62" ry="1.27" fill="#0a060a" fill-opacity="0.85"/>
<ellipse cx="364.3" cy="497.7" rx="1.31" ry="0.87" fill="#0a060a" fill-opacity="0.85"/>
<ellipse cx="400.4" cy="497.4" rx="0.78" ry="1.19" fill="#0a060a" fill-opacity="0.85"/>
<ellipse cx="412.3" cy="472.7" rx="0.78" ry="1.01" fill="#0a060a" fill-opacity="0.85"/>
<ellipse cx="376.8" cy="509.5" rx="0.89" ry="1.49" fill="#0a060a" fill-opacity="0.85"/>
<ellipse cx="367.8" cy="508.8" rx="1.29" ry="1.05" fill="#0a060a" fill-opacity="0.85"/>
<ellipse cx="391.0" cy="466.9" rx="1.00" ry="0.71" fill="#0a060a" fill-opacity="0.85"/>
<ellipse cx="416.5" cy="519.5" rx="1.27" ry="0.67" fill="#0a060a" fill-opacity="0.85"/>
<ellipse cx="409.5" cy="462.8" rx="1.30" ry="0.59" fill="#0a060a" fill-opacity="0.85"/>
<ellipse cx="413.9" cy="476.7" rx="1.03" ry="1.57" fill="#0a060a" fill-opacity="0.85"/>
<ellipse cx="410.8" cy="490.3" rx="1.40" ry="1.06" fill="#0a060a" fill-opacity="0.85"/>
<ellipse cx="433.8" cy="472.9" rx="0.70" ry="1.41" fill="#0a060a" fill-opacity="0.85"/>
<ellipse cx="429.5" cy="465.5" rx="0.92" ry="1.10" fill="#0a060a" fill-opacity="0.85"/>
<ellipse cx="394.9" cy="486.2" rx="1.10" ry="1.50" fill="#0a060a" fill-opacity="0.85"/>
<ellipse cx="437.1" cy="497.2" rx="0.65" ry="1.11" fill="#0a060a" fill-opacity="0.85"/>
<ellipse cx="400.0" cy="454.6" rx="1.35" ry="1.28" fill="#0a060a" fill-opacity="0.85"/>
<ellipse cx="453.7" cy="509.1" rx="0.94" ry="0.92" fill="#0a060a" fill-opacity="0.85"/>
<ellipse cx="376.5" cy="484.8" rx="0.56" ry="0.94" fill="#0a060a" fill-opacity="0.85"/>
<ellipse cx="358.4" cy="457.3" rx="1.32" ry="0.93" fill="#0a060a" fill-opacity="0.85"/>
<ellipse cx="402.4" cy="481.6" rx="0.54" ry="1.66" fill="#0a060a" fill-opacity="0.85"/>
<ellipse cx="387.4" cy="506.0" rx="0.97" ry="1.48" fill="#0a060a" fill-opacity="0.85"/>
<ellipse cx="440.0" cy="462.8" rx="0.99" ry="0.71" fill="#0a060a" fill-opacity="0.85"/>
<ellipse cx="421.3" cy="472.8" rx="1.09" ry="1.49" fill="#0a060a" fill-opacity="0.85"/>
<ellipse cx="407.2" cy="473.9" rx="1.32" ry="1.11" fill="#0a060a" fill-opacity="0.85"/>
<ellipse cx="390.3" cy="522.0" rx="0.94" ry="1.07" fill="#0a060a" fill-opacity="0.85"/>
<ellipse cx="416.2" cy="486.2" rx="0.63" ry="0.70" fill="#0a060a" fill-opacity="0.85"/>
<ellipse cx="361.9" cy="500.1" rx="0.69" ry="0.72" fill="#0a060a" fill-opacity="0.85"/>
<ellipse cx="391.3" cy="507.3" rx="0.61" ry="0.77" fill="#0a060a" fill-opacity="0.85"/>
<ellipse cx="437.6" cy="507.6" rx="0.93" ry="1.07" fill="#0a060a" fill-opacity="0.85"/>
<ellipse cx="375.7" cy="452.8" rx="1.25" ry="0.53" fill="#0a060a" fill-opacity="0.85"/>
<ellipse cx="358.4" cy="493.2" rx="0.65" ry="1.24" fill="#0a060a" fill-opacity="0.85"/>
<ellipse cx="358.0" cy="493.1" rx="0.55" ry="0.80" fill="#0a060a" fill-opacity="0.85"/>
<ellipse cx="372.5" cy="530.9" rx="1.04" ry="1.17" fill="#0a060a" fill-opacity="0.85"/>
<ellipse cx="422.2" cy="464.8" rx="0.58" ry="1.03" fill="#0a060a" fill-opacity="0.85"/>
<ellipse cx="371.6" cy="518.4" rx="1.04" ry="1.44" fill="#0a060a" fill-opacity="0.85"/>
<ellipse cx="421.9" cy="462.9" rx="1.15" ry="0.90" fill="#0a060a" fill-opacity="0.85"/>
<ellipse cx="400.7" cy="494.9" rx="0.71" ry="0.95" fill="#0a060a" fill-opacity="0.85"/>
<ellipse cx="365.2" cy="456.8" rx="1.27" ry="1.10" fill="#0a060a" fill-opacity="0.85"/>
<ellipse cx="397.2" cy="451.7" rx="0.59" ry="1.06" fill="#0a060a" fill-opacity="0.85"/>
<ellipse cx="434.7" cy="486.3" rx="0.61" ry="1.07" fill="#0a060a" fill-opacity="0.85"/>
<ellipse cx="367.4" cy="496.1" rx="1.24" ry="1.56" fill="#0a060a" fill-opacity="0.85"/>
<ellipse cx="433.8" cy="500.6" rx="0.97" ry="0.94" fill="#0a060a" fill-opacity="0.85"/>
<ellipse cx="358.5" cy="488.9" rx="0.71" ry="1.45" fill="#0a060a" fill-opacity="0.85"/>
<ellipse cx="435.3" cy="474.4" rx="1.03" ry="1.37" fill="#0a060a" fill-opacity="0.85"/>
<ellipse cx="432.4" cy="505.3" rx="0.59" ry="0.66" fill="#0a060a" fill-opacity="0.85"/>
<ellipse cx="403.1" cy="459.8" rx="1.27" ry="0.83" fill="#0a060a" fill-opacity="0.85"/>
<ellipse cx="444.3" cy="477.0" rx="0.67" ry="1.34" fill="#0a060a" fill-opacity="0.85"/>
<ellipse cx="435.3" cy="493.6" rx="0.61" ry="0.51" fill="#0a060a" fill-opacity="0.85"/>
<ellipse cx="421.4" cy="504.4" rx="0.78" ry="0.93" fill="#0a060a" fill-opacity="0.85"/>
<ellipse cx="369.9" cy="500.9" rx="0.73" ry="1.51" fill="#0a060a" fill-opacity="0.85"/>
<ellipse cx="397.6" cy="472.8" rx="0.75" ry="1.30" fill="#0a060a" fill-opacity="0.85"/>
<ellipse cx="431.8" cy="477.5" rx="1.21" ry="1.07" fill="#0a060a" fill-opacity="0.85"/>
<ellipse cx="392.1" cy="491.4" rx="0.73" ry="0.86" fill="#0a060a" fill-opacity="0.85"/>
<ellipse cx="389.5" cy="506.1" rx="1.16" ry="1.51" fill="#0a060a" fill-opacity="0.85"/>
<ellipse cx="421.9" cy="510.3" rx="0.90" ry="1.33" fill="#0a060a" fill-opacity="0.85"/>
<ellipse cx="370.7" cy="458.0" rx="0.86" ry="0.90" fill="#0a060a" fill-opacity="0.85"/>
<ellipse cx="410.7" cy="505.3" rx="1.14" ry="0.69" fill="#0a060a" fill-opacity="0.85"/>
<ellipse cx="363.4" cy="451.2" rx="1.33" ry="1.01" fill="#0a060a" fill-opacity="0.85"/>
<ellipse cx="360.6" cy="458.7" rx="0.57" ry="0.54" fill="#0a060a" fill-opacity="0.85"/>
<ellipse cx="393.6" cy="533.5" rx="1.05" ry="1.11" fill="#0a060a" fill-opacity="0.85"/>
<ellipse cx="427.3" cy="495.6" rx="1.35" ry="1.47" fill="#0a060a" fill-opacity="0.85"/>
<ellipse cx="420.0" cy="480.0" rx="0.68" ry="1.28" fill="#0a060a" fill-opacity="0.85"/>
<ellipse cx="436.8" cy="465.0" rx="0.53" ry="1.21" fill="#0a060a" fill-opacity="0.85"/>
<ellipse cx="407.1" cy="459.7" rx="0.65" ry="0.54" fill="#0a060a" fill-opacity="0.85"/>
<ellipse cx="370.2" cy="534.7" rx="1.20" ry="0.92" fill="#0a060a" fill-opacity="0.85"/>
<ellipse cx="394.7" cy="494.4" rx="0.97" ry="1.37" fill="#0a060a" fill-opacity="0.85"/>
<ellipse cx="361.1" cy="445.8" rx="0.76" ry="1.48" fill="#0a060a" fill-opacity="0.85"/>
<ellipse cx="448.2" cy="471.1" rx="1.37" ry="0.83" fill="#0a060a" fill-opacity="0.85"/>
<ellipse cx="416.5" cy="456.1" rx="1.34" ry="1.18" fill="#0a060a" fill-opacity="0.85"/>
<ellipse cx="380.9" cy="476.9" rx="0.60" ry="0.59" fill="#0a060a" fill-opacity="0.85"/>
<ellipse cx="384.3" cy="529.8" rx="1.22" ry="1.63" fill="#0a060a" fill-opacity="0.85"/>
<ellipse cx="444.2" cy="516.7" rx="1.02" ry="1.32" fill="#0a060a" fill-opacity="0.85"/>
<ellipse cx="453.5" cy="492.2" rx="1.19" ry="1.39" fill="#0a060a" fill-opacity="0.85"/>
<ellipse cx="453.0" cy="482.0" rx="0.91" ry="1.19" fill="#0a060a" fill-opacity="0.85"/>
<ellipse cx="356.8" cy="448.4" rx="0.56" ry="1.25" fill="#0a060a" fill-opacity="0.85"/>
<ellipse cx="377.7" cy="467.9" rx="1.36" ry="1.11" fill="#0a060a" fill-opacity="0.85"/>
<ellipse cx="379.6" cy="446.1" rx="1.11" ry="1.47" fill="#0a060a" fill-opacity="0.85"/>
<ellipse cx="361.8" cy="528.3" rx="0.93" ry="0.92" fill="#0a060a" fill-opacity="0.85"/>
<ellipse cx="446.1" cy="463.4" rx="1.35" ry="1.31" fill="#0a060a" fill-opacity="0.85"/>
<ellipse cx="447.7" cy="485.9" rx="0.68" ry="1.37" fill="#0a060a" fill-opacity="0.85"/>
<ellipse cx="374.9" cy="461.5" rx="1.06" ry="0.68" fill="#0a060a" fill-opacity="0.85"/>
<ellipse cx="365.0" cy="527.2" rx="1.11" ry="1.28" fill="#0a060a" fill-opacity="0.85"/>
<ellipse cx="417.2" cy="511.9" rx="0.99" ry="0.55" fill="#0a060a" fill-opacity="0.85"/>
<ellipse cx="403.7" cy="497.8" rx="0.94" ry="1.66" fill="#0a060a" fill-opacity="0.85"/>
<ellipse cx="446.4" cy="522.1" rx="0.94" ry="1.66" fill="#0a060a" fill-opacity="0.85"/>
<ellipse cx="448.3" cy="464.5" rx="0.70" ry="1.18" fill="#0a060a" fill-opacity="0.85"/>
<ellipse cx="359.6" cy="515.3" rx="0.93" ry="1.14" fill="#0a060a" fill-opacity="0.85"/>
<ellipse cx="405.8" cy="475.6" rx="1.12" ry="0.71" fill="#0a060a" fill-opacity="0.85"/>
<ellipse cx="454.6" cy="505.4" rx="0.91" ry="1.31" fill="#0a060a" fill-opacity="0.85"/>
<ellipse cx="355.2" cy="457.7" rx="1.02" ry="0.88" fill="#0a060a" fill-opacity="0.85"/>
<ellipse cx="417.1" cy="462.5" rx="0.99" ry="0.78" fill="#0a060a" fill-opacity="0.85"/>
<ellipse cx="402.5" cy="497.1" rx="0.83" ry="1.09" fill="#0a060a" fill-opacity="0.85"/>
<ellipse cx="375.7" cy="505.7" rx="0.84" ry="1.51" fill="#0a060a" fill-opacity="0.85"/>
<ellipse cx="382.8" cy="454.6" rx="0.62" ry="1.18" fill="#0a060a" fill-opacity="0.85"/>
<ellipse cx="377.5" cy="446.8" rx="0.74" ry="0.78" fill="#0a060a" fill-opacity="0.85"/>
<ellipse cx="398.5" cy="474.3" rx="0.63" ry="1.63" fill="#0a060a" fill-opacity="0.85"/>
<ellipse cx="369.4" cy="516.0" rx="0.66" ry="1.09" fill="#0a060a" fill-opacity="0.85"/>
<ellipse cx="407.3" cy="507.6" rx="1.21" ry="0.85" fill="#0a060a" fill-opacity="0.85"/>
<ellipse cx="411.9" cy="492.6" rx="0.86" ry="1.31" fill="#0a060a" fill-opacity="0.85"/>
<ellipse cx="360.2" cy="516.8" rx="0.93" ry="1.24" fill="#0a060a" fill-opacity="0.85"/>
<ellipse cx="400.3" cy="469.8" rx="0.82" ry="1.16" fill="#0a060a" fill-opacity="0.85"/>
<ellipse cx="356.0" cy="448.9" rx="1.28" ry="1.64" fill="#0a060a" fill-opacity="0.85"/>
<ellipse cx="374.5" cy="493.4" rx="1.08" ry="0.71" fill="#0a060a" fill-opacity="0.85"/>
<ellipse cx="434.4" cy="471.8" rx="1.11" ry="1.08" fill="#0a060a" fill-opacity="0.85"/>
<ellipse cx="429.9" cy="524.2" rx="0.84" ry="0.84" fill="#0a060a" fill-opacity="0.85"/>
<ellipse cx="419.1" cy="451.2" rx="0.65" ry="1.45" fill="#0a060a" fill-opacity="0.85"/>
<ellipse cx="388.8" cy="498.9" rx="1.01" ry="1.50" fill="#0a060a" fill-opacity="0.85"/>
<ellipse cx="361.3" cy="452.9" rx="0.71" ry="0.87" fill="#0a060a" fill-opacity="0.85"/>
<ellipse cx="384.0" cy="463.2" rx="1.08" ry="0.82" fill="#0a060a" fill-opacity="0.85"/>
<ellipse cx="376" cy="465" rx="3.5" ry="2.6" fill="#e43cec" fill-opacity="0.9" filter="url(#bl1)"/>
<ellipse cx="386" cy="485" rx="4.5" ry="2.6" fill="#e43cec" fill-opacity="0.9" filter="url(#bl1)"/>
<ellipse cx="396" cy="487" rx="4" ry="2.2" fill="#e43cec" fill-opacity="0.9" filter="url(#bl1)"/>
<ellipse cx="401" cy="483" rx="2.5" ry="2.5" fill="#e43cec" fill-opacity="0.9" filter="url(#bl1)"/>
<ellipse cx="420" cy="483" rx="3" ry="3" fill="#e43cec" fill-opacity="0.9" filter="url(#bl1)"/>
<ellipse cx="402" cy="467" rx="3" ry="3" fill="#e43cec" fill-opacity="0.9" filter="url(#bl1)"/>
<ellipse cx="366" cy="494" rx="3.5" ry="2.6" fill="#e43cec" fill-opacity="0.9" filter="url(#bl1)"/>
<ellipse cx="368" cy="476" rx="4" ry="1.8" fill="#e43cec" fill-opacity="0.9" filter="url(#bl1)"/>
<ellipse cx="410" cy="458" rx="2.5" ry="1.4" fill="#e43cec" fill-opacity="0.9" filter="url(#bl1)"/>
<ellipse cx="385" cy="472" rx="2" ry="1.6" fill="#e43cec" fill-opacity="0.9" filter="url(#bl1)"/>
<ellipse cx="428" cy="470" rx="2" ry="2" fill="#e43cec" fill-opacity="0.9" filter="url(#bl1)"/>
</g>
<path d="M354.60,441.00 C356.58,432.70 362.63,437.66 369.20,437.30 C375.77,436.94 389.64,437.31 398.40,438.60 C407.16,439.89 420.16,442.18 427.60,445.90 C435.04,449.62 443.62,457.26 448.00,463.40 C452.38,469.53 455.70,480.23 456.80,486.80 C457.90,493.37 456.11,501.08 455.30,507.20 C454.49,513.32 452.12,523.28 451.40,527.60 C450.68,531.92 464.12,534.74 450.50,536.00 C436.88,537.26 374.33,539.00 360.60,536.00 C346.88,533.00 359.69,522.51 359.00,516.00 C358.31,509.49 356.66,503.85 356.00,492.60 C355.34,481.35 352.62,449.30 354.60,441.00 Z" fill="none" stroke="#ffffff" stroke-width="1.0" stroke-dasharray="2.2 1.6"/>
<text x="383.00" y="521.80" font-size="11.5" fill="#ffffff" text-anchor="start" >dStr</text>
<line x1="434.90" y1="530.00" x2="464.10" y2="530.00" stroke="#ffffff" stroke-width="2.0" />
</g>
<g clip-path="url(#cg2)">
<rect x="471.40" y="416.70" width="57.80" height="56.90" fill="#76288a" />
<rect x="471.40" y="416.70" width="57.80" height="56.90" fill="#000" filter="url(#spMagF)" fill-opacity="0.5"/>
<path d="M474,428 C490,424 506,426 516,432 C522,442 522,458 521,476 L474,476 Z" fill="#561a66"/>
<path d="M473,427 C490,423 507,425 518,432 C524,443 525,458 523,476" fill="none" stroke="#16061a" stroke-width="3" filter="url(#bl1)"/>
<path d="M474,428 C474,440 473,455 473,476" fill="none" stroke="#16061a" stroke-width="1.4" filter="url(#bl1)"/>
<ellipse cx="495.0" cy="467.7" rx="0.62" ry="0.87" fill="#0e040f" fill-opacity="0.8"/>
<ellipse cx="518.4" cy="447.0" rx="0.51" ry="0.42" fill="#0e040f" fill-opacity="0.8"/>
<ellipse cx="507.7" cy="458.5" rx="0.96" ry="0.96" fill="#0e040f" fill-opacity="0.8"/>
<ellipse cx="478.6" cy="435.7" rx="0.46" ry="0.45" fill="#0e040f" fill-opacity="0.8"/>
<ellipse cx="514.5" cy="453.2" rx="0.42" ry="0.72" fill="#0e040f" fill-opacity="0.8"/>
<ellipse cx="509.4" cy="431.8" rx="0.56" ry="0.52" fill="#0e040f" fill-opacity="0.8"/>
<ellipse cx="504.5" cy="468.7" rx="0.59" ry="0.60" fill="#0e040f" fill-opacity="0.8"/>
<ellipse cx="487.8" cy="456.8" rx="0.48" ry="1.07" fill="#0e040f" fill-opacity="0.8"/>
<ellipse cx="476.3" cy="458.5" rx="0.92" ry="0.66" fill="#0e040f" fill-opacity="0.8"/>
<ellipse cx="496.4" cy="472.8" rx="0.72" ry="0.62" fill="#0e040f" fill-opacity="0.8"/>
<ellipse cx="495.0" cy="472.6" rx="0.82" ry="0.54" fill="#0e040f" fill-opacity="0.8"/>
<ellipse cx="501.9" cy="457.0" rx="0.78" ry="0.85" fill="#0e040f" fill-opacity="0.8"/>
<ellipse cx="498.6" cy="457.4" rx="0.59" ry="0.68" fill="#0e040f" fill-opacity="0.8"/>
<ellipse cx="499.3" cy="465.0" rx="0.67" ry="0.69" fill="#0e040f" fill-opacity="0.8"/>
<ellipse cx="486.7" cy="442.0" rx="0.40" ry="1.05" fill="#0e040f" fill-opacity="0.8"/>
<ellipse cx="513.2" cy="443.8" rx="0.68" ry="0.41" fill="#0e040f" fill-opacity="0.8"/>
<ellipse cx="516.5" cy="471.6" rx="0.69" ry="0.41" fill="#0e040f" fill-opacity="0.8"/>
<ellipse cx="494.4" cy="441.5" rx="0.54" ry="0.41" fill="#0e040f" fill-opacity="0.8"/>
<ellipse cx="491.8" cy="446.9" rx="0.74" ry="0.72" fill="#0e040f" fill-opacity="0.8"/>
<ellipse cx="482.3" cy="461.9" rx="0.63" ry="0.70" fill="#0e040f" fill-opacity="0.8"/>
<ellipse cx="486.8" cy="447.4" rx="0.54" ry="1.01" fill="#0e040f" fill-opacity="0.8"/>
<ellipse cx="515.9" cy="465.1" rx="0.81" ry="0.63" fill="#0e040f" fill-opacity="0.8"/>
<ellipse cx="508.4" cy="465.2" rx="0.65" ry="1.08" fill="#0e040f" fill-opacity="0.8"/>
<ellipse cx="483.2" cy="441.3" rx="0.78" ry="0.89" fill="#0e040f" fill-opacity="0.8"/>
<ellipse cx="487.2" cy="456.6" rx="0.51" ry="0.42" fill="#0e040f" fill-opacity="0.8"/>
<ellipse cx="477.2" cy="452.6" rx="0.51" ry="0.48" fill="#0e040f" fill-opacity="0.8"/>
<ellipse cx="487.1" cy="460.9" rx="0.84" ry="0.59" fill="#0e040f" fill-opacity="0.8"/>
<ellipse cx="481.8" cy="450.7" rx="0.61" ry="0.65" fill="#0e040f" fill-opacity="0.8"/>
<ellipse cx="511.0" cy="473.9" rx="0.68" ry="1.03" fill="#0e040f" fill-opacity="0.8"/>
<ellipse cx="489.9" cy="466.8" rx="0.97" ry="0.44" fill="#0e040f" fill-opacity="0.8"/>
<ellipse cx="509.9" cy="431.3" rx="0.68" ry="0.55" fill="#0e040f" fill-opacity="0.8"/>
<ellipse cx="512.9" cy="465.6" rx="0.90" ry="0.50" fill="#0e040f" fill-opacity="0.8"/>
<ellipse cx="509.6" cy="439.5" rx="0.86" ry="0.75" fill="#0e040f" fill-opacity="0.8"/>
<ellipse cx="508.2" cy="429.5" rx="0.68" ry="1.02" fill="#0e040f" fill-opacity="0.8"/>
<ellipse cx="498.5" cy="473.2" rx="0.68" ry="0.95" fill="#0e040f" fill-opacity="0.8"/>
<ellipse cx="489.0" cy="442.9" rx="0.78" ry="0.43" fill="#0e040f" fill-opacity="0.8"/>
<ellipse cx="517.2" cy="452.0" rx="0.55" ry="0.91" fill="#0e040f" fill-opacity="0.8"/>
<ellipse cx="483.9" cy="468.8" rx="0.92" ry="0.57" fill="#0e040f" fill-opacity="0.8"/>
<ellipse cx="480.1" cy="457.1" rx="0.59" ry="0.53" fill="#0e040f" fill-opacity="0.8"/>
<ellipse cx="487.4" cy="433.5" rx="0.87" ry="0.41" fill="#0e040f" fill-opacity="0.8"/>
<ellipse cx="476.9" cy="464.0" rx="0.69" ry="0.88" fill="#0e040f" fill-opacity="0.8"/>
<ellipse cx="491.7" cy="432.1" rx="0.49" ry="0.47" fill="#0e040f" fill-opacity="0.8"/>
<ellipse cx="502.8" cy="470.8" rx="1.00" ry="0.90" fill="#0e040f" fill-opacity="0.8"/>
<ellipse cx="477.7" cy="457.7" rx="0.82" ry="1.03" fill="#0e040f" fill-opacity="0.8"/>
<ellipse cx="480.7" cy="438.7" rx="0.99" ry="1.03" fill="#0e040f" fill-opacity="0.8"/>
<ellipse cx="509.1" cy="465.1" rx="0.76" ry="0.66" fill="#d844e6" fill-opacity="0.9"/>
<ellipse cx="506.0" cy="444.5" rx="0.58" ry="1.24" fill="#d844e6" fill-opacity="0.9"/>
<ellipse cx="496.8" cy="448.1" rx="0.68" ry="1.07" fill="#d844e6" fill-opacity="0.9"/>
<ellipse cx="483.5" cy="436.6" rx="0.71" ry="1.10" fill="#d844e6" fill-opacity="0.9"/>
<ellipse cx="487.4" cy="466.2" rx="1.05" ry="0.95" fill="#d844e6" fill-opacity="0.9"/>
<ellipse cx="478.1" cy="435.1" rx="0.68" ry="0.72" fill="#d844e6" fill-opacity="0.9"/>
<ellipse cx="503.7" cy="445.4" rx="0.61" ry="0.52" fill="#d844e6" fill-opacity="0.9"/>
<ellipse cx="513.6" cy="463.7" rx="0.64" ry="1.09" fill="#d844e6" fill-opacity="0.9"/>
<ellipse cx="504.6" cy="452.8" rx="0.73" ry="0.93" fill="#d844e6" fill-opacity="0.9"/>
<ellipse cx="497.4" cy="453.4" rx="0.87" ry="0.76" fill="#d844e6" fill-opacity="0.9"/>
<ellipse cx="503.8" cy="433.1" rx="0.81" ry="0.55" fill="#d844e6" fill-opacity="0.9"/>
<ellipse cx="512.6" cy="434.0" rx="1.02" ry="0.67" fill="#d844e6" fill-opacity="0.9"/>
<ellipse cx="496.8" cy="432.5" rx="0.84" ry="1.19" fill="#d844e6" fill-opacity="0.9"/>
<ellipse cx="504.6" cy="452.2" rx="0.92" ry="0.71" fill="#d844e6" fill-opacity="0.9"/>
<ellipse cx="491.5" cy="455.9" rx="0.54" ry="1.26" fill="#d844e6" fill-opacity="0.9"/>
<ellipse cx="484.4" cy="450.6" rx="1.03" ry="0.57" fill="#d844e6" fill-opacity="0.9"/>
<ellipse cx="500.1" cy="471.2" rx="0.75" ry="0.80" fill="#d844e6" fill-opacity="0.9"/>
<ellipse cx="506.9" cy="465.9" rx="0.66" ry="0.53" fill="#d844e6" fill-opacity="0.9"/>
<ellipse cx="478.2" cy="442.0" rx="1.07" ry="1.29" fill="#d844e6" fill-opacity="0.9"/>
<ellipse cx="479.4" cy="461.4" rx="0.82" ry="0.66" fill="#d844e6" fill-opacity="0.9"/>
<ellipse cx="498.7" cy="439.4" rx="0.88" ry="0.65" fill="#d844e6" fill-opacity="0.9"/>
<ellipse cx="508.7" cy="447.1" rx="0.56" ry="1.02" fill="#d844e6" fill-opacity="0.9"/>
<ellipse cx="491.1" cy="449.1" rx="0.90" ry="1.22" fill="#d844e6" fill-opacity="0.9"/>
<ellipse cx="482.5" cy="436.3" rx="0.74" ry="0.78" fill="#d844e6" fill-opacity="0.9"/>
<ellipse cx="482.1" cy="473.9" rx="0.77" ry="0.79" fill="#d844e6" fill-opacity="0.9"/>
<ellipse cx="489.2" cy="473.6" rx="0.69" ry="0.80" fill="#d844e6" fill-opacity="0.9"/>
<ellipse cx="509.4" cy="447.8" rx="0.94" ry="1.00" fill="#d844e6" fill-opacity="0.9"/>
<ellipse cx="500.3" cy="437.8" rx="0.96" ry="1.26" fill="#d844e6" fill-opacity="0.9"/>
<ellipse cx="486.4" cy="472.2" rx="0.77" ry="0.83" fill="#d844e6" fill-opacity="0.9"/>
<ellipse cx="507.7" cy="473.2" rx="0.86" ry="0.92" fill="#d844e6" fill-opacity="0.9"/>
</g>
<g clip-path="url(#cg3)">
<rect x="471.40" y="476.50" width="57.80" height="57.60" fill="#030603" />
<path d="M480,478 C495,477 512,480 525,488 L526,480 Z" fill="#1c4a1c" filter="url(#bl3)"/>
<path d="M474,490 C485,486 500,486 511,491 C518,496 521,504 521,514 C520,522 518,528 516,534 L474,534 Z" fill="#2aa82a" filter="url(#bl2)"/>
<path d="M476,489 C488,486 502,487 512,493 C517,500 515,508 505,510 C492,511 482,508 476,504 Z" fill="#58f058" filter="url(#bl3)"/>
<ellipse cx="492" cy="519" rx="11" ry="10" fill="#0c2a0c" filter="url(#bl5)"/>
<rect x="474.00" y="489.00" width="3.50" height="38.00" fill="#48e048" filter="url(#bl1)"/>
<ellipse cx="489.2" cy="499.8" rx="0.91" ry="0.42" fill="#061006" fill-opacity="0.8"/>
<ellipse cx="512.2" cy="520.3" rx="0.57" ry="0.84" fill="#061006" fill-opacity="0.8"/>
<ellipse cx="500.5" cy="530.7" rx="0.49" ry="0.43" fill="#061006" fill-opacity="0.8"/>
<ellipse cx="491.6" cy="496.1" rx="0.62" ry="0.87" fill="#061006" fill-opacity="0.8"/>
<ellipse cx="486.3" cy="525.7" rx="0.46" ry="0.72" fill="#061006" fill-opacity="0.8"/>
<ellipse cx="516.4" cy="522.3" rx="0.83" ry="1.03" fill="#061006" fill-opacity="0.8"/>
<ellipse cx="483.6" cy="526.3" rx="0.81" ry="0.86" fill="#061006" fill-opacity="0.8"/>
<ellipse cx="515.9" cy="516.2" rx="0.58" ry="0.98" fill="#061006" fill-opacity="0.8"/>
<ellipse cx="501.4" cy="493.5" rx="0.43" ry="1.02" fill="#061006" fill-opacity="0.8"/>
<ellipse cx="491.3" cy="526.0" rx="0.65" ry="1.09" fill="#061006" fill-opacity="0.8"/>
<ellipse cx="514.3" cy="500.0" rx="0.79" ry="0.88" fill="#061006" fill-opacity="0.8"/>
<ellipse cx="476.5" cy="524.2" rx="0.63" ry="0.64" fill="#061006" fill-opacity="0.8"/>
<ellipse cx="477.8" cy="513.8" rx="0.49" ry="0.80" fill="#061006" fill-opacity="0.8"/>
<ellipse cx="485.7" cy="492.2" rx="0.84" ry="0.71" fill="#061006" fill-opacity="0.8"/>
<ellipse cx="495.6" cy="516.2" rx="0.70" ry="0.58" fill="#061006" fill-opacity="0.8"/>
<ellipse cx="488.8" cy="507.4" rx="0.48" ry="0.47" fill="#061006" fill-opacity="0.8"/>
<ellipse cx="501.1" cy="492.2" rx="0.64" ry="0.47" fill="#061006" fill-opacity="0.8"/>
<ellipse cx="498.1" cy="524.0" rx="0.48" ry="0.51" fill="#061006" fill-opacity="0.8"/>
<ellipse cx="500.6" cy="511.5" rx="0.79" ry="0.56" fill="#061006" fill-opacity="0.8"/>
<ellipse cx="503.1" cy="522.4" rx="0.55" ry="0.46" fill="#061006" fill-opacity="0.8"/>
<ellipse cx="510.2" cy="504.2" rx="0.95" ry="0.47" fill="#061006" fill-opacity="0.8"/>
<ellipse cx="505.6" cy="508.6" rx="0.61" ry="0.66" fill="#061006" fill-opacity="0.8"/>
<ellipse cx="502.1" cy="491.1" rx="0.58" ry="1.19" fill="#061006" fill-opacity="0.8"/>
<ellipse cx="503.1" cy="533.6" rx="0.67" ry="0.52" fill="#061006" fill-opacity="0.8"/>
<ellipse cx="478.0" cy="526.0" rx="0.52" ry="0.70" fill="#061006" fill-opacity="0.8"/>
<ellipse cx="509.3" cy="527.5" rx="0.47" ry="0.44" fill="#061006" fill-opacity="0.8"/>
<ellipse cx="517.8" cy="530.8" rx="0.92" ry="1.06" fill="#061006" fill-opacity="0.8"/>
<ellipse cx="476.6" cy="520.5" rx="0.47" ry="0.76" fill="#061006" fill-opacity="0.8"/>
<ellipse cx="477.0" cy="499.2" rx="0.72" ry="0.56" fill="#061006" fill-opacity="0.8"/>
<ellipse cx="499.0" cy="501.4" rx="0.69" ry="0.98" fill="#061006" fill-opacity="0.8"/>
<ellipse cx="482.2" cy="520.7" rx="0.41" ry="0.87" fill="#061006" fill-opacity="0.8"/>
<ellipse cx="505.2" cy="491.9" rx="0.50" ry="0.63" fill="#061006" fill-opacity="0.8"/>
<ellipse cx="510.7" cy="517.2" rx="0.43" ry="0.92" fill="#061006" fill-opacity="0.8"/>
<ellipse cx="476.4" cy="507.1" rx="0.56" ry="1.08" fill="#061006" fill-opacity="0.8"/>
<ellipse cx="505.0" cy="528.0" rx="0.41" ry="1.09" fill="#061006" fill-opacity="0.8"/>
<ellipse cx="504.6" cy="500.2" rx="0.63" ry="1.18" fill="#061006" fill-opacity="0.8"/>
<ellipse cx="480.4" cy="503.9" rx="0.92" ry="0.83" fill="#061006" fill-opacity="0.8"/>
<ellipse cx="484.2" cy="512.0" rx="0.67" ry="1.14" fill="#061006" fill-opacity="0.8"/>
<ellipse cx="476.9" cy="500.9" rx="0.72" ry="0.67" fill="#061006" fill-opacity="0.8"/>
<ellipse cx="493.3" cy="496.9" rx="0.61" ry="0.68" fill="#061006" fill-opacity="0.8"/>
<ellipse cx="503.5" cy="500.4" rx="0.99" ry="0.80" fill="#061006" fill-opacity="0.8"/>
<ellipse cx="511.7" cy="517.5" rx="0.93" ry="1.11" fill="#061006" fill-opacity="0.8"/>
<ellipse cx="511.9" cy="491.3" rx="0.73" ry="0.62" fill="#061006" fill-opacity="0.8"/>
<ellipse cx="482.7" cy="529.5" rx="0.79" ry="0.47" fill="#061006" fill-opacity="0.8"/>
<ellipse cx="492.8" cy="532.3" rx="0.77" ry="0.90" fill="#061006" fill-opacity="0.8"/>
<ellipse cx="486.0" cy="500.6" rx="0.49" ry="1.18" fill="#061006" fill-opacity="0.8"/>
<ellipse cx="516.0" cy="504.5" rx="0.73" ry="0.57" fill="#061006" fill-opacity="0.8"/>
<ellipse cx="482.1" cy="513.8" rx="0.88" ry="1.09" fill="#061006" fill-opacity="0.8"/>
<ellipse cx="489.6" cy="521.0" rx="0.71" ry="0.51" fill="#061006" fill-opacity="0.8"/>
<ellipse cx="482.4" cy="531.1" rx="0.95" ry="0.65" fill="#061006" fill-opacity="0.8"/>
<ellipse cx="500.5" cy="531.7" rx="0.47" ry="0.65" fill="#061006" fill-opacity="0.8"/>
<ellipse cx="514.7" cy="522.0" rx="0.86" ry="1.10" fill="#061006" fill-opacity="0.8"/>
<ellipse cx="494.2" cy="508.1" rx="0.67" ry="1.15" fill="#061006" fill-opacity="0.8"/>
<ellipse cx="515.3" cy="531.1" rx="0.56" ry="1.02" fill="#061006" fill-opacity="0.8"/>
<ellipse cx="480.7" cy="498.1" rx="0.86" ry="0.89" fill="#061006" fill-opacity="0.8"/>
<ellipse cx="487.7" cy="514.9" rx="0.54" ry="0.59" fill="#061006" fill-opacity="0.8"/>
<ellipse cx="506.2" cy="505.8" rx="0.81" ry="0.78" fill="#061006" fill-opacity="0.8"/>
<ellipse cx="498.1" cy="516.6" rx="0.83" ry="0.70" fill="#061006" fill-opacity="0.8"/>
<ellipse cx="513.5" cy="511.6" rx="0.48" ry="0.55" fill="#061006" fill-opacity="0.8"/>
<ellipse cx="477.4" cy="523.6" rx="0.41" ry="0.62" fill="#061006" fill-opacity="0.8"/>
<ellipse cx="494.2" cy="522.7" rx="0.99" ry="1.01" fill="#061006" fill-opacity="0.8"/>
<ellipse cx="478.9" cy="530.8" rx="0.99" ry="1.09" fill="#061006" fill-opacity="0.8"/>
<ellipse cx="497.6" cy="504.3" rx="0.67" ry="0.60" fill="#061006" fill-opacity="0.8"/>
<ellipse cx="493.8" cy="491.8" rx="0.84" ry="0.70" fill="#061006" fill-opacity="0.8"/>
<ellipse cx="489.8" cy="516.9" rx="0.85" ry="0.88" fill="#061006" fill-opacity="0.8"/>
<ellipse cx="499.1" cy="528.5" rx="0.87" ry="0.82" fill="#061006" fill-opacity="0.8"/>
<ellipse cx="495.9" cy="526.4" rx="0.43" ry="1.20" fill="#061006" fill-opacity="0.8"/>
<ellipse cx="498.8" cy="507.4" rx="0.84" ry="0.85" fill="#061006" fill-opacity="0.8"/>
<ellipse cx="498.7" cy="517.7" rx="0.43" ry="0.63" fill="#061006" fill-opacity="0.8"/>
<ellipse cx="493.5" cy="503.4" rx="0.90" ry="0.77" fill="#061006" fill-opacity="0.8"/>
<ellipse cx="494.6" cy="517.0" rx="0.43" ry="0.81" fill="#061006" fill-opacity="0.8"/>
<ellipse cx="482.3" cy="526.5" rx="0.67" ry="0.98" fill="#061006" fill-opacity="0.8"/>
<ellipse cx="481.0" cy="524.3" rx="0.96" ry="0.96" fill="#061006" fill-opacity="0.8"/>
<ellipse cx="482.0" cy="508.2" rx="0.67" ry="0.54" fill="#061006" fill-opacity="0.8"/>
<ellipse cx="502.0" cy="521.4" rx="0.52" ry="0.76" fill="#061006" fill-opacity="0.8"/>
<ellipse cx="487.0" cy="520.4" rx="0.94" ry="1.04" fill="#061006" fill-opacity="0.8"/>
<ellipse cx="507.6" cy="495.4" rx="0.47" ry="0.76" fill="#061006" fill-opacity="0.8"/>
<ellipse cx="492.0" cy="513.0" rx="0.63" ry="1.03" fill="#061006" fill-opacity="0.8"/>
<ellipse cx="498.5" cy="531.8" rx="0.63" ry="0.70" fill="#061006" fill-opacity="0.8"/>
<ellipse cx="509.8" cy="530.1" rx="0.74" ry="0.93" fill="#061006" fill-opacity="0.8"/>
<ellipse cx="482.6" cy="528.2" rx="0.51" ry="0.97" fill="#061006" fill-opacity="0.8"/>
<ellipse cx="494.5" cy="503.6" rx="0.86" ry="0.76" fill="#061006" fill-opacity="0.8"/>
<ellipse cx="503.6" cy="495.2" rx="0.48" ry="0.56" fill="#061006" fill-opacity="0.8"/>
<ellipse cx="503.4" cy="501.1" rx="0.68" ry="1.08" fill="#061006" fill-opacity="0.8"/>
<ellipse cx="499.9" cy="490.3" rx="0.93" ry="0.59" fill="#061006" fill-opacity="0.8"/>
<ellipse cx="501.9" cy="510.9" rx="0.65" ry="0.46" fill="#061006" fill-opacity="0.8"/>
<ellipse cx="502.4" cy="500.8" rx="0.73" ry="0.90" fill="#061006" fill-opacity="0.8"/>
<ellipse cx="500.5" cy="526.3" rx="0.43" ry="0.52" fill="#061006" fill-opacity="0.8"/>
<ellipse cx="504.7" cy="491.6" rx="0.91" ry="0.93" fill="#061006" fill-opacity="0.8"/>
<ellipse cx="512.9" cy="503.1" rx="0.95" ry="0.44" fill="#061006" fill-opacity="0.8"/>
<line x1="509.30" y1="530.00" x2="523.40" y2="530.00" stroke="#ffffff" stroke-width="2.0" />
</g>
<g clip-path="url(#cg4)">
<rect x="532.60" y="417.00" width="152.40" height="118.00" fill="#0a070b" />
<path d="M532,417 L590,417 L588,440 C570,445 550,446 532,448 Z" fill="#2a0e30" fill-opacity="0.35" filter="url(#bl6)"/>
<path d="M532,452 C555,450 575,452 590,455 L590,470 L532,472 Z" fill="#4a1656" fill-opacity="0.55" filter="url(#bl6)"/>
<path d="M526,466 C545,462 560,468 575,463 C583,461 589,465 592,470 C590,488 586,503 580,519 C562,524 545,520 526,518 Z" fill="#8a2ca0" filter="url(#bl5)"/>
<g mask="url(#cg4t)">
<rect x="532.00" y="460.00" width="70.00" height="72.00" fill="#000" filter="url(#spMag)"/>
<ellipse cx="557.3" cy="474.3" rx="0.90" ry="1.00" fill="#e652f4" fill-opacity="0.85"/>
<ellipse cx="572.7" cy="498.5" rx="0.97" ry="0.65" fill="#e652f4" fill-opacity="0.85"/>
<ellipse cx="559.5" cy="497.6" rx="1.06" ry="0.58" fill="#e652f4" fill-opacity="0.85"/>
<ellipse cx="550.8" cy="485.4" rx="0.73" ry="0.56" fill="#e652f4" fill-opacity="0.85"/>
<ellipse cx="557.9" cy="495.9" rx="0.68" ry="0.61" fill="#e652f4" fill-opacity="0.85"/>
<ellipse cx="572.9" cy="479.9" rx="0.82" ry="0.93" fill="#e652f4" fill-opacity="0.85"/>
<ellipse cx="573.0" cy="499.5" rx="0.57" ry="1.10" fill="#e652f4" fill-opacity="0.85"/>
<ellipse cx="569.2" cy="521.3" rx="0.79" ry="1.06" fill="#e652f4" fill-opacity="0.85"/>
<ellipse cx="586.3" cy="521.2" rx="0.67" ry="1.00" fill="#e652f4" fill-opacity="0.85"/>
<ellipse cx="551.7" cy="494.5" rx="1.10" ry="0.79" fill="#e652f4" fill-opacity="0.85"/>
<ellipse cx="541.3" cy="496.6" rx="0.81" ry="1.02" fill="#e652f4" fill-opacity="0.85"/>
<ellipse cx="561.6" cy="474.4" rx="0.87" ry="1.08" fill="#e652f4" fill-opacity="0.85"/>
<ellipse cx="588.8" cy="464.1" rx="0.51" ry="1.01" fill="#e652f4" fill-opacity="0.85"/>
<ellipse cx="540.6" cy="513.2" rx="0.98" ry="1.32" fill="#e652f4" fill-opacity="0.85"/>
<ellipse cx="557.2" cy="483.4" rx="0.84" ry="1.02" fill="#e652f4" fill-opacity="0.85"/>
<ellipse cx="534.6" cy="475.7" rx="0.67" ry="1.15" fill="#e652f4" fill-opacity="0.85"/>
<ellipse cx="551.2" cy="493.4" rx="0.69" ry="0.51" fill="#e652f4" fill-opacity="0.85"/>
<ellipse cx="572.4" cy="483.8" rx="0.93" ry="1.01" fill="#e652f4" fill-opacity="0.85"/>
<ellipse cx="535.6" cy="474.2" rx="0.70" ry="0.78" fill="#e652f4" fill-opacity="0.85"/>
<ellipse cx="571.7" cy="517.1" rx="0.98" ry="1.03" fill="#e652f4" fill-opacity="0.85"/>
<ellipse cx="561.0" cy="500.4" rx="1.04" ry="0.94" fill="#e652f4" fill-opacity="0.85"/>
<ellipse cx="552.8" cy="509.5" rx="0.75" ry="1.11" fill="#e652f4" fill-opacity="0.85"/>
<ellipse cx="580.8" cy="481.4" rx="0.93" ry="0.76" fill="#e652f4" fill-opacity="0.85"/>
<ellipse cx="564.0" cy="476.1" rx="0.91" ry="1.16" fill="#e652f4" fill-opacity="0.85"/>
<ellipse cx="583.7" cy="484.5" rx="1.08" ry="0.73" fill="#e652f4" fill-opacity="0.85"/>
<ellipse cx="535.7" cy="521.0" rx="0.88" ry="1.19" fill="#e652f4" fill-opacity="0.85"/>
<ellipse cx="566.0" cy="486.6" rx="0.86" ry="1.21" fill="#e652f4" fill-opacity="0.85"/>
<ellipse cx="576.1" cy="504.9" rx="0.69" ry="0.53" fill="#e652f4" fill-opacity="0.85"/>
<ellipse cx="557.2" cy="492.8" rx="0.64" ry="0.87" fill="#e652f4" fill-opacity="0.85"/>
<ellipse cx="587.2" cy="476.5" rx="0.68" ry="0.59" fill="#e652f4" fill-opacity="0.85"/>
<ellipse cx="578.0" cy="509.1" rx="1.05" ry="0.86" fill="#e652f4" fill-opacity="0.85"/>
<ellipse cx="535.4" cy="492.0" rx="0.80" ry="0.66" fill="#e652f4" fill-opacity="0.85"/>
<ellipse cx="585.7" cy="506.5" rx="0.81" ry="1.14" fill="#e652f4" fill-opacity="0.85"/>
<ellipse cx="542.0" cy="514.6" rx="0.99" ry="1.27" fill="#e652f4" fill-opacity="0.85"/>
<ellipse cx="571.9" cy="471.7" rx="0.93" ry="0.88" fill="#e652f4" fill-opacity="0.85"/>
<ellipse cx="574.0" cy="494.3" rx="0.50" ry="1.26" fill="#e652f4" fill-opacity="0.85"/>
<ellipse cx="572.5" cy="498.5" rx="0.55" ry="0.88" fill="#e652f4" fill-opacity="0.85"/>
<ellipse cx="536.6" cy="494.2" rx="0.90" ry="0.76" fill="#e652f4" fill-opacity="0.85"/>
<ellipse cx="566.3" cy="482.1" rx="1.04" ry="0.76" fill="#e652f4" fill-opacity="0.85"/>
<ellipse cx="544.8" cy="480.0" rx="0.69" ry="0.86" fill="#e652f4" fill-opacity="0.85"/>
<ellipse cx="540.6" cy="472.7" rx="0.66" ry="0.51" fill="#e652f4" fill-opacity="0.85"/>
<ellipse cx="568.9" cy="493.8" rx="0.62" ry="0.79" fill="#e652f4" fill-opacity="0.85"/>
<ellipse cx="551.8" cy="472.2" rx="0.92" ry="0.73" fill="#e652f4" fill-opacity="0.85"/>
<ellipse cx="547.7" cy="468.1" rx="0.87" ry="0.78" fill="#e652f4" fill-opacity="0.85"/>
<ellipse cx="558.8" cy="471.5" rx="0.78" ry="1.05" fill="#e652f4" fill-opacity="0.85"/>
<ellipse cx="539.9" cy="467.1" rx="0.76" ry="0.65" fill="#e652f4" fill-opacity="0.85"/>
<ellipse cx="567.4" cy="498.4" rx="1.00" ry="1.07" fill="#e652f4" fill-opacity="0.85"/>
<ellipse cx="568.5" cy="482.1" rx="0.99" ry="1.08" fill="#e652f4" fill-opacity="0.85"/>
<ellipse cx="571.6" cy="494.9" rx="1.08" ry="1.12" fill="#e652f4" fill-opacity="0.85"/>
<ellipse cx="560.1" cy="471.6" rx="0.99" ry="1.25" fill="#e652f4" fill-opacity="0.85"/>
<ellipse cx="560.2" cy="490.4" rx="0.91" ry="1.08" fill="#e652f4" fill-opacity="0.85"/>
<ellipse cx="560.1" cy="477.4" rx="0.63" ry="1.21" fill="#e652f4" fill-opacity="0.85"/>
<ellipse cx="568.5" cy="516.9" rx="0.74" ry="1.07" fill="#e652f4" fill-opacity="0.85"/>
<ellipse cx="571.3" cy="509.7" rx="1.03" ry="0.87" fill="#e652f4" fill-opacity="0.85"/>
<ellipse cx="535.7" cy="491.6" rx="0.71" ry="0.88" fill="#e652f4" fill-opacity="0.85"/>
<ellipse cx="543.6" cy="508.5" rx="0.86" ry="0.60" fill="#e652f4" fill-opacity="0.85"/>
<ellipse cx="539.8" cy="511.4" rx="0.98" ry="0.77" fill="#e652f4" fill-opacity="0.85"/>
<ellipse cx="570.4" cy="510.0" rx="0.82" ry="0.83" fill="#e652f4" fill-opacity="0.85"/>
<ellipse cx="557.2" cy="500.0" rx="0.83" ry="1.30" fill="#e652f4" fill-opacity="0.85"/>
<ellipse cx="555.5" cy="483.8" rx="0.99" ry="0.98" fill="#e652f4" fill-opacity="0.85"/>
<ellipse cx="577.9" cy="489.3" rx="0.97" ry="0.95" fill="#e652f4" fill-opacity="0.85"/>
<ellipse cx="547.2" cy="502.4" rx="0.55" ry="1.26" fill="#e652f4" fill-opacity="0.85"/>
<ellipse cx="566.2" cy="492.2" rx="0.86" ry="0.88" fill="#e652f4" fill-opacity="0.85"/>
<ellipse cx="565.1" cy="511.7" rx="0.61" ry="1.28" fill="#e652f4" fill-opacity="0.85"/>
<ellipse cx="537.9" cy="470.3" rx="0.99" ry="1.13" fill="#e652f4" fill-opacity="0.85"/>
<ellipse cx="555.2" cy="492.7" rx="0.90" ry="0.57" fill="#e652f4" fill-opacity="0.85"/>
<ellipse cx="579.8" cy="515.5" rx="1.04" ry="1.02" fill="#e652f4" fill-opacity="0.85"/>
<ellipse cx="534.0" cy="472.5" rx="0.59" ry="0.94" fill="#e652f4" fill-opacity="0.85"/>
<ellipse cx="555.8" cy="497.5" rx="0.62" ry="1.06" fill="#e652f4" fill-opacity="0.85"/>
<ellipse cx="551.7" cy="497.1" rx="1.05" ry="0.75" fill="#e652f4" fill-opacity="0.85"/>
<ellipse cx="586.8" cy="489.2" rx="1.09" ry="0.78" fill="#e652f4" fill-opacity="0.85"/>
<ellipse cx="539.0" cy="464.5" rx="1.09" ry="0.83" fill="#e652f4" fill-opacity="0.85"/>
<ellipse cx="541.1" cy="481.1" rx="0.72" ry="0.95" fill="#e652f4" fill-opacity="0.85"/>
<ellipse cx="537.0" cy="504.8" rx="0.99" ry="0.79" fill="#e652f4" fill-opacity="0.85"/>
<ellipse cx="582.2" cy="514.2" rx="0.64" ry="1.08" fill="#e652f4" fill-opacity="0.85"/>
<ellipse cx="556.1" cy="482.5" rx="0.73" ry="0.81" fill="#e652f4" fill-opacity="0.85"/>
<ellipse cx="564.5" cy="502.4" rx="0.78" ry="0.65" fill="#e652f4" fill-opacity="0.85"/>
<ellipse cx="555.5" cy="517.6" rx="1.00" ry="0.63" fill="#e652f4" fill-opacity="0.85"/>
<ellipse cx="589.9" cy="502.9" rx="0.58" ry="0.56" fill="#e652f4" fill-opacity="0.85"/>
<ellipse cx="534.9" cy="505.8" rx="0.79" ry="0.86" fill="#e652f4" fill-opacity="0.85"/>
<ellipse cx="589.5" cy="468.9" rx="0.89" ry="0.84" fill="#e652f4" fill-opacity="0.85"/>
<ellipse cx="559.5" cy="509.8" rx="0.86" ry="0.85" fill="#e652f4" fill-opacity="0.85"/>
<ellipse cx="544.1" cy="493.5" rx="0.83" ry="0.87" fill="#e652f4" fill-opacity="0.85"/>
<ellipse cx="553.9" cy="474.8" rx="0.86" ry="0.97" fill="#e652f4" fill-opacity="0.85"/>
<ellipse cx="581.4" cy="477.7" rx="0.80" ry="0.84" fill="#e652f4" fill-opacity="0.85"/>
<ellipse cx="564.6" cy="485.3" rx="1.09" ry="0.97" fill="#e652f4" fill-opacity="0.85"/>
<ellipse cx="573.5" cy="470.6" rx="0.79" ry="1.07" fill="#e652f4" fill-opacity="0.85"/>
<ellipse cx="542.0" cy="506.4" rx="1.09" ry="1.31" fill="#e652f4" fill-opacity="0.85"/>
<ellipse cx="577.6" cy="491.0" rx="0.55" ry="1.23" fill="#e652f4" fill-opacity="0.85"/>
<ellipse cx="539.0" cy="491.4" rx="0.95" ry="1.29" fill="#e652f4" fill-opacity="0.85"/>
<ellipse cx="538.4" cy="500.8" rx="0.98" ry="0.76" fill="#e652f4" fill-opacity="0.85"/>
<ellipse cx="537.0" cy="483.9" rx="0.97" ry="0.88" fill="#e652f4" fill-opacity="0.85"/>
<ellipse cx="562.7" cy="491.2" rx="0.94" ry="0.85" fill="#e652f4" fill-opacity="0.85"/>
<ellipse cx="587.8" cy="510.3" rx="0.67" ry="0.53" fill="#e652f4" fill-opacity="0.85"/>
<ellipse cx="585.7" cy="507.5" rx="0.94" ry="0.96" fill="#e652f4" fill-opacity="0.85"/>
<ellipse cx="537.4" cy="491.4" rx="0.60" ry="0.54" fill="#e652f4" fill-opacity="0.85"/>
<ellipse cx="589.5" cy="510.9" rx="0.87" ry="0.74" fill="#e652f4" fill-opacity="0.85"/>
<ellipse cx="538.6" cy="493.3" rx="1.01" ry="0.73" fill="#e652f4" fill-opacity="0.85"/>
<ellipse cx="541.4" cy="480.3" rx="1.01" ry="0.51" fill="#e652f4" fill-opacity="0.85"/>
<ellipse cx="540.2" cy="474.1" rx="0.86" ry="0.62" fill="#e652f4" fill-opacity="0.85"/>
<ellipse cx="559.0" cy="510.9" rx="0.66" ry="1.07" fill="#e652f4" fill-opacity="0.85"/>
<ellipse cx="561.2" cy="510.4" rx="1.02" ry="0.78" fill="#e652f4" fill-opacity="0.85"/>
<ellipse cx="538.7" cy="472.4" rx="1.06" ry="0.63" fill="#e652f4" fill-opacity="0.85"/>
<ellipse cx="561.8" cy="521.6" rx="0.96" ry="0.70" fill="#e652f4" fill-opacity="0.85"/>
<ellipse cx="558.7" cy="501.0" rx="0.63" ry="1.10" fill="#e652f4" fill-opacity="0.85"/>
<ellipse cx="553.3" cy="501.3" rx="0.95" ry="0.60" fill="#e652f4" fill-opacity="0.85"/>
<ellipse cx="543.4" cy="487.1" rx="0.68" ry="1.11" fill="#e652f4" fill-opacity="0.85"/>
<ellipse cx="576.1" cy="494.9" rx="0.73" ry="1.08" fill="#e652f4" fill-opacity="0.85"/>
<ellipse cx="560.6" cy="472.4" rx="1.02" ry="0.51" fill="#e652f4" fill-opacity="0.85"/>
<ellipse cx="585.9" cy="490.0" rx="0.91" ry="1.29" fill="#e652f4" fill-opacity="0.85"/>
<ellipse cx="572.2" cy="466.4" rx="1.05" ry="1.02" fill="#e652f4" fill-opacity="0.85"/>
<ellipse cx="587.5" cy="489.0" rx="1.05" ry="1.20" fill="#e652f4" fill-opacity="0.85"/>
<ellipse cx="552.8" cy="479.5" rx="0.56" ry="1.04" fill="#e652f4" fill-opacity="0.85"/>
<ellipse cx="555.9" cy="508.8" rx="0.95" ry="1.10" fill="#e652f4" fill-opacity="0.85"/>
<ellipse cx="567.0" cy="475.3" rx="0.70" ry="1.07" fill="#e652f4" fill-opacity="0.85"/>
<ellipse cx="544.1" cy="495.8" rx="0.90" ry="1.18" fill="#e652f4" fill-opacity="0.85"/>
<ellipse cx="534.7" cy="469.7" rx="0.56" ry="0.87" fill="#e652f4" fill-opacity="0.85"/>
<ellipse cx="546.3" cy="480.4" rx="0.62" ry="0.52" fill="#e652f4" fill-opacity="0.85"/>
<ellipse cx="539.1" cy="518.4" rx="0.89" ry="1.19" fill="#e652f4" fill-opacity="0.85"/>
<ellipse cx="587.2" cy="501.0" rx="0.92" ry="0.60" fill="#e652f4" fill-opacity="0.85"/>
<ellipse cx="582.0" cy="471.5" rx="0.89" ry="1.24" fill="#e652f4" fill-opacity="0.85"/>
<ellipse cx="565.7" cy="520.1" rx="1.04" ry="1.07" fill="#e652f4" fill-opacity="0.85"/>
<ellipse cx="548.2" cy="491.1" rx="1.06" ry="1.02" fill="#e652f4" fill-opacity="0.85"/>
<ellipse cx="585.7" cy="480.0" rx="0.76" ry="1.24" fill="#e652f4" fill-opacity="0.85"/>
<ellipse cx="577.1" cy="482.8" rx="0.60" ry="0.56" fill="#e652f4" fill-opacity="0.85"/>
<ellipse cx="577.5" cy="486.2" rx="0.70" ry="0.55" fill="#e652f4" fill-opacity="0.85"/>
<ellipse cx="587.5" cy="479.4" rx="0.76" ry="0.90" fill="#e652f4" fill-opacity="0.85"/>
<ellipse cx="586.0" cy="499.4" rx="0.61" ry="0.90" fill="#e652f4" fill-opacity="0.85"/>
<ellipse cx="542.1" cy="508.6" rx="0.63" ry="1.03" fill="#e652f4" fill-opacity="0.85"/>
<ellipse cx="585.1" cy="505.5" rx="0.56" ry="0.56" fill="#e652f4" fill-opacity="0.85"/>
<ellipse cx="566.0" cy="478.5" rx="0.77" ry="1.24" fill="#e652f4" fill-opacity="0.85"/>
<ellipse cx="542.3" cy="501.1" rx="1.06" ry="1.04" fill="#e652f4" fill-opacity="0.85"/>
<ellipse cx="548.9" cy="504.6" rx="1.04" ry="0.97" fill="#e652f4" fill-opacity="0.85"/>
<ellipse cx="562.9" cy="518.5" rx="0.79" ry="0.86" fill="#e652f4" fill-opacity="0.85"/>
<ellipse cx="581.3" cy="509.3" rx="0.97" ry="0.94" fill="#e652f4" fill-opacity="0.85"/>
<ellipse cx="534.2" cy="519.3" rx="0.99" ry="0.90" fill="#e652f4" fill-opacity="0.85"/>
<ellipse cx="565.8" cy="518.2" rx="0.72" ry="1.06" fill="#e652f4" fill-opacity="0.85"/>
<ellipse cx="556.4" cy="500.7" rx="1.08" ry="0.57" fill="#e652f4" fill-opacity="0.85"/>
<ellipse cx="563.9" cy="519.7" rx="0.55" ry="0.88" fill="#e652f4" fill-opacity="0.85"/>
<ellipse cx="576.9" cy="501.6" rx="0.61" ry="0.53" fill="#e652f4" fill-opacity="0.85"/>
<ellipse cx="555.5" cy="475.1" rx="0.92" ry="1.24" fill="#e652f4" fill-opacity="0.85"/>
<ellipse cx="569.3" cy="484.8" rx="0.55" ry="1.02" fill="#e652f4" fill-opacity="0.85"/>
<ellipse cx="575.2" cy="472.1" rx="0.62" ry="1.09" fill="#e652f4" fill-opacity="0.85"/>
<ellipse cx="567.2" cy="492.4" rx="0.54" ry="0.94" fill="#e652f4" fill-opacity="0.85"/>
<ellipse cx="551.2" cy="495.0" rx="1.00" ry="0.87" fill="#e652f4" fill-opacity="0.85"/>
<ellipse cx="589.8" cy="466.1" rx="0.53" ry="1.15" fill="#e652f4" fill-opacity="0.85"/>
<ellipse cx="536.4" cy="470.9" rx="0.98" ry="1.05" fill="#e652f4" fill-opacity="0.85"/>
<ellipse cx="559.7" cy="503.3" rx="1.02" ry="0.62" fill="#e652f4" fill-opacity="0.85"/>
<ellipse cx="566.4" cy="517.6" rx="0.52" ry="0.62" fill="#e652f4" fill-opacity="0.85"/>
<ellipse cx="570.6" cy="491.3" rx="1.05" ry="0.54" fill="#e652f4" fill-opacity="0.85"/>
<ellipse cx="573.3" cy="471.6" rx="0.60" ry="0.54" fill="#e652f4" fill-opacity="0.85"/>
<ellipse cx="551.2" cy="510.0" rx="0.77" ry="0.64" fill="#e652f4" fill-opacity="0.85"/>
<ellipse cx="567.1" cy="511.4" rx="0.56" ry="0.91" fill="#e652f4" fill-opacity="0.85"/>
<ellipse cx="578.8" cy="476.8" rx="0.98" ry="0.85" fill="#e652f4" fill-opacity="0.85"/>
<ellipse cx="579.4" cy="521.0" rx="0.91" ry="0.77" fill="#e652f4" fill-opacity="0.85"/>
<ellipse cx="588.6" cy="497.4" rx="0.58" ry="1.19" fill="#e652f4" fill-opacity="0.85"/>
<ellipse cx="578.4" cy="508.3" rx="0.86" ry="0.78" fill="#e652f4" fill-opacity="0.85"/>
<ellipse cx="540.8" cy="472.2" rx="0.75" ry="1.07" fill="#e652f4" fill-opacity="0.85"/>
<ellipse cx="565.0" cy="489.4" rx="1.06" ry="0.53" fill="#e652f4" fill-opacity="0.85"/>
<ellipse cx="539.6" cy="513.1" rx="0.87" ry="1.14" fill="#e652f4" fill-opacity="0.85"/>
<ellipse cx="534.9" cy="492.2" rx="0.50" ry="0.65" fill="#e652f4" fill-opacity="0.85"/>
<ellipse cx="539.0" cy="501.8" rx="1.03" ry="0.84" fill="#e652f4" fill-opacity="0.85"/>
<ellipse cx="579.2" cy="508.8" rx="0.92" ry="0.67" fill="#e652f4" fill-opacity="0.85"/>
<ellipse cx="569.8" cy="494.3" rx="0.75" ry="1.27" fill="#e652f4" fill-opacity="0.85"/>
<ellipse cx="568.2" cy="466.2" rx="0.61" ry="0.91" fill="#e652f4" fill-opacity="0.85"/>
<ellipse cx="587.2" cy="500.4" rx="0.97" ry="0.79" fill="#e652f4" fill-opacity="0.85"/>
<ellipse cx="534.3" cy="477.7" rx="0.57" ry="0.93" fill="#e652f4" fill-opacity="0.85"/>
<ellipse cx="539.4" cy="485.0" rx="0.96" ry="0.94" fill="#e652f4" fill-opacity="0.85"/>
<ellipse cx="546.3" cy="508.7" rx="0.90" ry="0.73" fill="#e652f4" fill-opacity="0.85"/>
<ellipse cx="544.8" cy="510.2" rx="0.91" ry="1.29" fill="#e652f4" fill-opacity="0.85"/>
</g>
<path d="M588,448 L624,452 L620,500 L596,512 Z" fill="#403448" fill-opacity="0.7" filter="url(#bl6)"/>
<path d="M614,462 C628,448 648,436 672,428" fill="none" stroke="#8a2aa0" stroke-width="12" stroke-opacity="0.7" filter="url(#bl4)"/>
<ellipse cx="642.6" cy="430.0" rx="0.77" ry="0.53" fill="#d448e4" fill-opacity="0.75"/>
<ellipse cx="652.1" cy="433.7" rx="0.67" ry="0.69" fill="#d448e4" fill-opacity="0.75"/>
<ellipse cx="661.1" cy="449.8" rx="0.52" ry="0.93" fill="#d448e4" fill-opacity="0.75"/>
<ellipse cx="667.8" cy="430.0" rx="0.81" ry="0.78" fill="#d448e4" fill-opacity="0.75"/>
<ellipse cx="622.5" cy="454.4" rx="0.79" ry="0.84" fill="#d448e4" fill-opacity="0.75"/>
<ellipse cx="634.3" cy="430.8" rx="0.77" ry="0.69" fill="#d448e4" fill-opacity="0.75"/>
<ellipse cx="659.6" cy="435.1" rx="0.54" ry="0.93" fill="#d448e4" fill-opacity="0.75"/>
<ellipse cx="664.7" cy="436.8" rx="0.59" ry="0.77" fill="#d448e4" fill-opacity="0.75"/>
<ellipse cx="643.1" cy="454.3" rx="0.56" ry="1.04" fill="#d448e4" fill-opacity="0.75"/>
<ellipse cx="641.5" cy="437.2" rx="0.55" ry="0.92" fill="#d448e4" fill-opacity="0.75"/>
<ellipse cx="651.4" cy="457.2" rx="0.58" ry="0.57" fill="#d448e4" fill-opacity="0.75"/>
<ellipse cx="654.8" cy="426.0" rx="0.55" ry="0.99" fill="#d448e4" fill-opacity="0.75"/>
<ellipse cx="641.7" cy="429.8" rx="0.64" ry="1.01" fill="#d448e4" fill-opacity="0.75"/>
<ellipse cx="649.8" cy="450.8" rx="0.76" ry="0.85" fill="#d448e4" fill-opacity="0.75"/>
<ellipse cx="625.5" cy="457.0" rx="0.84" ry="0.55" fill="#d448e4" fill-opacity="0.75"/>
<ellipse cx="664.0" cy="440.6" rx="0.90" ry="0.84" fill="#d448e4" fill-opacity="0.75"/>
<ellipse cx="662.9" cy="433.5" rx="0.79" ry="0.93" fill="#d448e4" fill-opacity="0.75"/>
<ellipse cx="629.8" cy="435.1" rx="0.73" ry="1.02" fill="#d448e4" fill-opacity="0.75"/>
<ellipse cx="649.1" cy="429.1" rx="0.73" ry="0.50" fill="#d448e4" fill-opacity="0.75"/>
<ellipse cx="670.9" cy="425.4" rx="0.69" ry="0.95" fill="#d448e4" fill-opacity="0.75"/>
<ellipse cx="617.9" cy="442.1" rx="0.69" ry="0.96" fill="#d448e4" fill-opacity="0.75"/>
<ellipse cx="662.0" cy="439.4" rx="0.60" ry="0.82" fill="#d448e4" fill-opacity="0.75"/>
<ellipse cx="616.7" cy="448.9" rx="0.88" ry="0.58" fill="#d448e4" fill-opacity="0.75"/>
<ellipse cx="632.6" cy="446.0" rx="0.54" ry="0.78" fill="#d448e4" fill-opacity="0.75"/>
<ellipse cx="633.1" cy="447.9" rx="0.84" ry="0.93" fill="#d448e4" fill-opacity="0.75"/>
<ellipse cx="617.4" cy="439.5" rx="0.81" ry="1.01" fill="#d448e4" fill-opacity="0.75"/>
<ellipse cx="638.7" cy="450.9" rx="0.65" ry="0.77" fill="#d448e4" fill-opacity="0.75"/>
<ellipse cx="651.5" cy="453.3" rx="0.53" ry="1.02" fill="#d448e4" fill-opacity="0.75"/>
<ellipse cx="634.6" cy="425.1" rx="0.67" ry="0.66" fill="#d448e4" fill-opacity="0.75"/>
<ellipse cx="669.0" cy="442.4" rx="0.82" ry="0.96" fill="#d448e4" fill-opacity="0.75"/>
<ellipse cx="620.5" cy="453.9" rx="0.79" ry="0.53" fill="#d448e4" fill-opacity="0.75"/>
<ellipse cx="668.9" cy="446.9" rx="0.86" ry="0.56" fill="#d448e4" fill-opacity="0.75"/>
<ellipse cx="636.5" cy="445.1" rx="0.65" ry="0.60" fill="#d448e4" fill-opacity="0.75"/>
<ellipse cx="647.3" cy="426.3" rx="0.78" ry="0.62" fill="#d448e4" fill-opacity="0.75"/>
<ellipse cx="671.0" cy="432.1" rx="0.55" ry="0.78" fill="#d448e4" fill-opacity="0.75"/>
<ellipse cx="668.6" cy="443.7" rx="0.88" ry="0.62" fill="#d448e4" fill-opacity="0.75"/>
<ellipse cx="657.7" cy="431.7" rx="0.64" ry="0.66" fill="#d448e4" fill-opacity="0.75"/>
<ellipse cx="654.1" cy="433.4" rx="0.53" ry="0.70" fill="#d448e4" fill-opacity="0.75"/>
<ellipse cx="643.2" cy="441.9" rx="0.55" ry="0.91" fill="#d448e4" fill-opacity="0.75"/>
<ellipse cx="654.0" cy="442.1" rx="0.62" ry="0.86" fill="#d448e4" fill-opacity="0.75"/>
<ellipse cx="660.8" cy="456.1" rx="0.82" ry="1.05" fill="#d448e4" fill-opacity="0.75"/>
<ellipse cx="619.7" cy="454.3" rx="0.68" ry="0.55" fill="#d448e4" fill-opacity="0.75"/>
<ellipse cx="666.3" cy="433.8" rx="0.88" ry="0.56" fill="#d448e4" fill-opacity="0.75"/>
<ellipse cx="631.5" cy="447.7" rx="0.70" ry="1.01" fill="#d448e4" fill-opacity="0.75"/>
<ellipse cx="645.2" cy="445.3" rx="0.62" ry="1.06" fill="#d448e4" fill-opacity="0.75"/>
<ellipse cx="646.3" cy="428.5" rx="0.64" ry="0.76" fill="#d448e4" fill-opacity="0.75"/>
<ellipse cx="652.1" cy="433.9" rx="0.53" ry="1.01" fill="#d448e4" fill-opacity="0.75"/>
<ellipse cx="629.0" cy="456.2" rx="0.76" ry="0.74" fill="#d448e4" fill-opacity="0.75"/>
<ellipse cx="635.2" cy="446.0" rx="0.63" ry="0.84" fill="#d448e4" fill-opacity="0.75"/>
<ellipse cx="655.0" cy="452.6" rx="0.68" ry="0.68" fill="#d448e4" fill-opacity="0.75"/>
<path d="M591.00,521.00 C589.17,517.92 595.83,509.33 599.00,504.00 C602.17,498.67 606.33,494.50 610.00,489.00 C613.67,483.50 617.67,475.83 621.00,471.00 C624.33,466.17 626.17,463.75 630.00,460.00 C633.83,456.25 639.50,451.50 644.00,448.50 C648.50,445.50 652.67,443.83 657.00,442.00 C661.33,440.17 666.50,437.83 670.00,437.50 C673.50,437.17 676.17,436.25 678.00,440.00 C679.83,443.75 681.50,453.00 681.00,460.00 C680.50,467.00 678.17,475.33 675.00,482.00 C671.83,488.67 667.17,495.17 662.00,500.00 C656.83,504.83 649.67,507.67 644.00,511.00 C638.33,514.33 633.67,518.08 628.00,520.00 C622.33,521.92 616.17,522.33 610.00,522.50 C603.83,522.67 592.83,524.08 591.00,521.00 Z" fill="#2ca42c" filter="url(#bl3)"/>
<ellipse cx="640" cy="484" rx="26" ry="18" transform="rotate(-42 640 484)" fill="#4ee84e" fill-opacity="0.85" filter="url(#bl8)"/>
<path d="M595,520 C604,508 618,503 634,500 L640,512 C630,519 612,524 600,525 Z" fill="#58f058" filter="url(#bl3)"/>
<ellipse cx="606.2" cy="504.7" rx="0.49" ry="0.58" fill="#1a5a1a" fill-opacity="0.7"/>
<ellipse cx="660.4" cy="443.9" rx="0.58" ry="0.71" fill="#1a5a1a" fill-opacity="0.7"/>
<ellipse cx="609.1" cy="515.8" rx="0.76" ry="0.59" fill="#1a5a1a" fill-opacity="0.7"/>
<ellipse cx="653.9" cy="494.6" rx="0.48" ry="0.56" fill="#1a5a1a" fill-opacity="0.7"/>
<ellipse cx="620.6" cy="515.5" rx="0.60" ry="0.74" fill="#1a5a1a" fill-opacity="0.7"/>
<ellipse cx="623.2" cy="497.8" rx="0.64" ry="0.60" fill="#1a5a1a" fill-opacity="0.7"/>
<ellipse cx="632.6" cy="496.5" rx="0.77" ry="1.01" fill="#1a5a1a" fill-opacity="0.7"/>
<ellipse cx="666.5" cy="476.6" rx="0.45" ry="0.44" fill="#1a5a1a" fill-opacity="0.7"/>
<ellipse cx="649.5" cy="487.8" rx="0.51" ry="1.04" fill="#1a5a1a" fill-opacity="0.7"/>
<ellipse cx="640.8" cy="476.5" rx="0.74" ry="0.46" fill="#1a5a1a" fill-opacity="0.7"/>
<ellipse cx="622.0" cy="489.6" rx="0.87" ry="1.02" fill="#1a5a1a" fill-opacity="0.7"/>
<ellipse cx="667.6" cy="470.3" rx="0.59" ry="0.59" fill="#1a5a1a" fill-opacity="0.7"/>
<ellipse cx="669.3" cy="447.2" rx="0.76" ry="0.70" fill="#1a5a1a" fill-opacity="0.7"/>
<ellipse cx="619.5" cy="506.1" rx="0.89" ry="0.69" fill="#1a5a1a" fill-opacity="0.7"/>
<ellipse cx="671.2" cy="451.4" rx="0.69" ry="0.46" fill="#1a5a1a" fill-opacity="0.7"/>
<ellipse cx="659.3" cy="447.3" rx="0.60" ry="1.02" fill="#1a5a1a" fill-opacity="0.7"/>
<ellipse cx="630.2" cy="485.6" rx="0.76" ry="0.91" fill="#1a5a1a" fill-opacity="0.7"/>
<ellipse cx="627.5" cy="485.4" rx="0.42" ry="0.96" fill="#1a5a1a" fill-opacity="0.7"/>
<ellipse cx="665.9" cy="464.9" rx="0.68" ry="0.72" fill="#1a5a1a" fill-opacity="0.7"/>
<ellipse cx="665.9" cy="478.7" rx="0.73" ry="1.01" fill="#1a5a1a" fill-opacity="0.7"/>
<ellipse cx="630.5" cy="480.3" rx="0.74" ry="0.57" fill="#1a5a1a" fill-opacity="0.7"/>
<ellipse cx="658.4" cy="487.6" rx="0.68" ry="0.99" fill="#1a5a1a" fill-opacity="0.7"/>
<ellipse cx="648.4" cy="479.0" rx="0.75" ry="0.48" fill="#1a5a1a" fill-opacity="0.7"/>
<ellipse cx="638.6" cy="487.2" rx="0.82" ry="0.51" fill="#1a5a1a" fill-opacity="0.7"/>
<ellipse cx="669.7" cy="451.1" rx="0.48" ry="0.59" fill="#1a5a1a" fill-opacity="0.7"/>
<ellipse cx="630.7" cy="514.8" rx="0.58" ry="0.60" fill="#1a5a1a" fill-opacity="0.7"/>
<ellipse cx="638.7" cy="502.8" rx="0.49" ry="0.46" fill="#1a5a1a" fill-opacity="0.7"/>
<ellipse cx="659.0" cy="484.6" rx="0.84" ry="0.96" fill="#1a5a1a" fill-opacity="0.7"/>
<ellipse cx="653.2" cy="464.7" rx="0.74" ry="0.87" fill="#1a5a1a" fill-opacity="0.7"/>
<ellipse cx="639.0" cy="470.6" rx="0.64" ry="0.63" fill="#1a5a1a" fill-opacity="0.7"/>
<ellipse cx="672.4" cy="448.4" rx="0.48" ry="0.55" fill="#1a5a1a" fill-opacity="0.7"/>
<ellipse cx="611.0" cy="513.6" rx="0.71" ry="0.97" fill="#1a5a1a" fill-opacity="0.7"/>
<ellipse cx="639.7" cy="483.6" rx="0.68" ry="0.91" fill="#1a5a1a" fill-opacity="0.7"/>
<ellipse cx="645.8" cy="502.6" rx="0.57" ry="0.88" fill="#1a5a1a" fill-opacity="0.7"/>
<ellipse cx="613.9" cy="510.3" rx="0.47" ry="0.55" fill="#1a5a1a" fill-opacity="0.7"/>
<ellipse cx="661.6" cy="446.4" rx="0.79" ry="0.91" fill="#1a5a1a" fill-opacity="0.7"/>
<ellipse cx="662.4" cy="482.1" rx="0.43" ry="0.48" fill="#1a5a1a" fill-opacity="0.7"/>
<ellipse cx="612.5" cy="513.9" rx="0.49" ry="0.64" fill="#1a5a1a" fill-opacity="0.7"/>
<ellipse cx="637.6" cy="499.7" rx="0.52" ry="0.79" fill="#1a5a1a" fill-opacity="0.7"/>
<ellipse cx="655.2" cy="470.0" rx="0.69" ry="0.70" fill="#1a5a1a" fill-opacity="0.7"/>
<ellipse cx="625.2" cy="471.1" rx="0.51" ry="0.55" fill="#1a5a1a" fill-opacity="0.7"/>
<ellipse cx="654.9" cy="485.7" rx="0.42" ry="0.62" fill="#1a5a1a" fill-opacity="0.7"/>
<ellipse cx="646.0" cy="465.6" rx="0.89" ry="0.70" fill="#1a5a1a" fill-opacity="0.7"/>
<ellipse cx="642.1" cy="463.8" rx="0.83" ry="0.53" fill="#1a5a1a" fill-opacity="0.7"/>
<ellipse cx="635.4" cy="495.7" rx="0.49" ry="1.08" fill="#1a5a1a" fill-opacity="0.7"/>
<ellipse cx="632.2" cy="494.0" rx="0.44" ry="0.50" fill="#1a5a1a" fill-opacity="0.7"/>
<ellipse cx="629.1" cy="488.4" rx="0.45" ry="1.03" fill="#1a5a1a" fill-opacity="0.7"/>
<ellipse cx="605.4" cy="508.7" rx="0.76" ry="0.59" fill="#1a5a1a" fill-opacity="0.7"/>
<ellipse cx="655.6" cy="487.7" rx="0.54" ry="0.94" fill="#1a5a1a" fill-opacity="0.7"/>
<ellipse cx="649.7" cy="472.8" rx="0.64" ry="0.81" fill="#1a5a1a" fill-opacity="0.7"/>
<ellipse cx="629.4" cy="479.7" rx="0.54" ry="0.92" fill="#1a5a1a" fill-opacity="0.7"/>
<ellipse cx="637.3" cy="491.5" rx="0.47" ry="0.47" fill="#1a5a1a" fill-opacity="0.7"/>
<ellipse cx="627.5" cy="495.7" rx="0.48" ry="0.82" fill="#1a5a1a" fill-opacity="0.7"/>
<ellipse cx="662.4" cy="456.6" rx="0.73" ry="0.73" fill="#1a5a1a" fill-opacity="0.7"/>
<ellipse cx="668.1" cy="484.8" rx="0.88" ry="0.42" fill="#1a5a1a" fill-opacity="0.7"/>
<ellipse cx="631.6" cy="515.0" rx="0.59" ry="0.61" fill="#1a5a1a" fill-opacity="0.7"/>
<ellipse cx="627.0" cy="477.7" rx="0.42" ry="0.78" fill="#1a5a1a" fill-opacity="0.7"/>
<ellipse cx="668.1" cy="464.8" rx="0.75" ry="0.73" fill="#1a5a1a" fill-opacity="0.7"/>
<ellipse cx="652.4" cy="494.1" rx="0.74" ry="0.79" fill="#1a5a1a" fill-opacity="0.7"/>
<ellipse cx="635.5" cy="510.1" rx="0.65" ry="0.67" fill="#1a5a1a" fill-opacity="0.7"/>
<path d="M545,526 C590,534 650,530 685,505" fill="none" stroke="#1c3a1c" stroke-width="1.5"/>
<text x="547.50" y="433.10" font-size="11.1" fill="#ffffff" text-anchor="start" >Fiber tract</text>
<path d="M602,417 L602,449.5 L615.6,449.5 L615.6,417" fill="none" stroke="#ffffff" stroke-width="1.0" stroke-dasharray="2 1.6"/>
<text x="614.80" y="513.30" font-size="12.1" fill="#ffffff" text-anchor="start" >SN</text>
<line x1="670.50" y1="529.00" x2="679.00" y2="529.00" stroke="#ffffff" stroke-width="2.0" />
</g>
</svg>
</body></html>
